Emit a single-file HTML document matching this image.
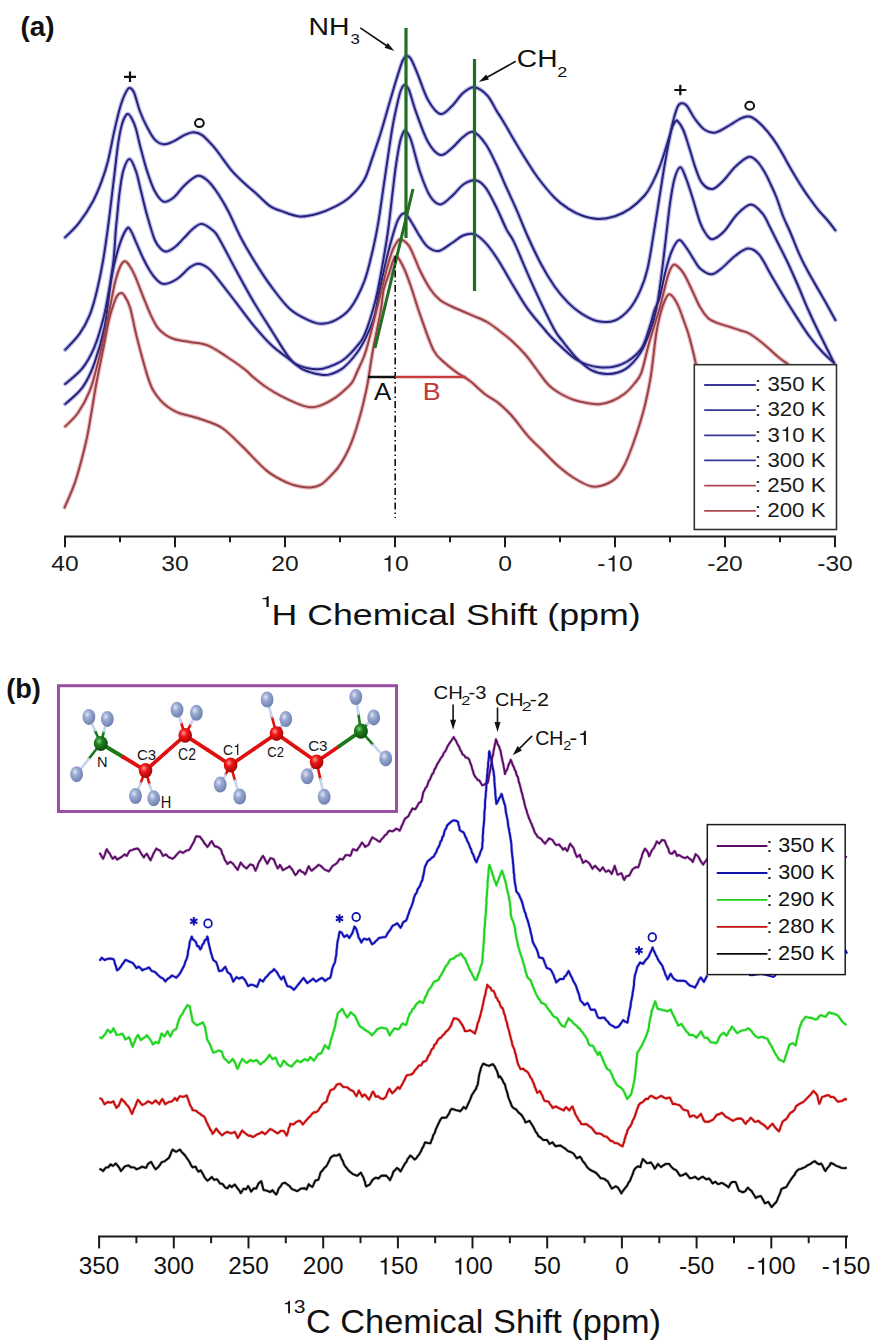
<!DOCTYPE html>
<html><head><meta charset="utf-8"><title>NMR spectra</title><style>
html,body{margin:0;padding:0;background:#fff;}
body{width:879px;height:1344px;overflow:hidden;position:relative;font-family:"Liberation Sans",sans-serif;}
svg{position:absolute;left:0;top:0;display:block;}
svg text{font-family:"Liberation Sans",sans-serif;}
</style></head><body>
<svg width="879" height="1344" viewBox="0 0 879 1344">
<defs>
<radialGradient id="gH" cx="0.38" cy="0.35" r="0.7"><stop offset="0" stop-color="#dfe6f6"/><stop offset="0.35" stop-color="#9aaad2"/><stop offset="1" stop-color="#6a7cab"/></radialGradient>
<radialGradient id="gC" cx="0.38" cy="0.35" r="0.7"><stop offset="0" stop-color="#ff9a9a"/><stop offset="0.35" stop-color="#f01818"/><stop offset="1" stop-color="#a00000"/></radialGradient>
<radialGradient id="gN" cx="0.38" cy="0.35" r="0.7"><stop offset="0" stop-color="#7fcf7f"/><stop offset="0.35" stop-color="#1f7f1f"/><stop offset="1" stop-color="#0a4a0a"/></radialGradient>
</defs>
<text transform="translate(20.40,35.80) scale(1.0076,1)" font-size="27.70" font-weight="bold" fill="#111">(a)</text>
<path d="M65.1,237.4 C67.4,235.0 74.4,228.9 79.0,222.9 C83.6,216.9 89.1,208.4 92.9,201.4 C96.7,194.4 99.2,187.8 101.7,181.1 C104.2,174.3 105.9,169.3 108.0,160.9 C110.1,152.5 112.3,139.9 114.4,130.6 C116.5,121.3 118.8,111.6 120.7,105.3 C122.6,99.0 124.2,95.5 125.7,92.6 C127.2,89.7 128.1,88.0 129.5,88.0 C130.9,88.0 132.2,88.6 134.0,92.5 C135.8,96.4 137.8,105.6 140.0,111.5 C142.2,117.4 144.9,123.0 147.4,127.7 C149.9,132.4 152.1,136.8 154.8,139.6 C157.5,142.4 160.5,144.1 163.7,144.3 C166.9,144.6 170.6,142.6 174.0,141.1 C177.4,139.6 181.2,136.6 184.4,135.1 C187.6,133.6 190.2,132.2 193.2,132.2 C196.1,132.2 198.6,132.6 202.1,135.1 C205.6,137.6 210.4,143.1 213.9,147.0 C217.4,150.9 219.8,154.9 222.8,158.8 C225.8,162.7 228.2,166.7 231.7,170.6 C235.1,174.5 239.6,178.8 243.5,182.5 C247.4,186.2 251.0,188.9 255.4,192.8 C259.8,196.7 265.7,203.1 270.0,206.1 C274.3,209.1 276.1,209.2 281.0,210.9 C285.9,212.6 293.1,215.9 299.2,216.4 C305.3,216.9 311.3,215.4 317.4,213.7 C323.5,212.0 330.2,209.2 335.6,206.4 C341.0,203.6 345.2,201.4 350.0,197.0 C354.8,192.6 360.4,186.4 364.1,180.0 C367.8,173.6 369.4,166.3 372.2,158.3 C375.0,150.3 378.2,141.1 381.0,132.0 C383.8,122.9 386.9,111.7 389.2,103.7 C391.5,95.7 393.3,89.7 395.0,84.0 C396.7,78.3 398.2,73.6 399.5,69.6 C400.8,65.6 401.8,62.3 403.0,60.0 C404.2,57.7 405.2,56.2 406.5,56.0 C407.8,55.8 409.1,55.8 411.0,59.0 C412.9,62.2 415.2,68.2 418.0,75.0 C420.8,81.8 424.3,93.5 428.0,100.0 C431.7,106.5 436.4,113.0 440.4,114.0 C444.4,115.0 448.2,109.5 452.0,106.0 C455.8,102.5 459.3,96.1 463.0,93.0 C466.7,89.9 470.1,86.9 474.2,87.3 C478.2,87.7 483.6,91.6 487.3,95.5 C491.0,99.4 494.2,107.0 496.4,110.5 C498.5,114.0 498.6,113.9 500.2,116.5 C501.8,119.1 503.4,121.6 506.0,126.0 C508.6,130.4 512.2,137.0 515.8,142.9 C519.3,148.8 523.6,155.9 527.3,161.7 C530.9,167.5 533.2,171.5 537.7,177.5 C542.2,183.5 549.5,192.5 554.6,197.7 C559.7,202.9 563.8,205.7 568.3,208.7 C572.8,211.7 576.9,213.8 581.9,215.5 C586.9,217.2 592.8,218.8 598.3,218.9 C603.8,219.0 609.6,218.0 614.9,216.3 C620.1,214.6 624.8,212.4 629.8,208.9 C634.8,205.4 640.9,199.7 644.6,195.5 C648.3,191.3 649.6,188.3 652.1,183.6 C654.6,178.9 657.3,172.9 659.5,167.2 C661.7,161.5 663.8,154.8 665.5,149.3 C667.2,143.9 668.4,140.1 669.9,134.5 C671.4,128.9 673.1,120.8 674.5,116.0 C675.9,111.2 676.8,108.1 678.0,106.0 C679.2,103.9 680.5,103.3 682.0,103.3 C683.5,103.3 684.8,103.4 687.0,106.0 C689.2,108.6 692.0,115.0 695.0,119.0 C698.0,123.0 701.5,127.8 705.0,130.0 C708.5,132.2 711.6,133.2 715.8,132.4 C720.0,131.6 726.0,127.3 730.0,125.0 C734.0,122.7 737.2,120.2 740.0,118.8 C742.8,117.4 744.7,116.7 746.8,116.5 C748.9,116.3 749.8,116.0 752.5,117.6 C755.2,119.2 759.4,122.7 762.8,126.2 C766.2,129.7 770.0,134.5 773.0,138.7 C776.0,142.9 778.0,146.1 781.0,151.2 C784.0,156.3 787.4,162.9 791.2,169.4 C795.0,175.9 800.4,184.8 803.7,189.9 C807.0,195.0 808.3,196.6 810.8,200.0 C813.2,203.4 815.4,206.5 818.4,210.1 C821.4,213.7 825.7,218.1 828.5,221.5 C831.3,224.9 834.2,228.8 835.4,230.3" fill="none" stroke="#bcbcec" stroke-width="4.4" stroke-linejoin="round" stroke-linecap="round"/>
<path d="M65.2,349.8 C67.5,347.2 75.2,340.0 79.3,334.2 C83.4,328.4 86.8,322.2 89.8,314.8 C92.8,307.4 95.0,298.7 97.2,289.5 C99.4,280.3 101.5,269.7 103.2,259.8 C104.9,249.9 106.4,238.9 107.6,230.0 C108.8,221.1 109.5,215.6 110.6,206.4 C111.7,197.2 113.1,185.3 114.4,174.8 C115.7,164.3 116.9,151.6 118.2,143.2 C119.5,134.8 120.5,129.1 122.0,124.2 C123.5,119.3 125.6,114.9 127.3,114.0 C129.0,113.1 130.6,116.5 132.0,119.0 C133.4,121.5 134.7,124.6 136.0,129.0 C137.3,133.4 138.1,138.3 140.0,145.5 C141.9,152.7 144.9,164.5 147.4,172.1 C149.9,179.7 152.1,186.4 154.8,191.3 C157.5,196.2 160.5,200.7 163.7,201.7 C166.9,202.7 170.6,200.0 174.0,197.3 C177.4,194.6 180.5,189.0 184.4,185.4 C188.3,181.8 193.8,176.5 197.7,175.8 C201.6,175.1 204.6,177.9 208.0,181.0 C211.4,184.1 215.0,189.1 218.4,194.3 C221.8,199.5 225.0,204.8 228.7,212.0 C232.4,219.2 236.4,229.2 240.6,237.2 C244.8,245.2 248.5,251.6 253.7,260.0 C258.9,268.4 265.8,279.2 271.9,287.4 C278.0,295.6 284.0,303.8 290.1,309.2 C296.2,314.6 303.2,317.7 308.3,320.1 C313.4,322.5 316.4,323.8 321.0,323.8 C325.6,323.8 330.8,322.6 335.6,320.1 C340.4,317.6 345.2,315.1 350.0,308.7 C354.8,302.3 360.3,291.5 364.1,281.8 C367.9,272.1 370.2,260.6 372.6,250.7 C375.0,240.8 376.7,231.8 378.3,222.4 C379.9,213.0 381.2,202.8 382.5,194.1 C383.8,185.4 384.4,180.7 386.0,170.0 C387.6,159.3 390.2,140.8 392.0,130.0 C393.8,119.2 395.5,111.7 397.0,105.0 C398.5,98.3 399.7,93.3 401.0,90.0 C402.3,86.7 403.3,85.0 404.6,85.0 C405.9,85.0 407.1,85.5 409.0,90.0 C410.9,94.5 412.8,103.3 416.0,112.0 C419.2,120.7 423.9,134.8 428.0,142.0 C432.1,149.2 436.4,154.0 440.4,155.0 C444.4,156.0 448.2,151.0 452.0,148.0 C455.8,145.0 459.4,139.7 463.0,137.0 C466.6,134.3 469.7,130.8 473.5,132.0 C477.3,133.2 481.9,138.7 485.6,144.0 C489.4,149.3 492.5,156.5 496.0,163.8 C499.5,171.1 503.0,179.9 506.5,187.7 C510.0,195.5 513.4,202.6 516.9,210.6 C520.4,218.6 523.3,226.6 527.3,235.5 C531.3,244.4 536.5,255.5 541.0,264.0 C545.5,272.5 550.1,280.0 554.6,286.5 C559.1,293.0 563.8,298.3 568.3,302.9 C572.8,307.4 576.9,310.7 581.9,313.8 C586.9,316.9 592.8,320.2 598.3,321.3 C603.8,322.4 609.6,322.6 614.9,320.5 C620.1,318.4 625.6,313.6 629.8,308.6 C634.0,303.6 637.2,297.4 640.2,290.7 C643.2,284.0 645.4,277.8 647.6,268.4 C649.8,259.0 651.6,246.1 653.6,234.2 C655.6,222.3 657.5,209.4 659.5,197.0 C661.5,184.6 663.5,171.0 665.5,159.8 C667.5,148.6 669.8,136.3 671.4,130.0 C673.0,123.7 674.0,123.5 675.0,122.0 C676.0,120.5 676.1,119.7 677.5,121.0 C678.9,122.3 681.3,125.5 683.3,130.0 C685.3,134.5 687.3,141.7 689.3,147.9 C691.3,154.1 693.1,161.3 695.2,167.2 C697.3,173.0 699.1,179.4 702.0,183.0 C704.9,186.6 708.7,189.5 712.4,189.0 C716.1,188.5 720.2,183.7 724.0,180.0 C727.8,176.3 730.9,170.8 735.0,167.0 C739.1,163.2 744.8,157.9 748.5,157.0 C752.2,156.1 754.4,158.8 757.1,161.4 C759.9,164.0 762.7,168.9 765.0,172.8 C767.3,176.7 769.0,180.8 771.0,185.0 C773.0,189.2 774.7,192.8 776.7,198.0 C778.7,203.2 780.7,210.2 783.0,216.0 C785.3,221.8 787.9,226.6 790.6,233.0 C793.3,239.4 796.5,247.9 799.4,254.4 C802.3,260.9 805.1,266.2 808.3,272.1 C811.5,278.0 815.0,283.9 818.4,289.8 C821.8,295.7 825.7,302.4 828.5,307.5 C831.3,312.6 834.2,318.0 835.4,320.1" fill="none" stroke="#bcbcec" stroke-width="4.4" stroke-linejoin="round" stroke-linecap="round"/>
<path d="M65.2,384.0 C68.0,381.4 77.5,374.5 82.3,368.4 C87.1,362.3 90.7,355.8 94.2,347.6 C97.7,339.4 100.7,329.0 103.2,319.3 C105.7,309.6 107.4,299.4 109.1,289.5 C110.8,279.6 112.5,269.7 113.6,259.8 C114.7,249.9 115.2,236.8 115.8,230.0 C116.3,223.2 116.3,225.0 116.9,219.0 C117.5,213.0 118.4,201.8 119.4,193.8 C120.5,185.8 121.5,176.8 123.2,171.0 C124.9,165.2 127.4,159.0 129.5,159.0 C131.6,159.0 134.2,166.3 135.9,171.0 C137.7,175.7 138.1,179.3 140.0,186.9 C141.9,194.5 144.9,207.7 147.4,216.5 C149.9,225.3 152.5,234.6 154.8,240.0 C157.1,245.4 159.1,247.1 161.0,249.0 C162.9,250.9 164.1,251.8 166.4,251.5 C168.7,251.2 172.0,249.3 175.0,247.0 C178.0,244.7 181.4,240.5 184.4,237.5 C187.4,234.5 190.1,231.1 193.0,228.8 C195.9,226.5 198.6,223.5 202.1,223.9 C205.6,224.3 210.9,228.6 213.9,231.3 C216.9,234.0 216.3,233.7 219.9,240.0 C223.5,246.3 229.9,258.9 235.5,269.2 C241.1,279.5 247.6,291.6 253.7,301.9 C259.8,312.2 266.1,321.9 271.9,331.0 C277.7,340.1 283.8,350.7 288.3,356.5 C292.9,362.3 294.4,363.5 299.2,365.6 C304.0,367.7 312.3,369.2 317.4,369.3 C322.5,369.4 325.7,368.0 330.0,366.4 C334.3,364.8 338.9,363.0 343.4,359.7 C347.9,356.4 353.2,350.6 356.8,346.3 C360.4,342.1 361.7,341.9 364.8,334.2 C367.9,326.5 372.6,311.8 375.5,300.2 C378.4,288.6 380.4,276.7 382.5,264.9 C384.6,253.1 386.6,241.3 388.2,229.5 C389.8,217.7 391.1,204.8 392.4,194.1 C393.7,183.3 394.7,173.7 396.0,165.0 C397.3,156.3 398.8,147.3 400.0,142.0 C401.2,136.7 402.1,134.8 403.0,133.0 C403.9,131.2 404.3,129.8 405.6,131.0 C406.9,132.2 408.6,133.2 411.0,140.0 C413.4,146.8 416.8,162.7 420.0,172.0 C423.2,181.3 426.6,190.6 430.0,196.0 C433.4,201.4 436.7,204.4 440.4,204.4 C444.1,204.4 448.1,199.4 452.0,196.0 C455.9,192.6 460.0,186.6 464.0,184.0 C468.0,181.4 472.6,179.8 476.2,180.4 C479.9,181.0 482.3,183.3 485.6,187.7 C488.9,192.0 492.5,199.6 496.0,206.5 C499.5,213.4 503.6,223.6 506.5,229.4 C509.4,235.2 510.2,234.2 513.7,241.4 C517.2,248.6 522.8,262.6 527.3,272.8 C531.8,283.1 536.5,293.4 541.0,302.9 C545.5,312.4 551.1,323.7 554.6,330.0 C558.1,336.3 558.5,335.9 562.2,340.7 C565.9,345.4 572.1,353.6 577.0,358.5 C581.9,363.4 586.6,367.7 591.8,370.3 C597.0,372.9 602.3,374.2 608.0,374.0 C613.7,373.8 620.4,372.4 625.8,368.8 C631.2,365.2 636.5,359.0 640.6,352.5 C644.7,346.0 648.0,337.3 650.6,330.0 C653.2,322.7 654.8,317.1 656.5,308.6 C658.2,300.1 659.5,290.0 661.0,278.8 C662.5,267.6 664.0,254.0 665.5,241.6 C667.0,229.2 668.4,214.8 669.9,204.4 C671.4,194.0 672.6,185.3 674.4,179.1 C676.1,172.9 678.4,167.2 680.4,167.2 C682.4,167.2 684.3,174.1 686.3,179.1 C688.3,184.1 690.0,189.8 692.3,197.0 C694.6,204.2 697.7,216.1 700.0,222.3 C702.3,228.5 703.9,231.2 706.0,234.0 C708.1,236.8 709.4,239.6 712.4,239.2 C715.4,238.8 719.9,235.6 724.0,231.5 C728.1,227.4 732.5,219.0 737.0,214.5 C741.5,210.0 746.5,204.7 750.8,204.6 C755.1,204.5 759.5,210.0 762.8,213.9 C766.0,217.8 767.8,223.0 770.3,227.8 C772.8,232.7 774.9,237.1 777.9,243.0 C780.9,248.9 784.6,256.0 788.0,263.2 C791.4,270.4 794.8,278.2 798.2,286.0 C801.6,293.8 804.9,302.4 808.3,310.0 C811.7,317.6 815.0,324.6 818.4,331.5 C821.8,338.4 825.9,346.4 828.5,351.7 C831.1,357.0 833.2,361.2 834.2,363.1" fill="none" stroke="#bcbcec" stroke-width="4.4" stroke-linejoin="round" stroke-linecap="round"/>
<path d="M65.2,404.1 C68.0,401.4 77.5,394.4 82.3,387.7 C87.1,381.0 90.5,374.1 94.2,363.9 C97.9,353.7 101.6,341.6 104.6,326.7 C107.6,311.8 109.6,288.2 112.1,274.6 C114.6,261.0 117.0,252.6 119.5,244.9 C122.0,237.2 125.1,230.8 127.0,228.5 C128.9,226.2 129.5,228.8 131.0,231.0 C132.5,233.2 133.9,237.3 135.9,241.8 C137.9,246.3 140.7,253.1 143.0,258.0 C145.3,262.9 147.7,267.3 150.0,271.0 C152.3,274.7 154.7,277.8 157.0,280.0 C159.3,282.2 160.7,284.3 164.0,284.1 C167.3,283.9 172.7,281.8 177.0,279.0 C181.3,276.2 186.5,269.9 190.0,267.3 C193.5,264.8 195.2,263.6 198.2,263.7 C201.2,263.8 204.8,265.6 208.0,268.0 C211.2,270.4 212.7,272.7 217.3,278.3 C221.9,283.9 229.4,294.0 235.5,301.9 C241.6,309.8 247.6,318.3 253.7,325.6 C259.8,332.9 266.1,340.1 271.9,345.6 C277.7,351.1 283.1,354.4 288.3,358.4 C293.5,362.3 297.4,366.6 302.9,369.3 C308.3,372.0 316.5,373.9 321.0,374.7 C325.5,375.5 326.3,375.6 330.0,374.4 C333.7,373.2 338.9,371.3 343.4,367.7 C347.9,364.1 353.0,358.1 356.8,353.0 C360.6,347.9 363.3,342.9 366.2,336.9 C369.1,330.9 372.0,324.6 374.2,316.8 C376.4,309.0 377.5,299.8 379.6,290.0 C381.7,280.2 384.7,266.7 386.8,257.8 C388.9,248.9 390.5,243.0 392.4,236.6 C394.3,230.2 396.1,223.5 398.1,219.6 C400.1,215.7 402.4,213.0 404.5,213.2 C406.6,213.4 408.2,217.1 410.8,221.0 C413.4,224.9 417.1,232.3 420.0,236.6 C422.9,240.9 424.9,244.6 428.0,247.0 C431.1,249.4 434.7,251.7 438.7,251.0 C442.7,250.3 447.9,245.6 452.0,243.0 C456.1,240.4 459.3,237.0 463.0,235.5 C466.7,234.0 470.4,232.9 474.2,234.1 C478.0,235.3 481.6,238.6 485.6,242.9 C489.6,247.2 493.4,252.7 498.1,260.0 C502.8,267.3 508.8,278.4 513.7,286.5 C518.6,294.6 522.1,301.1 527.3,308.3 C532.5,315.6 540.4,324.6 545.0,330.0 C549.6,335.4 549.5,335.7 554.8,340.7 C560.1,345.7 569.6,355.6 577.0,360.0 C584.4,364.4 591.8,366.6 599.2,367.3 C606.6,368.0 614.5,367.3 621.4,364.4 C628.3,361.4 635.9,355.8 640.6,349.6 C645.3,343.4 647.2,334.0 649.5,327.4 C651.8,320.8 652.8,314.9 654.5,310.0 C656.2,305.1 657.7,304.6 659.5,298.2 C661.3,291.8 663.5,279.1 665.5,271.4 C667.5,263.7 669.2,257.2 671.4,252.0 C673.6,246.8 676.4,240.8 678.9,240.1 C681.4,239.4 683.8,244.4 686.3,247.6 C688.8,250.8 691.5,256.0 693.8,259.5 C696.1,263.0 697.1,265.9 700.0,268.4 C702.9,270.8 707.7,274.3 711.4,274.2 C715.1,274.1 718.1,271.0 722.0,268.0 C725.9,265.0 730.7,259.2 735.0,256.0 C739.3,252.8 743.8,248.8 747.8,248.5 C751.8,248.2 755.0,249.8 759.0,254.4 C763.0,259.0 767.4,268.8 771.6,275.9 C775.8,283.0 780.0,290.4 784.2,297.3 C788.4,304.2 792.7,311.1 796.9,317.6 C801.1,324.1 805.3,330.8 809.5,336.5 C813.7,342.2 818.1,347.3 822.2,351.7 C826.3,356.1 832.2,361.2 834.2,363.1" fill="none" stroke="#bcbcec" stroke-width="4.4" stroke-linejoin="round" stroke-linecap="round"/>
<path d="M65.2,426.4 C67.3,424.2 73.8,418.9 77.9,413.0 C82.0,407.1 86.3,399.6 89.8,390.7 C93.3,381.8 95.7,371.4 98.7,359.5 C101.7,347.6 104.9,332.2 107.6,319.3 C110.3,306.4 113.0,290.8 115.1,282.1 C117.2,273.4 118.4,270.5 120.0,267.0 C121.6,263.5 123.2,261.6 124.7,261.3 C126.2,261.0 127.4,262.8 129.0,265.0 C130.6,267.2 132.0,269.3 134.4,274.6 C136.8,279.9 140.7,290.6 143.3,297.0 C145.9,303.4 147.7,308.2 150.0,313.3 C152.3,318.4 154.9,323.8 157.4,327.3 C159.9,330.8 162.2,332.5 165.0,334.5 C167.8,336.5 170.3,337.9 174.5,339.2 C178.7,340.4 184.4,340.9 190.0,342.0 C195.6,343.1 202.1,343.2 208.2,345.6 C214.3,348.0 220.3,352.6 226.4,356.5 C232.5,360.4 240.1,365.8 244.6,369.3 C249.1,372.8 250.1,374.6 253.7,377.5 C257.3,380.4 261.6,384.0 266.0,387.0 C270.4,390.0 274.6,392.7 280.3,395.6 C286.0,398.5 294.8,402.7 300.0,404.6 C305.2,406.6 308.0,407.3 311.8,407.3 C315.6,407.3 318.9,406.1 322.7,404.6 C326.5,403.1 331.1,400.5 334.6,398.2 C338.1,395.9 340.8,393.5 343.7,390.9 C346.6,388.3 349.7,385.8 351.9,382.7 C354.1,379.6 354.9,376.7 357.0,372.0 C359.1,367.3 362.4,361.3 364.8,354.3 C367.2,347.3 369.3,338.7 371.5,330.2 C373.7,321.7 376.4,310.8 378.2,303.4 C380.0,296.0 381.0,292.0 382.5,286.1 C384.0,280.2 385.4,273.9 387.0,268.0 C388.6,262.1 390.7,255.0 392.4,250.7 C394.1,246.4 395.6,243.9 397.0,242.0 C398.4,240.1 398.8,238.7 400.9,239.4 C403.0,240.2 406.2,241.3 409.4,246.5 C412.6,251.7 416.5,263.4 420.0,270.5 C423.5,277.6 426.9,284.1 430.2,289.0 C433.5,293.9 436.6,297.2 440.0,300.0 C443.4,302.8 446.9,304.2 450.6,306.0 C454.3,307.8 458.0,309.3 462.0,311.0 C466.0,312.7 470.3,314.5 474.5,316.3 C478.7,318.1 483.0,319.7 487.0,322.0 C491.0,324.3 494.2,326.8 498.4,330.0 C502.6,333.2 507.4,336.8 512.0,341.0 C516.5,345.2 521.5,350.2 525.7,355.0 C529.9,359.8 533.1,364.9 537.0,370.0 C540.9,375.1 544.9,381.3 548.9,385.3 C552.9,389.3 556.8,391.6 561.0,394.0 C565.2,396.4 569.8,398.5 574.1,400.0 C578.4,401.5 582.8,402.3 587.0,403.0 C591.2,403.7 595.2,404.5 599.4,404.2 C603.6,403.9 607.8,402.8 612.0,401.0 C616.2,399.2 620.9,396.5 624.6,393.7 C628.3,390.9 631.2,387.5 634.0,384.0 C636.8,380.5 638.9,379.5 641.4,372.6 C643.9,365.7 646.2,353.1 649.2,342.4 C652.2,331.7 656.5,319.2 659.5,308.6 C662.5,298.0 665.1,285.6 667.0,278.8 C668.9,272.0 669.6,270.4 671.0,268.0 C672.4,265.6 673.1,263.9 675.1,264.7 C677.1,265.5 680.4,268.6 683.3,272.9 C686.2,277.2 689.5,285.0 692.3,290.7 C695.1,296.4 697.4,302.6 700.0,307.1 C702.6,311.7 705.3,315.4 708.0,318.0 C710.7,320.6 712.6,321.1 716.3,322.6 C720.0,324.1 726.0,325.7 730.0,327.0 C734.0,328.3 736.6,329.0 740.0,330.2 C743.4,331.4 745.9,331.5 750.1,334.0 C754.3,336.5 760.7,341.6 765.3,345.4 C769.9,349.2 774.1,353.6 777.9,356.8 C781.7,360.0 786.0,362.8 788.0,364.3 C790.0,365.8 789.7,365.7 790.0,366.0" fill="none" stroke="#edc0c2" stroke-width="4.4" stroke-linejoin="round" stroke-linecap="round"/>
<path d="M64.6,507.5 C66.4,503.1 72.0,491.6 75.5,480.9 C79.0,470.2 83.1,454.3 85.7,443.3 C88.3,432.3 89.3,424.7 91.0,415.0 C92.7,405.3 94.0,396.3 96.0,385.3 C98.0,374.3 101.0,360.0 103.2,349.0 C105.4,338.0 107.3,327.0 109.1,319.3 C110.9,311.6 112.7,306.9 114.0,303.0 C115.3,299.1 116.0,297.6 117.0,296.0 C118.0,294.4 119.1,293.4 120.3,293.2 C121.5,293.0 122.4,292.6 124.0,295.0 C125.6,297.4 127.8,300.3 130.0,307.4 C132.2,314.5 134.0,326.2 136.9,337.5 C139.8,348.8 144.5,366.4 147.2,375.1 C149.9,383.9 150.7,385.7 153.0,390.0 C155.3,394.3 158.3,397.9 160.8,400.7 C163.3,403.5 165.2,405.0 168.0,407.0 C170.8,409.0 174.2,411.1 177.9,412.6 C181.6,414.1 186.0,414.9 190.0,416.0 C194.0,417.1 196.4,417.5 201.8,419.5 C207.2,421.5 215.4,423.4 222.2,428.0 C229.0,432.6 235.3,439.7 242.7,446.8 C250.1,453.9 259.2,464.6 266.6,470.6 C274.0,476.6 281.4,480.0 287.0,482.6 C292.6,485.2 296.0,485.7 300.0,486.5 C304.0,487.3 307.4,487.7 310.9,487.4 C314.4,487.1 317.7,486.4 320.9,484.6 C324.1,482.8 327.1,479.4 330.0,476.5 C332.9,473.6 335.6,470.9 338.2,467.4 C340.8,463.9 343.4,459.4 345.5,455.5 C347.6,451.6 349.2,448.2 351.0,443.7 C352.8,439.1 354.6,434.0 356.4,428.2 C358.2,422.4 360.4,414.9 361.9,409.1 C363.4,403.3 364.4,398.5 365.5,393.6 C366.6,388.8 367.0,387.2 368.2,380.0 C369.4,372.8 371.4,358.6 372.9,350.3 C374.3,342.0 375.6,336.9 376.9,330.2 C378.2,323.5 379.8,316.8 380.9,310.1 C382.0,303.4 382.2,296.4 383.6,290.0 C385.1,283.6 388.0,276.7 389.6,271.9 C391.2,267.1 391.8,263.6 393.0,261.0 C394.2,258.4 394.9,255.3 396.7,256.4 C398.5,257.5 401.3,262.8 403.7,267.7 C406.1,272.6 408.1,278.3 410.8,286.1 C413.5,293.9 416.2,303.7 420.0,314.4 C423.8,325.1 429.4,342.3 433.6,350.4 C437.8,358.5 441.0,359.2 445.0,363.0 C449.0,366.8 453.3,370.0 457.5,373.0 C461.7,376.0 465.4,377.5 470.0,381.0 C474.6,384.5 480.1,390.3 484.8,394.0 C489.5,397.7 493.9,399.3 498.4,403.0 C502.9,406.7 507.1,410.5 512.0,416.0 C516.9,421.5 522.8,430.1 527.8,435.8 C532.8,441.5 537.1,445.1 542.0,450.0 C546.9,454.9 552.0,460.5 557.3,465.2 C562.6,469.9 568.4,474.5 574.0,478.0 C579.6,481.5 586.0,485.1 591.0,486.3 C596.0,487.5 599.8,486.4 604.0,485.0 C608.2,483.6 612.7,481.3 616.2,477.8 C619.7,474.3 622.2,469.6 625.0,464.0 C627.8,458.4 630.5,451.0 633.0,444.2 C635.5,437.4 637.9,430.0 640.0,423.0 C642.1,416.0 643.9,410.0 645.7,402.0 C647.5,394.0 649.3,386.2 651.0,375.0 C652.7,363.8 654.5,345.0 656.0,335.0 C657.5,325.0 658.5,320.8 660.0,315.0 C661.5,309.2 663.4,303.4 665.0,300.0 C666.6,296.6 667.8,293.7 669.9,294.4 C672.0,295.1 674.9,299.2 677.4,304.1 C679.9,309.0 682.9,318.2 684.8,323.5 C686.7,328.8 687.2,329.7 689.0,336.0 C690.8,342.3 694.0,355.5 695.3,361.2 C696.6,366.9 696.7,368.5 697.0,370.0" fill="none" stroke="#edc0c2" stroke-width="4.4" stroke-linejoin="round" stroke-linecap="round"/>
<path d="M65.1,237.4 C67.4,235.0 74.4,228.9 79.0,222.9 C83.6,216.9 89.1,208.4 92.9,201.4 C96.7,194.4 99.2,187.8 101.7,181.1 C104.2,174.3 105.9,169.3 108.0,160.9 C110.1,152.5 112.3,139.9 114.4,130.6 C116.5,121.3 118.8,111.6 120.7,105.3 C122.6,99.0 124.2,95.5 125.7,92.6 C127.2,89.7 128.1,88.0 129.5,88.0 C130.9,88.0 132.2,88.6 134.0,92.5 C135.8,96.4 137.8,105.6 140.0,111.5 C142.2,117.4 144.9,123.0 147.4,127.7 C149.9,132.4 152.1,136.8 154.8,139.6 C157.5,142.4 160.5,144.1 163.7,144.3 C166.9,144.6 170.6,142.6 174.0,141.1 C177.4,139.6 181.2,136.6 184.4,135.1 C187.6,133.6 190.2,132.2 193.2,132.2 C196.1,132.2 198.6,132.6 202.1,135.1 C205.6,137.6 210.4,143.1 213.9,147.0 C217.4,150.9 219.8,154.9 222.8,158.8 C225.8,162.7 228.2,166.7 231.7,170.6 C235.1,174.5 239.6,178.8 243.5,182.5 C247.4,186.2 251.0,188.9 255.4,192.8 C259.8,196.7 265.7,203.1 270.0,206.1 C274.3,209.1 276.1,209.2 281.0,210.9 C285.9,212.6 293.1,215.9 299.2,216.4 C305.3,216.9 311.3,215.4 317.4,213.7 C323.5,212.0 330.2,209.2 335.6,206.4 C341.0,203.6 345.2,201.4 350.0,197.0 C354.8,192.6 360.4,186.4 364.1,180.0 C367.8,173.6 369.4,166.3 372.2,158.3 C375.0,150.3 378.2,141.1 381.0,132.0 C383.8,122.9 386.9,111.7 389.2,103.7 C391.5,95.7 393.3,89.7 395.0,84.0 C396.7,78.3 398.2,73.6 399.5,69.6 C400.8,65.6 401.8,62.3 403.0,60.0 C404.2,57.7 405.2,56.2 406.5,56.0 C407.8,55.8 409.1,55.8 411.0,59.0 C412.9,62.2 415.2,68.2 418.0,75.0 C420.8,81.8 424.3,93.5 428.0,100.0 C431.7,106.5 436.4,113.0 440.4,114.0 C444.4,115.0 448.2,109.5 452.0,106.0 C455.8,102.5 459.3,96.1 463.0,93.0 C466.7,89.9 470.1,86.9 474.2,87.3 C478.2,87.7 483.6,91.6 487.3,95.5 C491.0,99.4 494.2,107.0 496.4,110.5 C498.5,114.0 498.6,113.9 500.2,116.5 C501.8,119.1 503.4,121.6 506.0,126.0 C508.6,130.4 512.2,137.0 515.8,142.9 C519.3,148.8 523.6,155.9 527.3,161.7 C530.9,167.5 533.2,171.5 537.7,177.5 C542.2,183.5 549.5,192.5 554.6,197.7 C559.7,202.9 563.8,205.7 568.3,208.7 C572.8,211.7 576.9,213.8 581.9,215.5 C586.9,217.2 592.8,218.8 598.3,218.9 C603.8,219.0 609.6,218.0 614.9,216.3 C620.1,214.6 624.8,212.4 629.8,208.9 C634.8,205.4 640.9,199.7 644.6,195.5 C648.3,191.3 649.6,188.3 652.1,183.6 C654.6,178.9 657.3,172.9 659.5,167.2 C661.7,161.5 663.8,154.8 665.5,149.3 C667.2,143.9 668.4,140.1 669.9,134.5 C671.4,128.9 673.1,120.8 674.5,116.0 C675.9,111.2 676.8,108.1 678.0,106.0 C679.2,103.9 680.5,103.3 682.0,103.3 C683.5,103.3 684.8,103.4 687.0,106.0 C689.2,108.6 692.0,115.0 695.0,119.0 C698.0,123.0 701.5,127.8 705.0,130.0 C708.5,132.2 711.6,133.2 715.8,132.4 C720.0,131.6 726.0,127.3 730.0,125.0 C734.0,122.7 737.2,120.2 740.0,118.8 C742.8,117.4 744.7,116.7 746.8,116.5 C748.9,116.3 749.8,116.0 752.5,117.6 C755.2,119.2 759.4,122.7 762.8,126.2 C766.2,129.7 770.0,134.5 773.0,138.7 C776.0,142.9 778.0,146.1 781.0,151.2 C784.0,156.3 787.4,162.9 791.2,169.4 C795.0,175.9 800.4,184.8 803.7,189.9 C807.0,195.0 808.3,196.6 810.8,200.0 C813.2,203.4 815.4,206.5 818.4,210.1 C821.4,213.7 825.7,218.1 828.5,221.5 C831.3,224.9 834.2,228.8 835.4,230.3" fill="none" stroke="#28237a" stroke-width="2.0" stroke-linejoin="round" stroke-linecap="round"/>
<path d="M65.2,349.8 C67.5,347.2 75.2,340.0 79.3,334.2 C83.4,328.4 86.8,322.2 89.8,314.8 C92.8,307.4 95.0,298.7 97.2,289.5 C99.4,280.3 101.5,269.7 103.2,259.8 C104.9,249.9 106.4,238.9 107.6,230.0 C108.8,221.1 109.5,215.6 110.6,206.4 C111.7,197.2 113.1,185.3 114.4,174.8 C115.7,164.3 116.9,151.6 118.2,143.2 C119.5,134.8 120.5,129.1 122.0,124.2 C123.5,119.3 125.6,114.9 127.3,114.0 C129.0,113.1 130.6,116.5 132.0,119.0 C133.4,121.5 134.7,124.6 136.0,129.0 C137.3,133.4 138.1,138.3 140.0,145.5 C141.9,152.7 144.9,164.5 147.4,172.1 C149.9,179.7 152.1,186.4 154.8,191.3 C157.5,196.2 160.5,200.7 163.7,201.7 C166.9,202.7 170.6,200.0 174.0,197.3 C177.4,194.6 180.5,189.0 184.4,185.4 C188.3,181.8 193.8,176.5 197.7,175.8 C201.6,175.1 204.6,177.9 208.0,181.0 C211.4,184.1 215.0,189.1 218.4,194.3 C221.8,199.5 225.0,204.8 228.7,212.0 C232.4,219.2 236.4,229.2 240.6,237.2 C244.8,245.2 248.5,251.6 253.7,260.0 C258.9,268.4 265.8,279.2 271.9,287.4 C278.0,295.6 284.0,303.8 290.1,309.2 C296.2,314.6 303.2,317.7 308.3,320.1 C313.4,322.5 316.4,323.8 321.0,323.8 C325.6,323.8 330.8,322.6 335.6,320.1 C340.4,317.6 345.2,315.1 350.0,308.7 C354.8,302.3 360.3,291.5 364.1,281.8 C367.9,272.1 370.2,260.6 372.6,250.7 C375.0,240.8 376.7,231.8 378.3,222.4 C379.9,213.0 381.2,202.8 382.5,194.1 C383.8,185.4 384.4,180.7 386.0,170.0 C387.6,159.3 390.2,140.8 392.0,130.0 C393.8,119.2 395.5,111.7 397.0,105.0 C398.5,98.3 399.7,93.3 401.0,90.0 C402.3,86.7 403.3,85.0 404.6,85.0 C405.9,85.0 407.1,85.5 409.0,90.0 C410.9,94.5 412.8,103.3 416.0,112.0 C419.2,120.7 423.9,134.8 428.0,142.0 C432.1,149.2 436.4,154.0 440.4,155.0 C444.4,156.0 448.2,151.0 452.0,148.0 C455.8,145.0 459.4,139.7 463.0,137.0 C466.6,134.3 469.7,130.8 473.5,132.0 C477.3,133.2 481.9,138.7 485.6,144.0 C489.4,149.3 492.5,156.5 496.0,163.8 C499.5,171.1 503.0,179.9 506.5,187.7 C510.0,195.5 513.4,202.6 516.9,210.6 C520.4,218.6 523.3,226.6 527.3,235.5 C531.3,244.4 536.5,255.5 541.0,264.0 C545.5,272.5 550.1,280.0 554.6,286.5 C559.1,293.0 563.8,298.3 568.3,302.9 C572.8,307.4 576.9,310.7 581.9,313.8 C586.9,316.9 592.8,320.2 598.3,321.3 C603.8,322.4 609.6,322.6 614.9,320.5 C620.1,318.4 625.6,313.6 629.8,308.6 C634.0,303.6 637.2,297.4 640.2,290.7 C643.2,284.0 645.4,277.8 647.6,268.4 C649.8,259.0 651.6,246.1 653.6,234.2 C655.6,222.3 657.5,209.4 659.5,197.0 C661.5,184.6 663.5,171.0 665.5,159.8 C667.5,148.6 669.8,136.3 671.4,130.0 C673.0,123.7 674.0,123.5 675.0,122.0 C676.0,120.5 676.1,119.7 677.5,121.0 C678.9,122.3 681.3,125.5 683.3,130.0 C685.3,134.5 687.3,141.7 689.3,147.9 C691.3,154.1 693.1,161.3 695.2,167.2 C697.3,173.0 699.1,179.4 702.0,183.0 C704.9,186.6 708.7,189.5 712.4,189.0 C716.1,188.5 720.2,183.7 724.0,180.0 C727.8,176.3 730.9,170.8 735.0,167.0 C739.1,163.2 744.8,157.9 748.5,157.0 C752.2,156.1 754.4,158.8 757.1,161.4 C759.9,164.0 762.7,168.9 765.0,172.8 C767.3,176.7 769.0,180.8 771.0,185.0 C773.0,189.2 774.7,192.8 776.7,198.0 C778.7,203.2 780.7,210.2 783.0,216.0 C785.3,221.8 787.9,226.6 790.6,233.0 C793.3,239.4 796.5,247.9 799.4,254.4 C802.3,260.9 805.1,266.2 808.3,272.1 C811.5,278.0 815.0,283.9 818.4,289.8 C821.8,295.7 825.7,302.4 828.5,307.5 C831.3,312.6 834.2,318.0 835.4,320.1" fill="none" stroke="#28237a" stroke-width="2.0" stroke-linejoin="round" stroke-linecap="round"/>
<path d="M65.2,384.0 C68.0,381.4 77.5,374.5 82.3,368.4 C87.1,362.3 90.7,355.8 94.2,347.6 C97.7,339.4 100.7,329.0 103.2,319.3 C105.7,309.6 107.4,299.4 109.1,289.5 C110.8,279.6 112.5,269.7 113.6,259.8 C114.7,249.9 115.2,236.8 115.8,230.0 C116.3,223.2 116.3,225.0 116.9,219.0 C117.5,213.0 118.4,201.8 119.4,193.8 C120.5,185.8 121.5,176.8 123.2,171.0 C124.9,165.2 127.4,159.0 129.5,159.0 C131.6,159.0 134.2,166.3 135.9,171.0 C137.7,175.7 138.1,179.3 140.0,186.9 C141.9,194.5 144.9,207.7 147.4,216.5 C149.9,225.3 152.5,234.6 154.8,240.0 C157.1,245.4 159.1,247.1 161.0,249.0 C162.9,250.9 164.1,251.8 166.4,251.5 C168.7,251.2 172.0,249.3 175.0,247.0 C178.0,244.7 181.4,240.5 184.4,237.5 C187.4,234.5 190.1,231.1 193.0,228.8 C195.9,226.5 198.6,223.5 202.1,223.9 C205.6,224.3 210.9,228.6 213.9,231.3 C216.9,234.0 216.3,233.7 219.9,240.0 C223.5,246.3 229.9,258.9 235.5,269.2 C241.1,279.5 247.6,291.6 253.7,301.9 C259.8,312.2 266.1,321.9 271.9,331.0 C277.7,340.1 283.8,350.7 288.3,356.5 C292.9,362.3 294.4,363.5 299.2,365.6 C304.0,367.7 312.3,369.2 317.4,369.3 C322.5,369.4 325.7,368.0 330.0,366.4 C334.3,364.8 338.9,363.0 343.4,359.7 C347.9,356.4 353.2,350.6 356.8,346.3 C360.4,342.1 361.7,341.9 364.8,334.2 C367.9,326.5 372.6,311.8 375.5,300.2 C378.4,288.6 380.4,276.7 382.5,264.9 C384.6,253.1 386.6,241.3 388.2,229.5 C389.8,217.7 391.1,204.8 392.4,194.1 C393.7,183.3 394.7,173.7 396.0,165.0 C397.3,156.3 398.8,147.3 400.0,142.0 C401.2,136.7 402.1,134.8 403.0,133.0 C403.9,131.2 404.3,129.8 405.6,131.0 C406.9,132.2 408.6,133.2 411.0,140.0 C413.4,146.8 416.8,162.7 420.0,172.0 C423.2,181.3 426.6,190.6 430.0,196.0 C433.4,201.4 436.7,204.4 440.4,204.4 C444.1,204.4 448.1,199.4 452.0,196.0 C455.9,192.6 460.0,186.6 464.0,184.0 C468.0,181.4 472.6,179.8 476.2,180.4 C479.9,181.0 482.3,183.3 485.6,187.7 C488.9,192.0 492.5,199.6 496.0,206.5 C499.5,213.4 503.6,223.6 506.5,229.4 C509.4,235.2 510.2,234.2 513.7,241.4 C517.2,248.6 522.8,262.6 527.3,272.8 C531.8,283.1 536.5,293.4 541.0,302.9 C545.5,312.4 551.1,323.7 554.6,330.0 C558.1,336.3 558.5,335.9 562.2,340.7 C565.9,345.4 572.1,353.6 577.0,358.5 C581.9,363.4 586.6,367.7 591.8,370.3 C597.0,372.9 602.3,374.2 608.0,374.0 C613.7,373.8 620.4,372.4 625.8,368.8 C631.2,365.2 636.5,359.0 640.6,352.5 C644.7,346.0 648.0,337.3 650.6,330.0 C653.2,322.7 654.8,317.1 656.5,308.6 C658.2,300.1 659.5,290.0 661.0,278.8 C662.5,267.6 664.0,254.0 665.5,241.6 C667.0,229.2 668.4,214.8 669.9,204.4 C671.4,194.0 672.6,185.3 674.4,179.1 C676.1,172.9 678.4,167.2 680.4,167.2 C682.4,167.2 684.3,174.1 686.3,179.1 C688.3,184.1 690.0,189.8 692.3,197.0 C694.6,204.2 697.7,216.1 700.0,222.3 C702.3,228.5 703.9,231.2 706.0,234.0 C708.1,236.8 709.4,239.6 712.4,239.2 C715.4,238.8 719.9,235.6 724.0,231.5 C728.1,227.4 732.5,219.0 737.0,214.5 C741.5,210.0 746.5,204.7 750.8,204.6 C755.1,204.5 759.5,210.0 762.8,213.9 C766.0,217.8 767.8,223.0 770.3,227.8 C772.8,232.7 774.9,237.1 777.9,243.0 C780.9,248.9 784.6,256.0 788.0,263.2 C791.4,270.4 794.8,278.2 798.2,286.0 C801.6,293.8 804.9,302.4 808.3,310.0 C811.7,317.6 815.0,324.6 818.4,331.5 C821.8,338.4 825.9,346.4 828.5,351.7 C831.1,357.0 833.2,361.2 834.2,363.1" fill="none" stroke="#28237a" stroke-width="2.0" stroke-linejoin="round" stroke-linecap="round"/>
<path d="M65.2,404.1 C68.0,401.4 77.5,394.4 82.3,387.7 C87.1,381.0 90.5,374.1 94.2,363.9 C97.9,353.7 101.6,341.6 104.6,326.7 C107.6,311.8 109.6,288.2 112.1,274.6 C114.6,261.0 117.0,252.6 119.5,244.9 C122.0,237.2 125.1,230.8 127.0,228.5 C128.9,226.2 129.5,228.8 131.0,231.0 C132.5,233.2 133.9,237.3 135.9,241.8 C137.9,246.3 140.7,253.1 143.0,258.0 C145.3,262.9 147.7,267.3 150.0,271.0 C152.3,274.7 154.7,277.8 157.0,280.0 C159.3,282.2 160.7,284.3 164.0,284.1 C167.3,283.9 172.7,281.8 177.0,279.0 C181.3,276.2 186.5,269.9 190.0,267.3 C193.5,264.8 195.2,263.6 198.2,263.7 C201.2,263.8 204.8,265.6 208.0,268.0 C211.2,270.4 212.7,272.7 217.3,278.3 C221.9,283.9 229.4,294.0 235.5,301.9 C241.6,309.8 247.6,318.3 253.7,325.6 C259.8,332.9 266.1,340.1 271.9,345.6 C277.7,351.1 283.1,354.4 288.3,358.4 C293.5,362.3 297.4,366.6 302.9,369.3 C308.3,372.0 316.5,373.9 321.0,374.7 C325.5,375.5 326.3,375.6 330.0,374.4 C333.7,373.2 338.9,371.3 343.4,367.7 C347.9,364.1 353.0,358.1 356.8,353.0 C360.6,347.9 363.3,342.9 366.2,336.9 C369.1,330.9 372.0,324.6 374.2,316.8 C376.4,309.0 377.5,299.8 379.6,290.0 C381.7,280.2 384.7,266.7 386.8,257.8 C388.9,248.9 390.5,243.0 392.4,236.6 C394.3,230.2 396.1,223.5 398.1,219.6 C400.1,215.7 402.4,213.0 404.5,213.2 C406.6,213.4 408.2,217.1 410.8,221.0 C413.4,224.9 417.1,232.3 420.0,236.6 C422.9,240.9 424.9,244.6 428.0,247.0 C431.1,249.4 434.7,251.7 438.7,251.0 C442.7,250.3 447.9,245.6 452.0,243.0 C456.1,240.4 459.3,237.0 463.0,235.5 C466.7,234.0 470.4,232.9 474.2,234.1 C478.0,235.3 481.6,238.6 485.6,242.9 C489.6,247.2 493.4,252.7 498.1,260.0 C502.8,267.3 508.8,278.4 513.7,286.5 C518.6,294.6 522.1,301.1 527.3,308.3 C532.5,315.6 540.4,324.6 545.0,330.0 C549.6,335.4 549.5,335.7 554.8,340.7 C560.1,345.7 569.6,355.6 577.0,360.0 C584.4,364.4 591.8,366.6 599.2,367.3 C606.6,368.0 614.5,367.3 621.4,364.4 C628.3,361.4 635.9,355.8 640.6,349.6 C645.3,343.4 647.2,334.0 649.5,327.4 C651.8,320.8 652.8,314.9 654.5,310.0 C656.2,305.1 657.7,304.6 659.5,298.2 C661.3,291.8 663.5,279.1 665.5,271.4 C667.5,263.7 669.2,257.2 671.4,252.0 C673.6,246.8 676.4,240.8 678.9,240.1 C681.4,239.4 683.8,244.4 686.3,247.6 C688.8,250.8 691.5,256.0 693.8,259.5 C696.1,263.0 697.1,265.9 700.0,268.4 C702.9,270.8 707.7,274.3 711.4,274.2 C715.1,274.1 718.1,271.0 722.0,268.0 C725.9,265.0 730.7,259.2 735.0,256.0 C739.3,252.8 743.8,248.8 747.8,248.5 C751.8,248.2 755.0,249.8 759.0,254.4 C763.0,259.0 767.4,268.8 771.6,275.9 C775.8,283.0 780.0,290.4 784.2,297.3 C788.4,304.2 792.7,311.1 796.9,317.6 C801.1,324.1 805.3,330.8 809.5,336.5 C813.7,342.2 818.1,347.3 822.2,351.7 C826.3,356.1 832.2,361.2 834.2,363.1" fill="none" stroke="#28237a" stroke-width="2.0" stroke-linejoin="round" stroke-linecap="round"/>
<path d="M65.2,426.4 C67.3,424.2 73.8,418.9 77.9,413.0 C82.0,407.1 86.3,399.6 89.8,390.7 C93.3,381.8 95.7,371.4 98.7,359.5 C101.7,347.6 104.9,332.2 107.6,319.3 C110.3,306.4 113.0,290.8 115.1,282.1 C117.2,273.4 118.4,270.5 120.0,267.0 C121.6,263.5 123.2,261.6 124.7,261.3 C126.2,261.0 127.4,262.8 129.0,265.0 C130.6,267.2 132.0,269.3 134.4,274.6 C136.8,279.9 140.7,290.6 143.3,297.0 C145.9,303.4 147.7,308.2 150.0,313.3 C152.3,318.4 154.9,323.8 157.4,327.3 C159.9,330.8 162.2,332.5 165.0,334.5 C167.8,336.5 170.3,337.9 174.5,339.2 C178.7,340.4 184.4,340.9 190.0,342.0 C195.6,343.1 202.1,343.2 208.2,345.6 C214.3,348.0 220.3,352.6 226.4,356.5 C232.5,360.4 240.1,365.8 244.6,369.3 C249.1,372.8 250.1,374.6 253.7,377.5 C257.3,380.4 261.6,384.0 266.0,387.0 C270.4,390.0 274.6,392.7 280.3,395.6 C286.0,398.5 294.8,402.7 300.0,404.6 C305.2,406.6 308.0,407.3 311.8,407.3 C315.6,407.3 318.9,406.1 322.7,404.6 C326.5,403.1 331.1,400.5 334.6,398.2 C338.1,395.9 340.8,393.5 343.7,390.9 C346.6,388.3 349.7,385.8 351.9,382.7 C354.1,379.6 354.9,376.7 357.0,372.0 C359.1,367.3 362.4,361.3 364.8,354.3 C367.2,347.3 369.3,338.7 371.5,330.2 C373.7,321.7 376.4,310.8 378.2,303.4 C380.0,296.0 381.0,292.0 382.5,286.1 C384.0,280.2 385.4,273.9 387.0,268.0 C388.6,262.1 390.7,255.0 392.4,250.7 C394.1,246.4 395.6,243.9 397.0,242.0 C398.4,240.1 398.8,238.7 400.9,239.4 C403.0,240.2 406.2,241.3 409.4,246.5 C412.6,251.7 416.5,263.4 420.0,270.5 C423.5,277.6 426.9,284.1 430.2,289.0 C433.5,293.9 436.6,297.2 440.0,300.0 C443.4,302.8 446.9,304.2 450.6,306.0 C454.3,307.8 458.0,309.3 462.0,311.0 C466.0,312.7 470.3,314.5 474.5,316.3 C478.7,318.1 483.0,319.7 487.0,322.0 C491.0,324.3 494.2,326.8 498.4,330.0 C502.6,333.2 507.4,336.8 512.0,341.0 C516.5,345.2 521.5,350.2 525.7,355.0 C529.9,359.8 533.1,364.9 537.0,370.0 C540.9,375.1 544.9,381.3 548.9,385.3 C552.9,389.3 556.8,391.6 561.0,394.0 C565.2,396.4 569.8,398.5 574.1,400.0 C578.4,401.5 582.8,402.3 587.0,403.0 C591.2,403.7 595.2,404.5 599.4,404.2 C603.6,403.9 607.8,402.8 612.0,401.0 C616.2,399.2 620.9,396.5 624.6,393.7 C628.3,390.9 631.2,387.5 634.0,384.0 C636.8,380.5 638.9,379.5 641.4,372.6 C643.9,365.7 646.2,353.1 649.2,342.4 C652.2,331.7 656.5,319.2 659.5,308.6 C662.5,298.0 665.1,285.6 667.0,278.8 C668.9,272.0 669.6,270.4 671.0,268.0 C672.4,265.6 673.1,263.9 675.1,264.7 C677.1,265.5 680.4,268.6 683.3,272.9 C686.2,277.2 689.5,285.0 692.3,290.7 C695.1,296.4 697.4,302.6 700.0,307.1 C702.6,311.7 705.3,315.4 708.0,318.0 C710.7,320.6 712.6,321.1 716.3,322.6 C720.0,324.1 726.0,325.7 730.0,327.0 C734.0,328.3 736.6,329.0 740.0,330.2 C743.4,331.4 745.9,331.5 750.1,334.0 C754.3,336.5 760.7,341.6 765.3,345.4 C769.9,349.2 774.1,353.6 777.9,356.8 C781.7,360.0 786.0,362.8 788.0,364.3 C790.0,365.8 789.7,365.7 790.0,366.0" fill="none" stroke="#984249" stroke-width="2.0" stroke-linejoin="round" stroke-linecap="round"/>
<path d="M64.6,507.5 C66.4,503.1 72.0,491.6 75.5,480.9 C79.0,470.2 83.1,454.3 85.7,443.3 C88.3,432.3 89.3,424.7 91.0,415.0 C92.7,405.3 94.0,396.3 96.0,385.3 C98.0,374.3 101.0,360.0 103.2,349.0 C105.4,338.0 107.3,327.0 109.1,319.3 C110.9,311.6 112.7,306.9 114.0,303.0 C115.3,299.1 116.0,297.6 117.0,296.0 C118.0,294.4 119.1,293.4 120.3,293.2 C121.5,293.0 122.4,292.6 124.0,295.0 C125.6,297.4 127.8,300.3 130.0,307.4 C132.2,314.5 134.0,326.2 136.9,337.5 C139.8,348.8 144.5,366.4 147.2,375.1 C149.9,383.9 150.7,385.7 153.0,390.0 C155.3,394.3 158.3,397.9 160.8,400.7 C163.3,403.5 165.2,405.0 168.0,407.0 C170.8,409.0 174.2,411.1 177.9,412.6 C181.6,414.1 186.0,414.9 190.0,416.0 C194.0,417.1 196.4,417.5 201.8,419.5 C207.2,421.5 215.4,423.4 222.2,428.0 C229.0,432.6 235.3,439.7 242.7,446.8 C250.1,453.9 259.2,464.6 266.6,470.6 C274.0,476.6 281.4,480.0 287.0,482.6 C292.6,485.2 296.0,485.7 300.0,486.5 C304.0,487.3 307.4,487.7 310.9,487.4 C314.4,487.1 317.7,486.4 320.9,484.6 C324.1,482.8 327.1,479.4 330.0,476.5 C332.9,473.6 335.6,470.9 338.2,467.4 C340.8,463.9 343.4,459.4 345.5,455.5 C347.6,451.6 349.2,448.2 351.0,443.7 C352.8,439.1 354.6,434.0 356.4,428.2 C358.2,422.4 360.4,414.9 361.9,409.1 C363.4,403.3 364.4,398.5 365.5,393.6 C366.6,388.8 367.0,387.2 368.2,380.0 C369.4,372.8 371.4,358.6 372.9,350.3 C374.3,342.0 375.6,336.9 376.9,330.2 C378.2,323.5 379.8,316.8 380.9,310.1 C382.0,303.4 382.2,296.4 383.6,290.0 C385.1,283.6 388.0,276.7 389.6,271.9 C391.2,267.1 391.8,263.6 393.0,261.0 C394.2,258.4 394.9,255.3 396.7,256.4 C398.5,257.5 401.3,262.8 403.7,267.7 C406.1,272.6 408.1,278.3 410.8,286.1 C413.5,293.9 416.2,303.7 420.0,314.4 C423.8,325.1 429.4,342.3 433.6,350.4 C437.8,358.5 441.0,359.2 445.0,363.0 C449.0,366.8 453.3,370.0 457.5,373.0 C461.7,376.0 465.4,377.5 470.0,381.0 C474.6,384.5 480.1,390.3 484.8,394.0 C489.5,397.7 493.9,399.3 498.4,403.0 C502.9,406.7 507.1,410.5 512.0,416.0 C516.9,421.5 522.8,430.1 527.8,435.8 C532.8,441.5 537.1,445.1 542.0,450.0 C546.9,454.9 552.0,460.5 557.3,465.2 C562.6,469.9 568.4,474.5 574.0,478.0 C579.6,481.5 586.0,485.1 591.0,486.3 C596.0,487.5 599.8,486.4 604.0,485.0 C608.2,483.6 612.7,481.3 616.2,477.8 C619.7,474.3 622.2,469.6 625.0,464.0 C627.8,458.4 630.5,451.0 633.0,444.2 C635.5,437.4 637.9,430.0 640.0,423.0 C642.1,416.0 643.9,410.0 645.7,402.0 C647.5,394.0 649.3,386.2 651.0,375.0 C652.7,363.8 654.5,345.0 656.0,335.0 C657.5,325.0 658.5,320.8 660.0,315.0 C661.5,309.2 663.4,303.4 665.0,300.0 C666.6,296.6 667.8,293.7 669.9,294.4 C672.0,295.1 674.9,299.2 677.4,304.1 C679.9,309.0 682.9,318.2 684.8,323.5 C686.7,328.8 687.2,329.7 689.0,336.0 C690.8,342.3 694.0,355.5 695.3,361.2 C696.6,366.9 696.7,368.5 697.0,370.0" fill="none" stroke="#984249" stroke-width="2.0" stroke-linejoin="round" stroke-linecap="round"/>
<line x1="406" y1="28" x2="406" y2="238" stroke="#226e22" stroke-width="3.2"/>
<line x1="474.5" y1="59" x2="474.5" y2="291" stroke="#226e22" stroke-width="3.2"/>
<line x1="413" y1="189" x2="375" y2="348" stroke="#226e22" stroke-width="3"/>
<line x1="395.2" y1="256" x2="395.2" y2="518" stroke="#111" stroke-width="1.6" stroke-dasharray="7,3,1.5,3"/>
<line x1="368" y1="377" x2="395.2" y2="377" stroke="#111" stroke-width="2.5"/>
<line x1="395.2" y1="377" x2="466" y2="377" stroke="#c83c3c" stroke-width="2.5"/>
<text transform="translate(374.10,400.30) scale(1.0575,1)" font-size="24.60" fill="#111">A</text>
<text transform="translate(422.65,400.30) scale(1.0941,1)" font-size="24.60" fill="#c03838">B</text>
<text transform="translate(308.53,34.50) scale(1.1467,1)" font-size="24.80" fill="#111">NH</text>
<text transform="translate(350.53,44.10) scale(1.1536,1)" font-size="14.60" fill="#111">3</text>
<line x1="360.3" y1="27.8" x2="387.8" y2="46.5" stroke="#111" stroke-width="1.6"/><path d="M394.4,51.0 L384.6,47.7 L387.7,43.1 Z" fill="#111"/>
<text transform="translate(516.79,66.70) scale(1.1450,1)" font-size="24.60" fill="#111">CH</text>
<text transform="translate(557.30,76.90) scale(1.2603,1)" font-size="14.30" fill="#111">2</text>
<line x1="515.7" y1="61.3" x2="485.8" y2="78.0" stroke="#111" stroke-width="1.6"/><path d="M478.8,81.9 L486.2,74.6 L488.9,79.5 Z" fill="#111"/>
<path d="M124.0,76.8 h12.0 M130.0,71.5 v10.5" stroke="#111" stroke-width="2.2" fill="none"/>
<path d="M674.3,90.0 h12.0 M680.3,84.8 v10.5" stroke="#111" stroke-width="2.2" fill="none"/>
<ellipse cx="199.4" cy="123.1" rx="4.4" ry="4.0" fill="none" stroke="#111" stroke-width="2"/>
<ellipse cx="749.7" cy="105.7" rx="4.4" ry="4.0" fill="none" stroke="#111" stroke-width="2"/>
<rect x="694.3" y="364.7" width="142.2" height="164.8" fill="#fff" stroke="#333" stroke-width="1.6"/>
<line x1="704.2" y1="385.0" x2="755.8" y2="385.0" stroke="#3a3696" stroke-width="1.8"/>
<text transform="translate(755.03,391.20) scale(1.0000,1)" font-size="20.80" fill="#1a1a1a">:</text>
<text transform="translate(767.51,391.20) scale(1.0686,1)" font-size="20.80" fill="#1a1a1a">350 K</text>
<line x1="704.2" y1="410.1" x2="755.8" y2="410.1" stroke="#3a3696" stroke-width="1.8"/>
<text transform="translate(755.03,416.35) scale(1.0000,1)" font-size="20.80" fill="#1a1a1a">:</text>
<text transform="translate(767.51,416.35) scale(1.0686,1)" font-size="20.80" fill="#1a1a1a">320 K</text>
<line x1="704.2" y1="435.3" x2="755.8" y2="435.3" stroke="#3a3696" stroke-width="1.8"/>
<text transform="translate(755.03,441.50) scale(1.0000,1)" font-size="20.80" fill="#1a1a1a">:</text>
<g transform="translate(767.51,441.50) scale(1.0686,1)" fill="#1a1a1a"><text font-size="20.80">3&#8199;0 K</text><path transform="scale(20.800)" d="M0.8412 -0.505H0.6842V-0.568Q0.7862 -0.581 0.8172 -0.604Q0.8482 -0.627 0.8712 -0.709H0.9292V0H0.8412Z"/></g>
<line x1="704.2" y1="460.4" x2="755.8" y2="460.4" stroke="#3a3696" stroke-width="1.8"/>
<text transform="translate(755.03,466.65) scale(1.0000,1)" font-size="20.80" fill="#1a1a1a">:</text>
<text transform="translate(767.51,466.65) scale(1.0686,1)" font-size="20.80" fill="#1a1a1a">300 K</text>
<line x1="704.2" y1="485.6" x2="755.8" y2="485.6" stroke="#ac4a50" stroke-width="1.8"/>
<text transform="translate(755.03,491.80) scale(1.0000,1)" font-size="20.80" fill="#1a1a1a">:</text>
<text transform="translate(767.28,491.80) scale(1.0728,1)" font-size="20.80" fill="#1a1a1a">250 K</text>
<line x1="704.2" y1="510.8" x2="755.8" y2="510.8" stroke="#ac4a50" stroke-width="1.8"/>
<text transform="translate(755.03,516.95) scale(1.0000,1)" font-size="20.80" fill="#1a1a1a">:</text>
<text transform="translate(767.28,516.95) scale(1.0728,1)" font-size="20.80" fill="#1a1a1a">200 K</text>
<line x1="64" y1="536.4" x2="836" y2="536.4" stroke="#1c1c1c" stroke-width="2"/>
<line x1="65.0" y1="536" x2="65.0" y2="547.3" stroke="#1c1c1c" stroke-width="2"/>
<text transform="translate(51.30,571.40) scale(1.1000,1)" font-size="22.40" fill="#1a1a1a">40</text>
<line x1="175.0" y1="536" x2="175.0" y2="547.3" stroke="#1c1c1c" stroke-width="2"/>
<text transform="translate(161.30,571.40) scale(1.1000,1)" font-size="22.40" fill="#1a1a1a">30</text>
<line x1="285.0" y1="536" x2="285.0" y2="547.3" stroke="#1c1c1c" stroke-width="2"/>
<text transform="translate(271.30,571.40) scale(1.1000,1)" font-size="22.40" fill="#1a1a1a">20</text>
<line x1="395.0" y1="536" x2="395.0" y2="547.3" stroke="#1c1c1c" stroke-width="2"/>
<g transform="translate(381.30,571.40) scale(1.1000,1)" fill="#1a1a1a"><text font-size="22.40">&#8199;0</text><path transform="scale(22.400)" d="M0.2850 -0.505H0.1280V-0.568Q0.2300 -0.581 0.2610 -0.604Q0.2920 -0.627 0.3150 -0.709H0.3730V0H0.2850Z"/></g>
<line x1="505.0" y1="536" x2="505.0" y2="547.3" stroke="#1c1c1c" stroke-width="2"/>
<text transform="translate(498.15,571.40) scale(1.1000,1)" font-size="22.40" fill="#1a1a1a">0</text>
<line x1="615.0" y1="536" x2="615.0" y2="547.3" stroke="#1c1c1c" stroke-width="2"/>
<g transform="translate(597.19,571.40) scale(1.1000,1)" fill="#1a1a1a"><text font-size="22.40">-&#8199;0</text><path transform="scale(22.400)" d="M0.6180 -0.505H0.4610V-0.568Q0.5630 -0.581 0.5940 -0.604Q0.6250 -0.627 0.6480 -0.709H0.7060V0H0.6180Z"/></g>
<line x1="725.0" y1="536" x2="725.0" y2="547.3" stroke="#1c1c1c" stroke-width="2"/>
<text transform="translate(707.19,571.40) scale(1.1000,1)" font-size="22.40" fill="#1a1a1a">-20</text>
<line x1="835.0" y1="536" x2="835.0" y2="547.3" stroke="#1c1c1c" stroke-width="2"/>
<text transform="translate(817.19,571.40) scale(1.1000,1)" font-size="22.40" fill="#1a1a1a">-30</text>
<line x1="120.0" y1="536" x2="120.0" y2="542.3" stroke="#1c1c1c" stroke-width="2"/>
<line x1="230.0" y1="536" x2="230.0" y2="542.3" stroke="#1c1c1c" stroke-width="2"/>
<line x1="340.0" y1="536" x2="340.0" y2="542.3" stroke="#1c1c1c" stroke-width="2"/>
<line x1="450.0" y1="536" x2="450.0" y2="542.3" stroke="#1c1c1c" stroke-width="2"/>
<line x1="560.0" y1="536" x2="560.0" y2="542.3" stroke="#1c1c1c" stroke-width="2"/>
<line x1="670.0" y1="536" x2="670.0" y2="542.3" stroke="#1c1c1c" stroke-width="2"/>
<line x1="780.0" y1="536" x2="780.0" y2="542.3" stroke="#1c1c1c" stroke-width="2"/>
<g transform="translate(259.11,607.10) scale(1.6698,1)" fill="#111"><path transform="scale(15.400)" d="M0.2850 -0.505H0.1280V-0.568Q0.2300 -0.581 0.2610 -0.604Q0.2920 -0.627 0.3150 -0.709H0.3730V0H0.2850Z"/></g>
<text transform="translate(271.44,624.70) scale(1.1751,1)" font-size="30.40" fill="#111">H Chemical Shift (ppm)</text>
<text transform="translate(6.14,697.90) scale(0.9785,1)" font-size="27.80" font-weight="bold" fill="#111">(b)</text>
<path d="M99.4,852.9 L100.8,854.6 L101.9,857.0 L103.1,858.8 L104.1,856.3 L105.1,854.2 L105.7,851.4 L106.8,849.2 L108.2,851.8 L109.8,853.7 L111.1,856.3 L112.7,858.8 L115.0,856.6 L117.2,859.6 L119.2,858.3 L120.9,857.4 L122.7,856.0 L124.6,854.4 L126.8,855.9 L128.3,853.1 L129.8,850.7 L131.9,850.1 L134.2,849.2 L136.0,848.8 L137.9,848.5 L139.4,850.4 L140.8,852.9 L142.5,855.5 L143.8,857.4 L145.2,855.3 L146.8,853.7 L148.2,856.1 L149.3,858.3 L150.5,860.3 L151.6,857.8 L152.5,856.0 L153.4,853.7 L155.0,850.9 L156.4,848.5 L158.3,849.9 L160.1,850.7 L161.5,853.1 L163.0,855.9 L166.0,854.4 L167.6,856.1 L169.0,857.4 L170.8,858.0 L172.6,858.8 L174.5,857.3 L176.3,855.1 L178.1,853.1 L180.0,851.4 L183.0,852.9 L186.0,850.7 L188.9,850.0 L190.3,848.3 L191.5,845.9 L192.6,844.0 L194.0,841.6 L195.0,838.6 L196.3,836.2 L200.0,836.7 L201.3,838.6 L203.1,840.8 L204.4,843.3 L205.9,844.9 L207.4,847.0 L208.7,845.4 L210.2,842.8 L211.8,841.1 L213.2,843.9 L214.8,846.3 L217.8,847.0 L220.7,849.2 L221.6,851.2 L222.2,853.8 L223.3,855.5 L224.3,858.4 L225.0,860.3 L226.3,861.9 L227.4,864.0 L230.4,861.8 L233.3,864.0 L234.6,866.0 L236.1,867.8 L237.7,869.9 L238.6,867.5 L239.7,864.8 L240.7,862.5 L242.3,864.6 L243.7,866.2 L246.6,868.5 L248.4,866.3 L250.3,864.3 L253.3,865.5 L254.4,868.2 L255.5,870.7 L256.6,868.2 L257.4,866.6 L258.1,863.9 L259.2,861.8 L260.3,860.1 L261.7,857.7 L262.9,855.9 L264.1,857.6 L265.2,860.0 L266.1,861.5 L267.3,863.7 L268.2,862.2 L269.2,860.3 L270.3,858.1 L272.3,858.6 L274.0,859.6 L274.8,861.9 L275.7,864.4 L276.8,866.4 L277.7,868.5 L279.0,866.9 L279.9,864.8 L281.4,867.3 L282.9,870.2 L285.8,868.5 L287.7,867.6 L289.5,866.2 L290.8,867.8 L292.5,869.9 L293.9,872.7 L295.4,875.1 L297.1,873.4 L298.3,871.3 L299.9,869.9 L301.5,871.6 L303.4,872.4 L305.0,874.4 L306.1,872.6 L307.0,870.2 L307.6,868.4 L308.7,866.2 L310.1,868.8 L311.7,870.7 L313.7,869.0 L315.4,867.7 L316.8,866.6 L318.3,864.8 L320.3,865.6 L322.0,867.0 L323.5,868.6 L325.0,869.9 L326.7,870.3 L328.7,871.4 L330.1,869.8 L331.3,867.7 L332.4,866.2 L334.5,864.8 L336.8,863.3 L338.5,860.8 L339.8,858.8 L342.8,859.6 L344.2,857.2 L345.7,855.1 L348.0,855.1 L350.2,855.8 L351.3,853.7 L352.0,851.3 L353.1,849.2 L354.8,849.8 L356.8,850.6 L358.1,848.4 L359.3,847.0 L360.9,844.2 L362.0,842.5 L363.7,844.5 L365.0,846.9 L366.8,845.9 L368.7,844.7 L369.7,842.2 L371.1,839.5 L372.4,837.3 L374.2,838.5 L376.1,839.5 L378.1,841.0 L379.8,841.8 L381.5,839.3 L383.5,837.3 L385.0,835.1 L386.4,834.5 L387.8,832.2 L389.4,830.7 L392.3,831.4 L394.3,830.3 L396.0,828.7 L397.9,829.3 L399.7,830.7 L400.7,828.6 L401.9,825.4 L402.8,823.9 L403.9,821.0 L404.9,818.8 L406.6,817.4 L408.6,815.9 L409.7,813.3 L411.0,811.3 L412.3,808.5 L415.3,809.2 L416.7,806.9 L417.9,804.9 L419.0,802.6 L421.2,801.8 L421.6,799.7 L422.4,797.1 L422.9,794.1 L423.4,792.0 L424.6,790.2 L425.4,788.2 L426.8,786.6 L427.8,784.2 L428.8,780.8 L430.0,779.5 L431.0,776.9 L432.4,773.7 L433.4,773.1 L434.5,769.3 L435.5,768.2 L436.9,764.8 L438.1,762.7 L439.4,760.7 L441.1,757.6 L442.4,756.3 L443.8,753.0 L445.2,751.3 L446.4,749.1 L447.6,746.2 L449.0,744.0 L450.5,741.9 L452.4,739.0 L453.8,737.1 L454.9,739.2 L455.9,740.7 L457.1,743.4 L458.0,745.0 L459.2,746.9 L460.2,749.8 L461.4,751.5 L462.3,754.1 L464.1,755.2 L465.7,757.6 L467.4,757.6 L469.4,759.8 L470.1,762.4 L470.9,764.4 L471.7,766.6 L472.4,769.6 L473.1,771.3 L473.7,774.0 L475.2,776.7 L476.7,778.5 L477.9,780.2 L479.2,780.3 L480.6,782.6 L482.2,785.4 L483.9,784.8 L486.1,783.4 L487.9,782.6 L488.3,780.2 L488.8,777.2 L489.1,775.3 L489.7,772.4 L490.2,770.3 L490.6,767.7 L491.0,765.0 L491.6,762.7 L491.9,759.7 L492.3,756.9 L493.1,755.1 L493.3,752.4 L493.9,749.3 L494.4,747.1 L494.9,744.2 L495.5,742.2 L495.9,739.3 L496.9,741.5 L497.6,744.3 L498.9,746.1 L499.9,749.2 L500.7,751.3 L501.1,754.1 L501.6,756.5 L502.1,758.7 L502.6,761.6 L503.2,763.7 L503.7,766.7 L504.1,768.7 L504.6,771.7 L505.0,774.0 L506.0,771.0 L507.0,769.8 L507.9,767.2 L508.9,763.9 L509.6,762.8 L510.7,759.8 L511.7,762.0 L512.8,765.2 L513.8,766.9 L514.9,770.3 L515.8,771.3 L516.7,775.4 L517.8,776.9 L518.2,778.4 L518.9,782.3 L519.4,783.3 L520.3,786.8 L520.7,788.1 L521.5,792.0 L521.8,792.5 L522.7,796.1 L523.2,798.7 L523.8,799.7 L524.4,803.3 L524.9,805.3 L525.7,808.2 L526.5,810.2 L527.2,813.0 L528.0,815.2 L528.9,818.0 L530.0,820.4 L530.7,822.1 L531.8,824.4 L532.4,826.5 L533.3,828.1 L534.0,830.4 L535.0,832.9 L536.7,835.1 L537.7,837.0 L539.7,838.0 L541.4,839.2 L543.1,841.6 L545.1,843.7 L546.3,841.8 L547.7,840.4 L548.8,838.5 L550.5,839.0 L552.5,840.0 L553.8,842.0 L554.8,843.7 L556.2,845.1 L559.2,844.4 L560.4,846.3 L561.8,847.7 L562.9,849.6 L565.1,848.1 L567.3,851.1 L568.4,848.5 L569.1,846.0 L570.3,843.7 L571.6,845.7 L573.2,847.4 L574.1,849.5 L574.9,852.1 L575.8,854.4 L576.9,857.0 L579.9,854.8 L580.7,857.6 L582.0,859.9 L582.9,862.9 L585.8,860.7 L587.7,862.0 L589.5,863.6 L591.2,866.5 L592.5,868.8 L593.8,866.9 L595.4,865.8 L596.8,867.8 L598.4,869.2 L599.9,871.0 L601.3,869.3 L602.8,867.3 L604.3,869.8 L605.8,871.8 L608.7,870.3 L610.3,871.9 L611.7,874.0 L612.6,871.6 L613.9,868.2 L614.7,865.8 L615.2,867.9 L616.1,870.1 L616.7,872.2 L617.6,874.7 L619.3,874.1 L621.3,873.2 L622.5,875.4 L623.1,878.0 L624.3,879.9 L625.2,877.9 L626.5,876.2 L629.4,875.5 L630.3,873.6 L631.5,871.2 L632.4,869.5 L635.4,867.3 L638.3,867.3 L639.1,864.9 L640.0,862.3 L640.7,859.4 L641.7,857.1 L642.3,854.1 L643.7,851.2 L645.0,848.7 L647.3,851.4 L648.3,853.6 L649.1,856.4 L650.0,854.8 L650.8,852.6 L651.8,850.5 L654.1,847.7 L655.0,845.5 L655.9,843.6 L656.8,841.4 L659.1,843.7 L660.5,842.0 L661.8,840.0 L664.6,840.5 L665.4,842.4 L666.4,844.9 L667.3,846.8 L668.4,848.8 L668.9,851.4 L670.0,853.2 L672.3,853.7 L674.6,850.9 L675.9,853.0 L676.9,855.9 L679.1,855.0 L681.9,856.8 L685.0,858.2 L687.3,856.8 L690.0,859.1 L691.5,860.1 L692.8,861.9 L693.8,859.2 L694.6,857.1 L695.5,854.1 L698.2,856.4 L699.4,858.4 L700.5,860.9 L702.0,863.0 L703.2,864.6 L704.3,862.6 L705.5,861.4 L707.5,858.5" fill="none" stroke="#d8bcdc" stroke-width="3.1" stroke-linejoin="round"/>
<path d="M99.4,960.7 L100.7,959.3 L101.7,957.7 L104.6,960.0 L107.6,958.9 L110.5,958.5 L113.5,959.2 L114.4,961.1 L114.9,963.9 L115.8,965.7 L116.4,968.4 L117.2,970.3 L119.2,968.7 L120.9,966.6 L122.3,964.3 L123.8,962.4 L125.3,960.0 L127.3,960.5 L129.0,961.4 L130.7,962.2 L132.7,962.9 L133.8,964.4 L135.2,966.2 L136.4,968.1 L138.6,966.6 L140.6,968.2 L142.3,970.3 L144.3,969.2 L146.0,968.8 L149.0,967.4 L150.6,969.6 L151.9,971.1 L153.9,971.5 L155.6,972.5 L157.5,974.6 L159.3,976.2 L161.2,977.7 L163.0,978.5 L165.3,981.4 L166.9,979.6 L168.2,978.5 L170.1,977.4 L171.9,975.5 L174.1,976.5 L176.3,977.7 L178.2,975.6 L180.0,973.3 L181.1,971.4 L182.6,968.5 L183.7,966.6 L184.6,964.3 L185.5,961.3 L186.6,959.1 L187.4,956.3 L187.9,953.6 L188.0,951.2 L188.6,949.3 L189.1,946.7 L189.5,944.5 L189.7,942.0 L190.9,939.1 L191.7,936.6 L192.9,939.4 L194.6,940.5 L195.8,941.9 L197.3,946.3 L198.7,946.2 L200.2,949.4 L201.2,948.3 L202.4,944.6 L203.8,943.3 L204.7,940.3 L206.2,939.7 L207.3,936.6 L208.0,938.6 L208.2,941.5 L208.7,943.3 L209.2,945.5 L209.9,948.2 L210.4,950.4 L211.0,953.1 L211.7,955.0 L212.4,957.7 L213.3,960.0 L216.3,962.2 L216.9,964.2 L217.9,967.0 L218.4,969.1 L219.2,971.1 L222.2,970.5 L223.7,968.4 L225.2,966.8 L226.4,969.2 L227.4,972.0 L230.4,974.2 L231.4,976.7 L232.3,979.0 L233.3,981.6 L234.7,979.5 L236.3,977.2 L239.2,978.7 L242.2,977.2 L243.5,978.5 L245.1,980.1 L246.1,982.3 L247.0,983.8 L248.1,986.1 L251.1,984.6 L254.0,985.3 L257.0,986.8 L258.1,984.1 L259.0,982.0 L259.9,979.4 L262.9,981.6 L264.4,979.3 L265.8,977.2 L267.4,975.9 L268.8,974.2 L270.7,972.1 L272.5,971.1 L274.0,969.1 L276.2,971.3 L277.4,973.0 L278.4,975.0 L280.0,977.5 L281.4,979.4 L283.6,976.4 L284.5,978.6 L285.3,981.5 L286.3,983.5 L287.3,986.1 L290.3,986.8 L291.9,988.0 L293.9,989.8 L295.8,987.7 L297.6,985.3 L299.2,983.3 L300.6,981.6 L301.9,979.8 L303.6,977.9 L304.9,980.0 L305.9,981.1 L307.3,983.1 L310.2,980.9 L313.2,978.7 L314.7,980.4 L316.1,981.6 L319.1,979.4 L322.0,977.9 L323.5,979.1 L325.0,980.9 L328.0,978.7 L330.2,977.9 L330.8,975.7 L331.4,973.5 L331.8,970.8 L332.4,968.3 L333.4,965.5 L334.6,963.1 L335.3,960.7 L335.6,957.9 L336.3,955.0 L336.4,952.7 L336.6,949.7 L337.0,947.4 L337.1,945.3 L337.4,942.5 L338.0,939.6 L338.6,937.5 L339.0,934.2 L339.7,931.7 L341.9,932.9 L343.0,935.2 L344.2,936.9 L347.1,935.1 L349.3,938.0 L350.8,935.5 L352.2,933.4 L353.1,930.9 L353.7,929.0 L354.5,926.6 L355.8,928.2 L356.7,930.0 L357.3,932.5 L358.0,934.3 L358.4,936.9 L359.6,938.9 L360.4,940.3 L361.3,942.5 L362.6,940.3 L364.1,938.6 L367.0,939.7 L369.2,938.6 L370.2,940.8 L370.9,942.1 L372.1,944.2 L374.0,943.1 L375.5,941.4 L377.0,940.1 L378.9,938.0 L382.3,937.4 L385.7,936.9 L386.9,934.7 L387.9,932.8 L389.2,931.2 L390.4,929.6 L391.7,927.1 L393.1,925.5 L395.1,924.6 L397.1,923.2 L398.8,925.3 L400.5,927.8 L401.7,926.0 L402.4,923.7 L403.4,922.1 L406.2,920.4 L407.1,918.5 L407.7,916.0 L408.5,914.1 L409.2,911.9 L410.1,909.2 L411.0,907.6 L411.9,905.0 L412.7,902.7 L413.3,900.9 L413.8,898.3 L414.6,896.1 L415.4,894.2 L416.6,892.8 L417.8,888.9 L419.1,887.4 L420.1,885.5 L421.4,881.8 L422.5,880.0 L422.8,877.1 L423.5,875.1 L424.0,872.0 L424.4,869.7 L424.9,866.9 L426.0,864.8 L426.8,862.8 L427.8,861.0 L429.6,859.9 L431.7,857.8 L433.7,856.6 L435.1,853.8 L436.3,852.2 L437.2,849.2 L438.4,847.4 L439.7,844.7 L440.5,841.4 L441.5,840.8 L442.6,836.5 L443.4,836.1 L444.4,831.7 L445.3,829.2 L446.1,828.7 L447.0,825.5 L449.2,823.5 L451.4,821.5 L453.7,820.3 L455.8,820.7 L458.1,821.8 L458.4,824.7 L459.3,826.9 L459.6,829.9 L461.4,831.3 L463.3,832.2 L464.4,833.9 L465.3,836.6 L466.4,838.2 L467.1,840.8 L468.1,842.3 L469.2,844.7 L470.1,847.6 L471.1,849.1 L472.0,852.7 L473.2,854.4 L474.2,857.4 L475.0,859.5 L476.5,862.2 L477.5,859.5 L478.4,857.1 L479.3,855.7 L480.3,852.3 L481.4,849.8 L482.2,848.0 L482.3,845.7 L482.4,842.6 L482.9,840.7 L482.7,838.1 L482.8,835.3 L483.1,833.0 L483.2,830.0 L483.3,828.2 L483.7,825.1 L483.9,822.9 L484.2,820.0 L484.3,818.2 L484.3,815.2 L484.4,812.9 L484.6,810.1 L485.0,808.1 L485.0,804.9 L485.0,803.0 L485.2,800.0 L485.5,797.9 L485.8,794.9 L485.8,792.8 L486.2,790.0 L486.2,787.9 L486.4,785.0 L486.5,782.6 L486.7,780.5 L487.0,777.5 L487.0,775.7 L487.5,773.2 L487.5,770.5 L487.8,768.3 L488.2,766.1 L488.1,763.2 L488.5,760.8 L488.7,758.3 L489.0,756.3 L488.9,753.4 L489.3,751.3 L490.0,753.9 L490.4,756.1 L491.1,758.9 L491.5,760.9 L492.0,763.9 L492.4,766.1 L492.9,768.9 L493.6,771.2 L493.7,773.6 L494.2,776.4 L494.3,778.4 L494.4,781.4 L494.6,783.9 L494.8,786.5 L495.0,788.5 L495.3,791.5 L495.3,794.1 L495.6,796.1 L495.8,799.1 L496.2,801.6 L496.4,803.9 L497.8,801.6 L499.1,798.4 L500.3,796.9 L501.5,793.9 L502.3,795.9 L502.8,798.6 L503.5,800.5 L504.3,803.4 L505.0,805.3 L505.4,807.4 L505.7,810.6 L506.1,813.3 L506.5,814.6 L507.0,817.7 L507.5,819.4 L507.9,822.9 L508.1,824.4 L508.5,827.6 L509.1,829.2 L509.3,831.7 L510.0,835.0 L510.2,836.6 L510.7,839.5 L511.1,842.2 L511.4,844.3 L511.5,847.3 L511.7,849.9 L511.9,852.5 L512.1,854.4 L512.5,857.6 L512.8,859.7 L512.9,862.5 L513.3,864.7 L513.4,867.7 L513.7,870.0 L513.7,872.6 L514.3,874.7 L514.2,877.2 L514.6,880.0 L514.8,882.4 L515.2,884.3 L515.7,886.9 L516.0,888.9 L516.3,891.4 L517.6,892.9 L519.1,894.8 L520.0,897.4 L521.0,899.1 L521.9,901.6 L522.8,904.5 L523.2,906.5 L524.0,909.4 L524.8,911.9 L525.8,914.2 L526.4,917.2 L527.3,919.4 L528.2,922.1 L528.9,924.7 L529.4,926.7 L530.0,928.6 L530.5,931.5 L531.0,933.5 L531.7,936.1 L532.2,938.9 L532.8,942.0 L534.1,944.7 L535.5,947.1 L536.7,949.4 L537.6,951.8 L538.4,954.8 L539.0,957.4 L541.0,957.7 L543.0,958.5 L544.0,960.6 L544.8,963.3 L545.7,965.1 L546.4,967.6 L548.5,968.7 L550.4,969.3 L551.5,971.0 L552.6,973.2 L553.8,975.6 L554.5,978.1 L555.5,979.9 L556.1,982.4 L558.1,980.8 L560.1,979.0 L563.5,979.0 L564.6,976.5 L566.1,975.4 L567.5,972.8 L568.6,971.0 L569.6,973.1 L570.4,974.9 L571.4,976.7 L572.3,978.7 L573.5,981.4 L574.8,983.5 L575.8,985.4 L576.6,987.8 L577.5,990.4 L578.3,992.6 L579.2,995.0 L579.8,998.1 L580.5,1000.6 L582.5,1002.7 L584.5,1005.1 L587.4,1002.9 L588.7,1005.0 L589.8,1007.7 L590.8,1009.7 L592.8,1009.6 L594.8,1009.7 L596.0,1012.1 L597.0,1015.3 L598.2,1017.7 L600.0,1018.2 L602.1,1017.8 L604.4,1017.6 L606.2,1020.1 L607.8,1021.6 L609.4,1023.9 L611.3,1025.3 L613.2,1026.1 L615.0,1027.6 L616.9,1027.3 L618.8,1026.4 L620.4,1024.1 L621.7,1022.3 L623.2,1020.1 L625.2,1021.7 L627.5,1022.6 L627.9,1020.5 L628.3,1017.4 L629.0,1015.3 L629.2,1012.5 L629.7,1009.9 L630.3,1007.8 L630.7,1005.1 L630.9,1002.4 L631.4,1000.2 L632.0,997.3 L632.5,995.2 L632.6,992.7 L633.2,990.1 L633.6,987.4 L634.0,984.7 L634.0,982.9 L634.3,979.8 L634.5,977.8 L635.0,975.0 L635.8,972.5 L636.3,971.0 L636.9,968.3 L637.5,966.3 L638.8,964.8 L640.0,962.5 L643.2,963.8 L644.6,961.6 L645.7,960.0 L647.4,958.3 L648.8,956.3 L649.8,953.8 L650.5,952.3 L651.8,949.6 L652.6,947.5 L653.5,950.1 L654.6,952.2 L655.7,955.0 L656.7,956.5 L657.7,958.9 L658.8,960.7 L660.1,962.7 L661.3,964.2 L662.6,966.3 L663.3,969.0 L664.4,971.2 L665.1,973.8 L666.4,976.5 L667.6,979.4 L668.7,977.8 L669.6,975.4 L670.7,973.8 L672.2,976.5 L673.8,978.8 L677.0,980.7 L680.7,980.7 L683.1,980.8 L685.7,981.3 L687.9,983.8 L690.1,985.7 L692.6,986.4 L695.1,987.6 L696.2,985.4 L697.8,982.7 L698.9,980.0 L700.8,977.5 L702.2,979.5 L703.9,981.9 L704.8,980.0 L706.2,977.5 L707.2,975.5" fill="none" stroke="#b0b0f0" stroke-width="3.1" stroke-linejoin="round"/>
<path d="M99.4,1037.2 L101.7,1038.2 L103.2,1036.4 L104.6,1034.9 L106.2,1032.4 L107.6,1029.8 L109.2,1031.1 L110.5,1032.7 L112.2,1030.7 L113.5,1028.3 L114.5,1030.8 L115.5,1032.4 L116.4,1034.9 L119.4,1034.6 L122.4,1033.7 L123.5,1035.9 L124.4,1037.2 L125.3,1039.4 L127.0,1038.6 L129.0,1037.2 L130.0,1039.3 L131.0,1042.2 L131.8,1044.8 L132.7,1046.8 L133.5,1044.2 L134.9,1041.1 L135.7,1038.6 L136.7,1037.0 L137.9,1034.9 L139.3,1037.2 L140.8,1040.1 L143.8,1037.9 L145.5,1036.8 L146.8,1035.2 L148.4,1037.3 L149.7,1038.6 L150.6,1040.2 L151.9,1042.3 L152.7,1044.5 L154.0,1043.6 L155.6,1042.0 L158.6,1043.1 L159.3,1040.6 L160.3,1038.2 L160.8,1035.8 L161.6,1033.5 L163.2,1035.3 L164.5,1036.4 L166.0,1033.7 L167.5,1031.2 L168.9,1034.1 L170.4,1036.4 L171.4,1034.8 L172.2,1032.2 L173.4,1030.5 L176.3,1029.0 L176.9,1026.6 L177.7,1023.8 L178.5,1020.9 L179.3,1018.7 L180.7,1016.0 L182.3,1014.0 L183.7,1011.3 L185.0,1008.9 L186.1,1007.5 L187.4,1005.1 L189.7,1006.1 L190.1,1008.3 L190.7,1011.3 L191.2,1013.8 L191.7,1016.5 L192.1,1018.7 L192.6,1021.6 L194.9,1023.7 L197.0,1025.3 L200.0,1023.8 L203.0,1022.4 L203.9,1024.7 L205.2,1027.5 L205.5,1029.8 L206.0,1032.7 L206.5,1034.8 L206.9,1037.9 L207.4,1040.1 L208.9,1042.4 L210.4,1045.3 L211.3,1048.1 L212.2,1050.0 L213.3,1052.7 L215.7,1051.9 L218.5,1050.5 L220.4,1051.0 L222.0,1052.0 L222.7,1054.7 L223.7,1057.7 L225.6,1059.7 L227.0,1060.8 L228.9,1062.9 L230.9,1061.2 L232.6,1058.9 L233.6,1060.2 L234.8,1062.2 L235.8,1064.6 L236.5,1066.3 L237.5,1068.8 L238.6,1066.6 L239.8,1063.5 L240.8,1061.8 L242.2,1058.9 L244.6,1061.1 L246.6,1062.9 L248.6,1061.6 L250.3,1060.0 L253.3,1061.4 L256.2,1060.0 L257.8,1061.2 L259.1,1063.1 L260.7,1064.4 L262.4,1062.6 L264.4,1061.4 L266.2,1059.3 L267.9,1057.5 L269.5,1054.8 L271.2,1057.2 L272.5,1059.2 L275.5,1057.7 L276.6,1059.8 L277.5,1062.4 L278.4,1064.4 L280.6,1066.6 L281.8,1064.4 L282.5,1063.0 L283.6,1060.7 L285.6,1062.4 L287.3,1064.4 L289.5,1065.8 L291.7,1066.6 L293.6,1064.0 L295.3,1062.4 L296.9,1060.4 L298.9,1061.4 L300.6,1062.2 L302.7,1060.5 L305.0,1059.2 L308.0,1060.7 L309.1,1059.2 L310.2,1057.0 L311.9,1058.7 L313.9,1060.7 L315.2,1058.8 L316.7,1056.5 L318.3,1054.0 L321.3,1053.3 L322.2,1051.1 L323.2,1049.4 L324.0,1047.1 L325.0,1045.2 L326.9,1047.2 L328.7,1048.9 L329.1,1046.5 L329.9,1044.6 L330.4,1042.4 L330.9,1040.0 L331.6,1037.4 L332.4,1035.6 L333.0,1032.8 L333.7,1031.0 L334.4,1028.5 L335.1,1026.1 L335.6,1023.5 L335.9,1020.5 L336.8,1018.5 L337.3,1015.4 L337.8,1013.1 L340.0,1011.1 L342.1,1008.9 L343.5,1010.9 L344.5,1013.6 L345.7,1014.8 L347.2,1017.4 L349.0,1015.1 L350.6,1012.3 L352.9,1014.2 L354.9,1015.7 L355.8,1017.7 L357.1,1020.5 L358.2,1022.7 L359.1,1025.1 L360.8,1027.0 L362.4,1027.8 L364.2,1029.4 L366.5,1030.8 L368.5,1031.9 L370.2,1033.4 L371.9,1035.3 L373.4,1033.6 L375.3,1031.8 L377.0,1029.4 L379.7,1028.1 L382.2,1027.6 L384.3,1028.3 L386.4,1028.5 L387.7,1030.6 L388.8,1033.4 L389.8,1035.3 L391.2,1032.7 L392.6,1030.9 L394.1,1028.5 L396.2,1028.8 L398.4,1029.4 L400.0,1027.6 L401.2,1025.1 L402.6,1023.4 L404.3,1024.4 L406.1,1025.1 L406.8,1022.7 L407.4,1020.8 L408.0,1018.1 L408.9,1016.4 L409.5,1014.0 L411.1,1012.3 L412.5,1009.1 L414.0,1008.3 L415.4,1005.5 L417.4,1003.2 L419.7,1001.2 L421.5,1002.4 L423.1,1002.9 L424.1,1000.5 L425.1,997.5 L426.5,995.1 L427.4,992.7 L428.7,990.0 L430.0,988.5 L431.4,986.5 L432.9,983.6 L434.2,981.6 L436.3,981.0 L438.5,979.9 L439.7,977.0 L440.9,975.7 L442.2,973.0 L443.5,970.8 L444.5,968.8 L445.9,965.9 L447.4,964.6 L449.0,961.5 L450.4,959.4 L452.7,958.8 L454.7,957.7 L456.5,955.8 L458.8,955.4 L460.7,953.4 L462.0,954.8 L463.4,957.1 L464.9,958.5 L465.8,960.4 L466.9,963.7 L468.0,965.3 L469.0,968.3 L470.1,970.5 L471.4,972.5 L472.6,975.4 L473.7,977.1 L475.0,979.9 L476.5,979.5 L477.3,977.3 L478.1,974.3 L479.0,972.8 L479.9,969.6 L480.4,967.6 L481.5,964.7 L482.2,962.5 L482.3,960.3 L482.6,957.8 L482.7,954.9 L482.9,952.7 L483.2,950.0 L483.4,947.2 L483.4,945.3 L483.8,942.3 L483.9,940.3 L484.0,937.5 L484.2,935.4 L484.3,932.5 L484.3,930.4 L484.6,927.4 L485.0,925.1 L485.0,922.7 L485.2,920.3 L485.2,917.6 L485.7,915.3 L485.8,912.8 L485.9,910.5 L486.1,907.5 L486.4,904.8 L486.5,902.8 L486.4,900.0 L486.6,897.8 L486.9,894.9 L487.0,892.8 L487.2,889.9 L487.5,887.4 L487.6,885.3 L487.5,882.4 L487.9,880.0 L488.0,877.7 L488.3,874.9 L488.5,872.6 L488.7,869.8 L488.9,867.7 L489.3,865.0 L490.3,867.2 L491.1,869.7 L492.0,872.0 L492.6,874.4 L493.3,876.2 L494.0,878.8 L494.8,880.7 L495.8,883.4 L496.4,885.5 L497.2,882.7 L498.1,880.6 L499.0,878.0 L500.2,875.3 L500.9,873.2 L502.1,870.7 L502.6,872.9 L503.7,875.5 L504.3,878.0 L505.0,880.0 L505.7,882.6 L506.2,884.6 L506.6,888.0 L507.2,889.9 L507.9,892.8 L508.4,894.8 L509.1,898.0 L509.3,899.9 L510.0,902.8 L510.1,905.6 L510.5,908.0 L510.7,911.1 L510.7,913.5 L511.1,916.4 L512.0,919.1 L513.0,921.2 L513.9,923.8 L514.6,926.6 L515.1,928.8 L515.3,931.6 L515.7,934.1 L516.1,936.0 L516.5,938.8 L517.2,941.1 L517.8,943.7 L518.0,946.0 L518.7,948.0 L519.6,950.8 L520.1,952.7 L520.8,955.0 L521.6,957.0 L522.5,959.6 L523.1,962.2 L523.9,964.8 L524.6,966.7 L525.1,969.5 L525.8,972.2 L526.5,974.0 L527.1,976.7 L528.6,978.6 L530.5,980.1 L531.2,982.1 L532.3,984.9 L533.1,986.8 L534.0,989.0 L535.0,991.5 L536.1,994.1 L537.6,996.8 L538.8,999.1 L540.0,999.8 L541.3,1002.9 L543.5,1003.5 L545.3,1004.6 L546.8,1007.0 L548.2,1009.1 L549.8,1010.8 L551.0,1012.4 L552.5,1014.9 L553.8,1016.5 L556.6,1017.7 L558.0,1019.4 L559.1,1022.1 L560.4,1023.5 L561.8,1025.6 L564.6,1026.8 L565.6,1024.7 L566.7,1022.2 L567.8,1020.0 L568.6,1018.2 L570.0,1019.9 L571.6,1021.0 L573.1,1022.8 L575.0,1024.7 L576.7,1025.7 L578.3,1027.9 L580.0,1028.9 L581.3,1031.3 L582.6,1032.3 L584.0,1034.7 L585.5,1036.4 L586.6,1038.4 L587.7,1040.5 L588.4,1043.2 L589.6,1045.3 L593.0,1045.9 L594.1,1048.0 L595.2,1050.5 L596.6,1052.3 L597.7,1054.8 L599.8,1052.1 L600.6,1054.9 L601.9,1056.9 L602.8,1059.6 L603.9,1062.3 L605.1,1064.8 L606.2,1067.0 L607.3,1069.1 L610.0,1070.5 L610.8,1072.6 L612.2,1075.1 L613.2,1078.0 L614.1,1080.1 L615.2,1081.7 L616.2,1084.0 L617.5,1085.5 L619.3,1086.7 L621.0,1087.6 L622.3,1089.0 L623.7,1091.0 L625.0,1093.8 L626.0,1096.1 L627.1,1098.9 L629.3,1096.3 L631.2,1094.4 L631.6,1092.3 L632.3,1089.6 L633.0,1087.5 L633.3,1084.9 L633.9,1082.8 L634.4,1080.2 L634.7,1078.2 L634.9,1075.6 L635.3,1073.8 L635.4,1070.9 L635.6,1069.1 L636.0,1066.4 L636.2,1063.5 L636.5,1061.3 L636.8,1058.6 L637.0,1055.2 L637.3,1052.8 L638.4,1051.2 L639.7,1049.0 L640.8,1047.3 L642.2,1045.0 L643.0,1042.9 L644.4,1040.0 L645.5,1037.7 L646.5,1035.1 L647.5,1032.0 L648.3,1029.6 L648.9,1027.4 L649.0,1024.6 L649.5,1022.2 L649.9,1020.1 L650.3,1017.6 L651.1,1015.4 L651.3,1012.6 L652.0,1010.0 L652.9,1008.2 L653.5,1005.5 L654.4,1003.8 L655.1,1001.3 L655.9,1003.6 L656.6,1006.0 L657.6,1008.8 L660.2,1009.3 L662.6,1010.1 L665.2,1010.5 L667.6,1011.3 L670.7,1009.5 L671.7,1011.9 L672.9,1014.5 L673.8,1016.1 L675.1,1018.8 L676.3,1021.4 L677.3,1023.3 L678.2,1025.7 L681.4,1023.9 L682.6,1025.9 L683.8,1027.4 L685.1,1029.5 L686.4,1031.5 L688.0,1032.8 L689.2,1035.0 L692.0,1035.0 L692.7,1035.0 L694.7,1036.2 L696.4,1037.8 L697.8,1035.6 L699.5,1033.7 L700.9,1031.4 L702.0,1033.2 L703.4,1035.9 L704.6,1037.8 L707.3,1037.8 L709.3,1040.3 L710.9,1042.3 L713.7,1042.6 L716.4,1043.2 L717.7,1041.1 L718.9,1038.1 L720.0,1035.9 L721.8,1034.2 L723.7,1032.7 L725.2,1034.4 L726.4,1035.6 L727.9,1033.6 L729.2,1030.7 L730.6,1029.3 L731.9,1026.5 L733.6,1028.5 L735.5,1031.2 L737.3,1033.2 L739.5,1031.7 L741.9,1030.5 L744.6,1030.1 L746.4,1029.6 L748.2,1028.3 L750.1,1029.7 L752.0,1031.8 L753.7,1034.1 L755.8,1036.3 L758.3,1037.8 L760.5,1037.0 L762.8,1036.9 L765.0,1038.1 L767.4,1038.7 L768.4,1040.7 L769.5,1043.1 L770.7,1044.7 L771.9,1046.9 L773.1,1049.6 L774.3,1051.6 L775.5,1054.1 L776.8,1055.8 L778.1,1058.1 L779.2,1059.6 L781.3,1060.5 L783.7,1061.8 L784.8,1059.6 L785.5,1056.4 L786.5,1054.1 L787.1,1051.6 L787.9,1049.6 L788.5,1047.5 L789.2,1045.0 L790.9,1043.9 L792.8,1043.2 L795.6,1045.4 L796.1,1042.9 L796.7,1040.4 L797.1,1038.6 L797.7,1035.6 L798.3,1033.8 L798.8,1031.2 L799.2,1028.7 L800.1,1026.1 L801.1,1024.0 L801.9,1021.4 L803.9,1019.2 L805.6,1016.8 L807.8,1017.4 L810.1,1017.7 L812.7,1018.3 L815.6,1019.6 L817.6,1018.6 L819.2,1016.2 L821.1,1015.0 L823.3,1016.1 L825.6,1016.8 L827.3,1014.4 L829.2,1012.3 L831.5,1013.3 L833.8,1013.7 L836.1,1014.7 L838.3,1015.9 L839.6,1017.9 L840.7,1019.3 L842.0,1021.4 L844.3,1023.4 L846.5,1025.0" fill="none" stroke="#b0f2b0" stroke-width="3.1" stroke-linejoin="round"/>
<path d="M99.4,1098.0 L101.7,1099.0 L103.0,1101.4 L104.6,1104.2 L107.6,1102.0 L110.5,1102.7 L113.5,1101.3 L114.3,1103.7 L115.6,1106.0 L116.4,1107.9 L118.7,1105.7 L119.7,1103.3 L120.5,1101.4 L121.6,1099.0 L123.2,1100.8 L124.6,1102.0 L126.3,1104.4 L128.3,1106.4 L129.6,1108.5 L130.6,1111.1 L132.0,1113.8 L133.0,1111.7 L133.8,1109.0 L134.9,1107.2 L135.9,1104.6 L136.9,1101.9 L137.9,1099.8 L139.4,1101.3 L140.8,1103.4 L142.3,1105.0 L145.3,1103.5 L148.2,1101.3 L150.2,1102.3 L151.9,1103.5 L153.8,1102.2 L155.6,1100.5 L157.4,1102.2 L159.3,1104.2 L160.7,1101.4 L162.3,1099.0 L163.9,1101.8 L165.3,1104.2 L167.2,1102.9 L169.0,1102.0 L171.9,1101.3 L173.6,1099.8 L174.9,1098.0 L177.1,1100.5 L178.4,1098.0 L180.0,1096.1 L181.7,1096.6 L183.7,1096.8 L186.7,1095.4 L187.4,1097.5 L188.4,1100.2 L189.1,1101.9 L189.7,1104.2 L190.9,1106.5 L191.8,1107.9 L192.6,1110.1 L194.4,1110.4 L196.3,1110.9 L198.0,1112.5 L200.0,1113.8 L202.1,1115.4 L204.4,1116.8 L205.3,1118.7 L206.3,1121.4 L207.4,1123.5 L208.4,1125.8 L209.3,1127.4 L210.4,1129.8 L211.5,1131.2 L212.6,1133.8 L213.8,1132.4 L215.3,1130.1 L216.3,1128.6 L218.1,1131.1 L220.0,1133.4 L222.2,1135.3 L224.7,1133.1 L227.4,1131.9 L229.2,1132.6 L231.1,1133.4 L232.8,1132.8 L234.8,1131.9 L235.9,1133.8 L236.9,1136.1 L237.7,1137.9 L239.2,1135.8 L240.8,1132.7 L242.2,1130.5 L244.2,1132.5 L246.6,1134.2 L248.7,1135.8 L250.6,1135.5 L252.5,1137.1 L254.5,1136.2 L256.2,1134.9 L258.1,1134.0 L259.9,1133.4 L262.2,1131.9 L265.1,1134.2 L267.0,1132.3 L268.8,1130.3 L270.3,1129.0 L273.2,1130.5 L275.6,1132.1 L277.7,1133.4 L279.2,1132.2 L280.6,1130.9 L283.6,1130.9 L285.2,1133.0 L286.6,1135.6 L287.5,1133.4 L288.2,1130.8 L288.7,1128.2 L289.7,1126.4 L290.3,1123.8 L293.2,1124.5 L294.6,1123.5 L296.2,1122.0 L298.2,1121.1 L299.9,1120.8 L301.4,1122.7 L302.8,1124.5 L304.7,1122.1 L306.5,1120.1 L308.3,1118.0 L310.1,1116.5 L311.7,1114.2 L314.0,1112.2 L316.1,1112.2 L318.3,1110.5 L319.5,1108.4 L321.0,1106.7 L322.0,1104.6 L324.3,1102.8 L326.5,1101.6 L327.2,1099.7 L327.8,1096.8 L328.6,1095.3 L329.6,1092.6 L330.2,1090.5 L331.9,1089.6 L333.9,1089.0 L335.3,1087.0 L336.8,1084.6 L340.0,1083.7 L341.8,1085.5 L343.4,1087.1 L346.8,1087.1 L348.5,1088.3 L350.2,1089.9 L353.1,1091.0 L354.8,1093.7 L356.5,1096.2 L357.8,1093.2 L358.8,1090.5 L360.1,1092.8 L361.1,1094.5 L362.2,1096.7 L364.5,1094.5 L366.0,1095.9 L367.6,1098.2 L369.0,1099.6 L370.0,1097.5 L370.9,1095.9 L371.8,1093.5 L373.0,1091.6 L374.3,1093.8 L375.8,1096.7 L378.1,1096.2 L380.4,1098.4 L383.2,1099.0 L385.5,1097.3 L386.5,1095.4 L387.3,1092.9 L388.4,1090.7 L389.5,1088.8 L390.8,1091.1 L392.3,1093.3 L394.2,1091.3 L395.7,1089.9 L398.0,1087.1 L399.7,1088.8 L401.2,1086.0 L402.4,1084.1 L403.7,1081.4 L405.0,1079.0 L405.8,1076.9 L407.1,1075.1 L409.7,1074.9 L412.2,1074.0 L413.6,1072.4 L415.1,1070.0 L416.8,1068.4 L419.0,1065.4 L421.0,1065.4 L423.2,1061.7 L425.3,1061.3 L426.7,1060.0 L427.7,1057.3 L428.8,1055.1 L429.8,1054.3 L431.0,1050.9 L432.1,1048.9 L433.3,1048.3 L434.2,1045.0 L435.9,1043.7 L437.5,1040.6 L439.5,1038.0 L440.9,1037.8 L442.7,1035.3 L444.3,1034.1 L446.2,1031.4 L447.9,1030.2 L449.6,1027.8 L451.3,1025.1 L451.9,1022.7 L452.8,1020.9 L453.8,1018.3 L456.6,1018.7 L459.0,1020.0 L460.8,1022.9 L462.4,1025.1 L463.3,1027.3 L464.2,1028.9 L464.9,1031.1 L467.4,1031.1 L470.1,1030.2 L472.4,1031.7 L475.0,1033.6 L475.6,1030.8 L476.6,1028.9 L477.1,1026.0 L477.7,1023.0 L478.5,1021.8 L479.2,1019.1 L480.2,1015.9 L480.8,1013.7 L481.5,1010.6 L482.1,1008.4 L482.6,1005.9 L483.0,1004.8 L483.6,1000.8 L483.9,999.8 L484.7,996.1 L485.3,995.0 L485.8,991.2 L486.4,988.9 L486.8,987.7 L487.3,984.7 L488.8,986.8 L490.4,987.6 L491.8,990.6 L493.6,990.9 L495.0,993.8 L495.9,997.3 L497.1,998.3 L498.2,1001.1 L499.3,1002.0 L500.2,1005.1 L501.5,1007.7 L502.4,1007.7 L503.5,1010.8 L504.1,1013.8 L505.0,1015.3 L505.6,1018.4 L506.0,1020.3 L507.0,1022.6 L507.4,1025.6 L508.1,1028.0 L508.8,1030.0 L509.4,1032.2 L509.8,1034.9 L510.6,1036.7 L510.9,1039.0 L511.8,1041.6 L512.1,1043.7 L512.7,1045.9 L513.6,1047.6 L514.6,1050.0 L515.0,1052.7 L515.9,1054.6 L516.3,1057.4 L516.9,1059.3 L517.3,1061.8 L518.2,1064.5 L519.3,1066.6 L520.5,1069.1 L523.2,1068.7 L525.2,1070.6 L527.3,1071.8 L528.8,1073.8 L530.3,1077.1 L531.9,1079.1 L532.9,1081.9 L533.9,1083.7 L534.6,1086.4 L535.6,1088.6 L536.3,1090.4 L537.3,1092.8 L540.0,1091.0 L541.2,1093.7 L542.4,1095.6 L543.3,1098.6 L544.6,1100.9 L546.6,1101.2 L548.6,1101.7 L549.9,1104.0 L551.4,1105.8 L552.6,1108.0 L555.7,1106.4 L558.3,1107.8 L560.5,1108.8 L563.7,1110.4 L564.8,1108.5 L566.1,1107.2 L567.9,1109.0 L569.3,1110.4 L570.8,1108.1 L572.5,1106.4 L573.3,1109.0 L574.4,1111.0 L575.2,1113.9 L576.4,1116.0 L577.6,1117.9 L578.8,1120.4 L580.2,1121.7 L581.2,1124.0 L583.6,1124.3 L586.0,1124.0 L588.0,1125.2 L589.9,1126.8 L591.6,1127.9 L593.1,1129.6 L594.7,1132.0 L596.4,1133.5 L599.1,1133.4 L601.9,1134.3 L604.2,1136.4 L606.1,1136.4 L608.3,1138.3 L610.4,1140.7 L612.6,1141.2 L614.7,1143.1 L616.7,1143.1 L618.6,1143.9 L620.7,1145.4 L622.6,1146.3 L623.4,1143.6 L624.1,1142.1 L624.7,1139.3 L625.3,1137.6 L626.0,1134.7 L626.9,1133.0 L627.4,1130.3 L629.0,1127.9 L630.6,1125.6 L631.7,1123.8 L632.5,1121.0 L633.6,1119.1 L634.6,1117.0 L635.4,1114.4 L636.4,1111.7 L636.9,1109.6 L637.9,1107.6 L638.7,1105.0 L640.6,1103.0 L642.4,1102.4 L644.2,1100.5 L645.9,1098.7 L647.8,1099.1 L649.8,1096.5 L651.7,1095.8 L653.9,1097.5 L656.5,1098.5 L659.0,1097.0 L661.2,1095.8 L663.6,1097.4 L666.0,1098.5 L668.0,1097.8 L670.1,1097.8 L671.0,1100.0 L671.8,1101.7 L672.8,1104.0 L675.0,1103.9 L677.0,1104.6 L679.0,1104.9 L680.5,1106.1 L682.4,1108.7 L684.0,1109.9 L685.9,1110.2 L687.9,1110.9 L688.8,1114.0 L689.9,1116.8 L691.9,1115.9 L693.9,1115.4 L695.5,1116.8 L696.9,1117.8 L699.0,1116.0 L700.9,1113.8 L701.8,1115.9 L702.7,1117.9 L703.7,1120.1 L704.9,1121.8 L706.7,1121.7 L708.8,1121.8 L710.8,1120.7 L712.8,1119.8 L714.2,1118.3 L715.6,1116.4 L716.8,1114.8 L719.1,1114.3 L721.8,1112.8 L723.9,1114.6 L725.8,1116.8 L727.7,1117.6 L729.7,1118.8 L732.7,1120.8 L734.5,1120.0 L736.7,1118.8 L739.2,1118.5 L741.7,1118.8 L743.0,1120.2 L744.2,1122.3 L745.7,1123.8 L747.2,1121.6 L749.0,1120.2 L750.7,1117.8 L752.8,1119.6 L754.6,1121.8 L756.8,1121.5 L758.6,1120.8 L760.1,1122.6 L762.1,1123.9 L763.6,1124.8 L765.6,1126.5 L767.6,1128.8 L769.3,1126.8 L770.8,1125.2 L772.6,1123.8 L774.2,1126.1 L775.5,1127.8 L777.1,1129.5 L778.9,1131.4 L780.0,1129.2 L780.7,1126.3 L781.7,1124.3 L782.5,1121.8 L784.6,1120.1 L786.5,1118.8 L787.7,1116.9 L789.1,1114.5 L790.5,1112.8 L792.6,1111.7 L794.5,1109.9 L795.6,1107.5 L796.4,1105.9 L799.0,1104.2 L801.4,1102.9 L803.2,1102.0 L804.8,1100.6 L806.4,1098.9 L808.4,1096.8 L810.4,1094.9 L811.8,1093.0 L813.4,1090.9 L815.2,1092.8 L816.7,1094.3 L817.5,1096.4 L818.1,1099.4 L818.6,1101.4 L819.3,1103.9 L820.3,1101.9 L821.2,1098.9 L822.3,1096.9 L824.3,1096.3 L826.3,1095.5 L828.5,1095.1 L830.8,1097.0 L833.3,1096.9 L835.0,1098.3 L836.7,1100.5 L838.2,1101.9 L840.0,1101.2 L842.2,1100.9 L845.2,1098.9 L846.8,1099.9" fill="none" stroke="#f2b0b0" stroke-width="3.1" stroke-linejoin="round"/>
<path d="M99.4,1168.8 L101.3,1169.6 L103.1,1171.1 L104.7,1168.9 L106.1,1167.4 L108.3,1167.4 L110.5,1164.4 L112.7,1165.9 L114.2,1165.0 L115.7,1163.4 L117.9,1165.9 L119.6,1168.4 L120.9,1171.1 L122.6,1169.1 L124.6,1166.6 L126.3,1165.9 L128.3,1165.4 L131.2,1167.4 L134.2,1167.4 L136.4,1169.3 L139.4,1168.1 L142.3,1166.6 L144.3,1167.5 L146.0,1167.8 L147.2,1165.6 L148.2,1163.7 L151.2,1161.9 L152.5,1164.4 L154.0,1167.0 L155.6,1169.3 L157.2,1168.1 L158.6,1166.6 L160.1,1164.7 L161.6,1162.2 L164.5,1161.4 L166.2,1159.9 L167.5,1158.9 L169.0,1157.7 L170.1,1155.5 L170.7,1153.8 L171.6,1151.4 L172.6,1149.6 L174.5,1150.9 L176.3,1151.8 L178.3,1150.5 L180.0,1149.6 L181.8,1152.1 L183.7,1154.0 L185.4,1155.9 L186.8,1158.1 L188.2,1160.0 L189.6,1162.2 L191.0,1165.1 L192.6,1167.4 L195.6,1166.6 L196.9,1169.5 L198.5,1171.8 L200.7,1170.3 L202.1,1172.7 L203.2,1174.5 L204.4,1177.0 L206.0,1179.2 L207.4,1180.7 L209.4,1179.2 L211.8,1177.0 L214.1,1179.9 L217.0,1179.2 L218.4,1181.1 L220.0,1183.6 L222.2,1183.7 L223.5,1185.1 L225.0,1187.3 L227.4,1188.3 L228.4,1186.9 L229.6,1185.2 L231.8,1187.2 L233.1,1185.8 L234.8,1184.6 L236.4,1186.7 L237.7,1188.6 L239.4,1190.6 L240.7,1193.1 L242.1,1191.1 L243.7,1188.6 L245.9,1189.4 L247.0,1188.0 L248.1,1186.1 L249.3,1187.8 L250.2,1189.9 L251.1,1191.6 L252.7,1189.6 L254.0,1188.2 L256.2,1188.6 L257.2,1186.3 L258.5,1183.5 L261.1,1181.2 L261.9,1183.3 L262.5,1186.0 L263.0,1188.1 L263.6,1190.1 L265.4,1190.3 L267.3,1190.8 L270.3,1192.0 L272.5,1190.1 L274.2,1192.5 L276.2,1194.5 L277.4,1192.6 L278.1,1190.0 L279.2,1187.9 L280.8,1186.1 L282.1,1183.7 L285.1,1182.7 L288.0,1184.9 L289.6,1186.1 L291.1,1188.2 L292.5,1189.4 L294.8,1190.1 L296.9,1191.1 L298.9,1190.1 L300.6,1188.6 L304.3,1188.2 L306.5,1189.4 L307.8,1186.5 L308.7,1184.2 L310.4,1185.8 L312.4,1186.9 L313.5,1184.6 L314.5,1182.3 L315.4,1180.5 L318.3,1179.8 L319.1,1177.6 L319.8,1175.2 L320.6,1172.4 L322.5,1170.5 L324.3,1167.9 L325.8,1166.7 L327.2,1165.0 L328.3,1162.4 L329.3,1160.8 L330.2,1158.3 L331.9,1156.5 L333.9,1155.4 L336.8,1155.6 L339.5,1154.2 L340.8,1157.2 L342.0,1159.8 L343.1,1161.6 L343.8,1164.1 L345.0,1166.1 L346.8,1168.2 L348.5,1170.5 L350.8,1172.4 L352.9,1174.1 L355.0,1174.9 L357.3,1175.8 L359.0,1174.3 L360.9,1172.6 L362.0,1174.9 L363.5,1177.6 L364.2,1180.1 L365.0,1181.9 L365.4,1184.4 L366.2,1186.4 L368.1,1185.3 L369.7,1184.6 L371.0,1182.5 L372.3,1180.2 L374.0,1178.7 L375.9,1177.6 L378.5,1178.5 L381.1,1175.8 L383.9,1175.5 L386.4,1175.8 L388.3,1177.8 L390.0,1180.2 L390.9,1178.2 L391.9,1176.1 L392.8,1173.5 L393.5,1171.4 L395.3,1169.9 L397.0,1167.9 L398.8,1169.3 L400.5,1171.4 L401.6,1169.6 L402.9,1167.3 L404.0,1165.2 L405.0,1163.5 L406.5,1161.8 L407.5,1159.0 L408.8,1157.8 L410.2,1155.5 L412.5,1157.3 L414.7,1159.6 L416.3,1158.3 L417.6,1156.2 L419.1,1154.7 L420.2,1152.3 L421.0,1151.3 L422.2,1148.1 L423.2,1147.0 L424.3,1144.0 L425.2,1142.3 L427.8,1143.0 L430.5,1143.2 L431.4,1140.5 L432.3,1138.8 L433.1,1135.6 L434.1,1133.9 L434.9,1132.4 L435.9,1129.1 L436.7,1127.3 L438.0,1124.6 L439.2,1122.2 L440.5,1119.5 L442.0,1117.6 L444.2,1117.8 L446.4,1117.6 L447.9,1115.2 L449.1,1113.5 L450.2,1110.6 L451.7,1108.8 L453.7,1109.4 L456.1,1110.2 L458.2,1110.5 L460.0,1111.4 L461.9,1109.5 L463.6,1106.9 L465.9,1108.7 L467.0,1106.5 L467.9,1104.4 L469.1,1101.9 L470.1,1099.7 L471.1,1097.2 L471.8,1095.0 L473.1,1093.2 L474.4,1091.0 L475.9,1089.1 L476.6,1086.9 L477.7,1084.6 L478.1,1082.0 L478.4,1080.2 L478.7,1077.4 L479.1,1075.5 L479.5,1073.4 L480.4,1070.4 L480.9,1068.2 L482.1,1065.6 L483.2,1063.6 L485.5,1064.6 L487.3,1065.4 L489.1,1065.9 L491.0,1064.9 L492.8,1064.1 L495.0,1066.8 L495.9,1069.1 L496.9,1070.9 L497.6,1072.8 L498.2,1075.3 L498.7,1077.3 L500.0,1076.2 L501.2,1078.0 L502.4,1079.9 L503.4,1082.5 L504.8,1084.1 L505.3,1086.1 L506.0,1089.0 L506.9,1091.6 L507.5,1093.5 L508.1,1096.4 L508.8,1098.5 L509.8,1101.0 L510.9,1103.5 L511.9,1106.4 L513.9,1108.4 L515.7,1109.1 L517.5,1111.2 L518.9,1112.9 L520.5,1114.0 L522.3,1116.0 L523.5,1118.2 L524.6,1120.0 L525.5,1122.4 L527.5,1121.7 L529.5,1120.8 L530.7,1122.7 L532.3,1125.1 L533.4,1127.1 L534.5,1129.2 L535.7,1131.8 L537.2,1133.5 L538.2,1135.9 L540.7,1137.6 L543.0,1139.9 L545.2,1140.0 L547.0,1139.9 L548.1,1141.6 L549.4,1143.9 L552.6,1142.3 L554.0,1144.4 L555.7,1146.3 L558.0,1145.8 L560.5,1145.5 L563.1,1147.3 L565.3,1148.6 L568.0,1151.1 L570.7,1152.0 L573.5,1153.5 L575.2,1156.0 L576.7,1158.3 L579.9,1156.7 L581.3,1158.2 L582.5,1160.8 L583.9,1162.3 L585.3,1164.1 L586.9,1166.9 L588.7,1168.7 L590.7,1170.1 L592.6,1171.1 L594.4,1171.9 L596.6,1173.4 L598.8,1175.9 L600.6,1178.2 L602.4,1178.4 L604.6,1179.0 L606.1,1180.4 L607.8,1181.4 L609.0,1183.7 L610.3,1186.0 L611.8,1188.6 L613.8,1187.5 L615.7,1186.2 L618.1,1187.8 L619.0,1189.4 L620.3,1191.2 L621.3,1193.4 L622.4,1191.8 L624.0,1189.5 L625.3,1187.8 L627.0,1185.8 L628.5,1182.6 L630.1,1180.6 L630.9,1178.4 L632.1,1175.5 L632.8,1173.6 L633.8,1170.8 L634.9,1168.7 L636.3,1167.6 L638.0,1166.3 L640.4,1167.1 L641.0,1164.3 L641.9,1161.9 L642.8,1159.1 L644.7,1160.8 L646.8,1163.1 L649.0,1163.0 L650.8,1162.3 L652.2,1164.2 L653.5,1166.2 L654.8,1168.7 L656.4,1166.5 L657.9,1163.9 L659.5,1165.6 L661.1,1167.1 L663.4,1165.3 L665.9,1163.9 L669.1,1163.9 L671.0,1166.4 L673.1,1168.7 L676.3,1170.3 L677.6,1172.1 L678.8,1174.1 L680.2,1175.8 L683.2,1175.0 L685.8,1173.4 L687.8,1175.6 L689.8,1178.2 L691.6,1178.1 L693.8,1177.4 L695.0,1176.7 L696.8,1178.2 L698.5,1179.4 L700.6,1177.8 L702.9,1176.7 L704.9,1178.4 L706.5,1179.4 L709.1,1178.5 L710.8,1180.6 L712.6,1183.4 L715.3,1181.7 L717.9,1184.1 L719.7,1183.7 L721.5,1182.9 L723.4,1183.6 L725.0,1184.7 L726.8,1185.9 L728.5,1187.3 L729.6,1185.4 L730.6,1183.5 L732.0,1182.0 L735.6,1182.0 L736.6,1184.4 L737.3,1186.3 L738.2,1188.9 L739.1,1190.8 L740.8,1191.4 L742.6,1192.3 L745.3,1191.2 L746.7,1189.1 L747.9,1187.7 L749.6,1189.4 L751.4,1190.8 L752.9,1193.3 L754.2,1195.2 L755.8,1197.9 L758.3,1196.5 L761.1,1196.1 L762.4,1198.8 L763.6,1200.6 L764.7,1203.2 L766.5,1202.8 L768.2,1201.8 L769.3,1203.4 L770.5,1205.5 L771.7,1207.1 L773.2,1205.3 L774.8,1203.5 L776.1,1202.3 L777.3,1199.9 L778.4,1196.8 L779.6,1194.4 L780.5,1191.9 L781.4,1189.1 L783.4,1188.0 L785.8,1187.3 L787.1,1185.8 L788.3,1183.6 L789.3,1182.0 L790.3,1180.5 L791.9,1178.1 L792.9,1176.7 L794.5,1175.0 L795.7,1172.4 L797.3,1170.6 L798.9,1169.3 L800.8,1168.8 L803.0,1168.0 L805.2,1167.0 L807.3,1165.4 L809.6,1164.4 L812.4,1162.4 L814.9,1161.2 L816.9,1163.1 L819.3,1164.4 L821.1,1163.5 L822.3,1165.2 L823.2,1167.1 L824.4,1169.5 L825.5,1171.1 L826.9,1168.6 L828.0,1167.4 L829.6,1165.5 L830.8,1163.0 L833.4,1164.0 L836.1,1165.8 L838.7,1166.6 L841.4,1167.9 L844.3,1168.1 L846.8,1167.9" fill="none" stroke="#bcbcbc" stroke-width="3.1" stroke-linejoin="round"/>
<path d="M99.4,852.9 L100.8,854.6 L101.9,857.0 L103.1,858.8 L104.1,856.3 L105.1,854.2 L105.7,851.4 L106.8,849.2 L108.2,851.8 L109.8,853.7 L111.1,856.3 L112.7,858.8 L115.0,856.6 L117.2,859.6 L119.2,858.3 L120.9,857.4 L122.7,856.0 L124.6,854.4 L126.8,855.9 L128.3,853.1 L129.8,850.7 L131.9,850.1 L134.2,849.2 L136.0,848.8 L137.9,848.5 L139.4,850.4 L140.8,852.9 L142.5,855.5 L143.8,857.4 L145.2,855.3 L146.8,853.7 L148.2,856.1 L149.3,858.3 L150.5,860.3 L151.6,857.8 L152.5,856.0 L153.4,853.7 L155.0,850.9 L156.4,848.5 L158.3,849.9 L160.1,850.7 L161.5,853.1 L163.0,855.9 L166.0,854.4 L167.6,856.1 L169.0,857.4 L170.8,858.0 L172.6,858.8 L174.5,857.3 L176.3,855.1 L178.1,853.1 L180.0,851.4 L183.0,852.9 L186.0,850.7 L188.9,850.0 L190.3,848.3 L191.5,845.9 L192.6,844.0 L194.0,841.6 L195.0,838.6 L196.3,836.2 L200.0,836.7 L201.3,838.6 L203.1,840.8 L204.4,843.3 L205.9,844.9 L207.4,847.0 L208.7,845.4 L210.2,842.8 L211.8,841.1 L213.2,843.9 L214.8,846.3 L217.8,847.0 L220.7,849.2 L221.6,851.2 L222.2,853.8 L223.3,855.5 L224.3,858.4 L225.0,860.3 L226.3,861.9 L227.4,864.0 L230.4,861.8 L233.3,864.0 L234.6,866.0 L236.1,867.8 L237.7,869.9 L238.6,867.5 L239.7,864.8 L240.7,862.5 L242.3,864.6 L243.7,866.2 L246.6,868.5 L248.4,866.3 L250.3,864.3 L253.3,865.5 L254.4,868.2 L255.5,870.7 L256.6,868.2 L257.4,866.6 L258.1,863.9 L259.2,861.8 L260.3,860.1 L261.7,857.7 L262.9,855.9 L264.1,857.6 L265.2,860.0 L266.1,861.5 L267.3,863.7 L268.2,862.2 L269.2,860.3 L270.3,858.1 L272.3,858.6 L274.0,859.6 L274.8,861.9 L275.7,864.4 L276.8,866.4 L277.7,868.5 L279.0,866.9 L279.9,864.8 L281.4,867.3 L282.9,870.2 L285.8,868.5 L287.7,867.6 L289.5,866.2 L290.8,867.8 L292.5,869.9 L293.9,872.7 L295.4,875.1 L297.1,873.4 L298.3,871.3 L299.9,869.9 L301.5,871.6 L303.4,872.4 L305.0,874.4 L306.1,872.6 L307.0,870.2 L307.6,868.4 L308.7,866.2 L310.1,868.8 L311.7,870.7 L313.7,869.0 L315.4,867.7 L316.8,866.6 L318.3,864.8 L320.3,865.6 L322.0,867.0 L323.5,868.6 L325.0,869.9 L326.7,870.3 L328.7,871.4 L330.1,869.8 L331.3,867.7 L332.4,866.2 L334.5,864.8 L336.8,863.3 L338.5,860.8 L339.8,858.8 L342.8,859.6 L344.2,857.2 L345.7,855.1 L348.0,855.1 L350.2,855.8 L351.3,853.7 L352.0,851.3 L353.1,849.2 L354.8,849.8 L356.8,850.6 L358.1,848.4 L359.3,847.0 L360.9,844.2 L362.0,842.5 L363.7,844.5 L365.0,846.9 L366.8,845.9 L368.7,844.7 L369.7,842.2 L371.1,839.5 L372.4,837.3 L374.2,838.5 L376.1,839.5 L378.1,841.0 L379.8,841.8 L381.5,839.3 L383.5,837.3 L385.0,835.1 L386.4,834.5 L387.8,832.2 L389.4,830.7 L392.3,831.4 L394.3,830.3 L396.0,828.7 L397.9,829.3 L399.7,830.7 L400.7,828.6 L401.9,825.4 L402.8,823.9 L403.9,821.0 L404.9,818.8 L406.6,817.4 L408.6,815.9 L409.7,813.3 L411.0,811.3 L412.3,808.5 L415.3,809.2 L416.7,806.9 L417.9,804.9 L419.0,802.6 L421.2,801.8 L421.6,799.7 L422.4,797.1 L422.9,794.1 L423.4,792.0 L424.6,790.2 L425.4,788.2 L426.8,786.6 L427.8,784.2 L428.8,780.8 L430.0,779.5 L431.0,776.9 L432.4,773.7 L433.4,773.1 L434.5,769.3 L435.5,768.2 L436.9,764.8 L438.1,762.7 L439.4,760.7 L441.1,757.6 L442.4,756.3 L443.8,753.0 L445.2,751.3 L446.4,749.1 L447.6,746.2 L449.0,744.0 L450.5,741.9 L452.4,739.0 L453.8,737.1 L454.9,739.2 L455.9,740.7 L457.1,743.4 L458.0,745.0 L459.2,746.9 L460.2,749.8 L461.4,751.5 L462.3,754.1 L464.1,755.2 L465.7,757.6 L467.4,757.6 L469.4,759.8 L470.1,762.4 L470.9,764.4 L471.7,766.6 L472.4,769.6 L473.1,771.3 L473.7,774.0 L475.2,776.7 L476.7,778.5 L477.9,780.2 L479.2,780.3 L480.6,782.6 L482.2,785.4 L483.9,784.8 L486.1,783.4 L487.9,782.6 L488.3,780.2 L488.8,777.2 L489.1,775.3 L489.7,772.4 L490.2,770.3 L490.6,767.7 L491.0,765.0 L491.6,762.7 L491.9,759.7 L492.3,756.9 L493.1,755.1 L493.3,752.4 L493.9,749.3 L494.4,747.1 L494.9,744.2 L495.5,742.2 L495.9,739.3 L496.9,741.5 L497.6,744.3 L498.9,746.1 L499.9,749.2 L500.7,751.3 L501.1,754.1 L501.6,756.5 L502.1,758.7 L502.6,761.6 L503.2,763.7 L503.7,766.7 L504.1,768.7 L504.6,771.7 L505.0,774.0 L506.0,771.0 L507.0,769.8 L507.9,767.2 L508.9,763.9 L509.6,762.8 L510.7,759.8 L511.7,762.0 L512.8,765.2 L513.8,766.9 L514.9,770.3 L515.8,771.3 L516.7,775.4 L517.8,776.9 L518.2,778.4 L518.9,782.3 L519.4,783.3 L520.3,786.8 L520.7,788.1 L521.5,792.0 L521.8,792.5 L522.7,796.1 L523.2,798.7 L523.8,799.7 L524.4,803.3 L524.9,805.3 L525.7,808.2 L526.5,810.2 L527.2,813.0 L528.0,815.2 L528.9,818.0 L530.0,820.4 L530.7,822.1 L531.8,824.4 L532.4,826.5 L533.3,828.1 L534.0,830.4 L535.0,832.9 L536.7,835.1 L537.7,837.0 L539.7,838.0 L541.4,839.2 L543.1,841.6 L545.1,843.7 L546.3,841.8 L547.7,840.4 L548.8,838.5 L550.5,839.0 L552.5,840.0 L553.8,842.0 L554.8,843.7 L556.2,845.1 L559.2,844.4 L560.4,846.3 L561.8,847.7 L562.9,849.6 L565.1,848.1 L567.3,851.1 L568.4,848.5 L569.1,846.0 L570.3,843.7 L571.6,845.7 L573.2,847.4 L574.1,849.5 L574.9,852.1 L575.8,854.4 L576.9,857.0 L579.9,854.8 L580.7,857.6 L582.0,859.9 L582.9,862.9 L585.8,860.7 L587.7,862.0 L589.5,863.6 L591.2,866.5 L592.5,868.8 L593.8,866.9 L595.4,865.8 L596.8,867.8 L598.4,869.2 L599.9,871.0 L601.3,869.3 L602.8,867.3 L604.3,869.8 L605.8,871.8 L608.7,870.3 L610.3,871.9 L611.7,874.0 L612.6,871.6 L613.9,868.2 L614.7,865.8 L615.2,867.9 L616.1,870.1 L616.7,872.2 L617.6,874.7 L619.3,874.1 L621.3,873.2 L622.5,875.4 L623.1,878.0 L624.3,879.9 L625.2,877.9 L626.5,876.2 L629.4,875.5 L630.3,873.6 L631.5,871.2 L632.4,869.5 L635.4,867.3 L638.3,867.3 L639.1,864.9 L640.0,862.3 L640.7,859.4 L641.7,857.1 L642.3,854.1 L643.7,851.2 L645.0,848.7 L647.3,851.4 L648.3,853.6 L649.1,856.4 L650.0,854.8 L650.8,852.6 L651.8,850.5 L654.1,847.7 L655.0,845.5 L655.9,843.6 L656.8,841.4 L659.1,843.7 L660.5,842.0 L661.8,840.0 L664.6,840.5 L665.4,842.4 L666.4,844.9 L667.3,846.8 L668.4,848.8 L668.9,851.4 L670.0,853.2 L672.3,853.7 L674.6,850.9 L675.9,853.0 L676.9,855.9 L679.1,855.0 L681.9,856.8 L685.0,858.2 L687.3,856.8 L690.0,859.1 L691.5,860.1 L692.8,861.9 L693.8,859.2 L694.6,857.1 L695.5,854.1 L698.2,856.4 L699.4,858.4 L700.5,860.9 L702.0,863.0 L703.2,864.6 L704.3,862.6 L705.5,861.4 L707.5,858.5" fill="none" stroke="#5a0c66" stroke-width="1.9" stroke-linejoin="round"/>
<path d="M99.4,960.7 L100.7,959.3 L101.7,957.7 L104.6,960.0 L107.6,958.9 L110.5,958.5 L113.5,959.2 L114.4,961.1 L114.9,963.9 L115.8,965.7 L116.4,968.4 L117.2,970.3 L119.2,968.7 L120.9,966.6 L122.3,964.3 L123.8,962.4 L125.3,960.0 L127.3,960.5 L129.0,961.4 L130.7,962.2 L132.7,962.9 L133.8,964.4 L135.2,966.2 L136.4,968.1 L138.6,966.6 L140.6,968.2 L142.3,970.3 L144.3,969.2 L146.0,968.8 L149.0,967.4 L150.6,969.6 L151.9,971.1 L153.9,971.5 L155.6,972.5 L157.5,974.6 L159.3,976.2 L161.2,977.7 L163.0,978.5 L165.3,981.4 L166.9,979.6 L168.2,978.5 L170.1,977.4 L171.9,975.5 L174.1,976.5 L176.3,977.7 L178.2,975.6 L180.0,973.3 L181.1,971.4 L182.6,968.5 L183.7,966.6 L184.6,964.3 L185.5,961.3 L186.6,959.1 L187.4,956.3 L187.9,953.6 L188.0,951.2 L188.6,949.3 L189.1,946.7 L189.5,944.5 L189.7,942.0 L190.9,939.1 L191.7,936.6 L192.9,939.4 L194.6,940.5 L195.8,941.9 L197.3,946.3 L198.7,946.2 L200.2,949.4 L201.2,948.3 L202.4,944.6 L203.8,943.3 L204.7,940.3 L206.2,939.7 L207.3,936.6 L208.0,938.6 L208.2,941.5 L208.7,943.3 L209.2,945.5 L209.9,948.2 L210.4,950.4 L211.0,953.1 L211.7,955.0 L212.4,957.7 L213.3,960.0 L216.3,962.2 L216.9,964.2 L217.9,967.0 L218.4,969.1 L219.2,971.1 L222.2,970.5 L223.7,968.4 L225.2,966.8 L226.4,969.2 L227.4,972.0 L230.4,974.2 L231.4,976.7 L232.3,979.0 L233.3,981.6 L234.7,979.5 L236.3,977.2 L239.2,978.7 L242.2,977.2 L243.5,978.5 L245.1,980.1 L246.1,982.3 L247.0,983.8 L248.1,986.1 L251.1,984.6 L254.0,985.3 L257.0,986.8 L258.1,984.1 L259.0,982.0 L259.9,979.4 L262.9,981.6 L264.4,979.3 L265.8,977.2 L267.4,975.9 L268.8,974.2 L270.7,972.1 L272.5,971.1 L274.0,969.1 L276.2,971.3 L277.4,973.0 L278.4,975.0 L280.0,977.5 L281.4,979.4 L283.6,976.4 L284.5,978.6 L285.3,981.5 L286.3,983.5 L287.3,986.1 L290.3,986.8 L291.9,988.0 L293.9,989.8 L295.8,987.7 L297.6,985.3 L299.2,983.3 L300.6,981.6 L301.9,979.8 L303.6,977.9 L304.9,980.0 L305.9,981.1 L307.3,983.1 L310.2,980.9 L313.2,978.7 L314.7,980.4 L316.1,981.6 L319.1,979.4 L322.0,977.9 L323.5,979.1 L325.0,980.9 L328.0,978.7 L330.2,977.9 L330.8,975.7 L331.4,973.5 L331.8,970.8 L332.4,968.3 L333.4,965.5 L334.6,963.1 L335.3,960.7 L335.6,957.9 L336.3,955.0 L336.4,952.7 L336.6,949.7 L337.0,947.4 L337.1,945.3 L337.4,942.5 L338.0,939.6 L338.6,937.5 L339.0,934.2 L339.7,931.7 L341.9,932.9 L343.0,935.2 L344.2,936.9 L347.1,935.1 L349.3,938.0 L350.8,935.5 L352.2,933.4 L353.1,930.9 L353.7,929.0 L354.5,926.6 L355.8,928.2 L356.7,930.0 L357.3,932.5 L358.0,934.3 L358.4,936.9 L359.6,938.9 L360.4,940.3 L361.3,942.5 L362.6,940.3 L364.1,938.6 L367.0,939.7 L369.2,938.6 L370.2,940.8 L370.9,942.1 L372.1,944.2 L374.0,943.1 L375.5,941.4 L377.0,940.1 L378.9,938.0 L382.3,937.4 L385.7,936.9 L386.9,934.7 L387.9,932.8 L389.2,931.2 L390.4,929.6 L391.7,927.1 L393.1,925.5 L395.1,924.6 L397.1,923.2 L398.8,925.3 L400.5,927.8 L401.7,926.0 L402.4,923.7 L403.4,922.1 L406.2,920.4 L407.1,918.5 L407.7,916.0 L408.5,914.1 L409.2,911.9 L410.1,909.2 L411.0,907.6 L411.9,905.0 L412.7,902.7 L413.3,900.9 L413.8,898.3 L414.6,896.1 L415.4,894.2 L416.6,892.8 L417.8,888.9 L419.1,887.4 L420.1,885.5 L421.4,881.8 L422.5,880.0 L422.8,877.1 L423.5,875.1 L424.0,872.0 L424.4,869.7 L424.9,866.9 L426.0,864.8 L426.8,862.8 L427.8,861.0 L429.6,859.9 L431.7,857.8 L433.7,856.6 L435.1,853.8 L436.3,852.2 L437.2,849.2 L438.4,847.4 L439.7,844.7 L440.5,841.4 L441.5,840.8 L442.6,836.5 L443.4,836.1 L444.4,831.7 L445.3,829.2 L446.1,828.7 L447.0,825.5 L449.2,823.5 L451.4,821.5 L453.7,820.3 L455.8,820.7 L458.1,821.8 L458.4,824.7 L459.3,826.9 L459.6,829.9 L461.4,831.3 L463.3,832.2 L464.4,833.9 L465.3,836.6 L466.4,838.2 L467.1,840.8 L468.1,842.3 L469.2,844.7 L470.1,847.6 L471.1,849.1 L472.0,852.7 L473.2,854.4 L474.2,857.4 L475.0,859.5 L476.5,862.2 L477.5,859.5 L478.4,857.1 L479.3,855.7 L480.3,852.3 L481.4,849.8 L482.2,848.0 L482.3,845.7 L482.4,842.6 L482.9,840.7 L482.7,838.1 L482.8,835.3 L483.1,833.0 L483.2,830.0 L483.3,828.2 L483.7,825.1 L483.9,822.9 L484.2,820.0 L484.3,818.2 L484.3,815.2 L484.4,812.9 L484.6,810.1 L485.0,808.1 L485.0,804.9 L485.0,803.0 L485.2,800.0 L485.5,797.9 L485.8,794.9 L485.8,792.8 L486.2,790.0 L486.2,787.9 L486.4,785.0 L486.5,782.6 L486.7,780.5 L487.0,777.5 L487.0,775.7 L487.5,773.2 L487.5,770.5 L487.8,768.3 L488.2,766.1 L488.1,763.2 L488.5,760.8 L488.7,758.3 L489.0,756.3 L488.9,753.4 L489.3,751.3 L490.0,753.9 L490.4,756.1 L491.1,758.9 L491.5,760.9 L492.0,763.9 L492.4,766.1 L492.9,768.9 L493.6,771.2 L493.7,773.6 L494.2,776.4 L494.3,778.4 L494.4,781.4 L494.6,783.9 L494.8,786.5 L495.0,788.5 L495.3,791.5 L495.3,794.1 L495.6,796.1 L495.8,799.1 L496.2,801.6 L496.4,803.9 L497.8,801.6 L499.1,798.4 L500.3,796.9 L501.5,793.9 L502.3,795.9 L502.8,798.6 L503.5,800.5 L504.3,803.4 L505.0,805.3 L505.4,807.4 L505.7,810.6 L506.1,813.3 L506.5,814.6 L507.0,817.7 L507.5,819.4 L507.9,822.9 L508.1,824.4 L508.5,827.6 L509.1,829.2 L509.3,831.7 L510.0,835.0 L510.2,836.6 L510.7,839.5 L511.1,842.2 L511.4,844.3 L511.5,847.3 L511.7,849.9 L511.9,852.5 L512.1,854.4 L512.5,857.6 L512.8,859.7 L512.9,862.5 L513.3,864.7 L513.4,867.7 L513.7,870.0 L513.7,872.6 L514.3,874.7 L514.2,877.2 L514.6,880.0 L514.8,882.4 L515.2,884.3 L515.7,886.9 L516.0,888.9 L516.3,891.4 L517.6,892.9 L519.1,894.8 L520.0,897.4 L521.0,899.1 L521.9,901.6 L522.8,904.5 L523.2,906.5 L524.0,909.4 L524.8,911.9 L525.8,914.2 L526.4,917.2 L527.3,919.4 L528.2,922.1 L528.9,924.7 L529.4,926.7 L530.0,928.6 L530.5,931.5 L531.0,933.5 L531.7,936.1 L532.2,938.9 L532.8,942.0 L534.1,944.7 L535.5,947.1 L536.7,949.4 L537.6,951.8 L538.4,954.8 L539.0,957.4 L541.0,957.7 L543.0,958.5 L544.0,960.6 L544.8,963.3 L545.7,965.1 L546.4,967.6 L548.5,968.7 L550.4,969.3 L551.5,971.0 L552.6,973.2 L553.8,975.6 L554.5,978.1 L555.5,979.9 L556.1,982.4 L558.1,980.8 L560.1,979.0 L563.5,979.0 L564.6,976.5 L566.1,975.4 L567.5,972.8 L568.6,971.0 L569.6,973.1 L570.4,974.9 L571.4,976.7 L572.3,978.7 L573.5,981.4 L574.8,983.5 L575.8,985.4 L576.6,987.8 L577.5,990.4 L578.3,992.6 L579.2,995.0 L579.8,998.1 L580.5,1000.6 L582.5,1002.7 L584.5,1005.1 L587.4,1002.9 L588.7,1005.0 L589.8,1007.7 L590.8,1009.7 L592.8,1009.6 L594.8,1009.7 L596.0,1012.1 L597.0,1015.3 L598.2,1017.7 L600.0,1018.2 L602.1,1017.8 L604.4,1017.6 L606.2,1020.1 L607.8,1021.6 L609.4,1023.9 L611.3,1025.3 L613.2,1026.1 L615.0,1027.6 L616.9,1027.3 L618.8,1026.4 L620.4,1024.1 L621.7,1022.3 L623.2,1020.1 L625.2,1021.7 L627.5,1022.6 L627.9,1020.5 L628.3,1017.4 L629.0,1015.3 L629.2,1012.5 L629.7,1009.9 L630.3,1007.8 L630.7,1005.1 L630.9,1002.4 L631.4,1000.2 L632.0,997.3 L632.5,995.2 L632.6,992.7 L633.2,990.1 L633.6,987.4 L634.0,984.7 L634.0,982.9 L634.3,979.8 L634.5,977.8 L635.0,975.0 L635.8,972.5 L636.3,971.0 L636.9,968.3 L637.5,966.3 L638.8,964.8 L640.0,962.5 L643.2,963.8 L644.6,961.6 L645.7,960.0 L647.4,958.3 L648.8,956.3 L649.8,953.8 L650.5,952.3 L651.8,949.6 L652.6,947.5 L653.5,950.1 L654.6,952.2 L655.7,955.0 L656.7,956.5 L657.7,958.9 L658.8,960.7 L660.1,962.7 L661.3,964.2 L662.6,966.3 L663.3,969.0 L664.4,971.2 L665.1,973.8 L666.4,976.5 L667.6,979.4 L668.7,977.8 L669.6,975.4 L670.7,973.8 L672.2,976.5 L673.8,978.8 L677.0,980.7 L680.7,980.7 L683.1,980.8 L685.7,981.3 L687.9,983.8 L690.1,985.7 L692.6,986.4 L695.1,987.6 L696.2,985.4 L697.8,982.7 L698.9,980.0 L700.8,977.5 L702.2,979.5 L703.9,981.9 L704.8,980.0 L706.2,977.5 L707.2,975.5" fill="none" stroke="#1010b0" stroke-width="1.9" stroke-linejoin="round"/>
<path d="M99.4,1037.2 L101.7,1038.2 L103.2,1036.4 L104.6,1034.9 L106.2,1032.4 L107.6,1029.8 L109.2,1031.1 L110.5,1032.7 L112.2,1030.7 L113.5,1028.3 L114.5,1030.8 L115.5,1032.4 L116.4,1034.9 L119.4,1034.6 L122.4,1033.7 L123.5,1035.9 L124.4,1037.2 L125.3,1039.4 L127.0,1038.6 L129.0,1037.2 L130.0,1039.3 L131.0,1042.2 L131.8,1044.8 L132.7,1046.8 L133.5,1044.2 L134.9,1041.1 L135.7,1038.6 L136.7,1037.0 L137.9,1034.9 L139.3,1037.2 L140.8,1040.1 L143.8,1037.9 L145.5,1036.8 L146.8,1035.2 L148.4,1037.3 L149.7,1038.6 L150.6,1040.2 L151.9,1042.3 L152.7,1044.5 L154.0,1043.6 L155.6,1042.0 L158.6,1043.1 L159.3,1040.6 L160.3,1038.2 L160.8,1035.8 L161.6,1033.5 L163.2,1035.3 L164.5,1036.4 L166.0,1033.7 L167.5,1031.2 L168.9,1034.1 L170.4,1036.4 L171.4,1034.8 L172.2,1032.2 L173.4,1030.5 L176.3,1029.0 L176.9,1026.6 L177.7,1023.8 L178.5,1020.9 L179.3,1018.7 L180.7,1016.0 L182.3,1014.0 L183.7,1011.3 L185.0,1008.9 L186.1,1007.5 L187.4,1005.1 L189.7,1006.1 L190.1,1008.3 L190.7,1011.3 L191.2,1013.8 L191.7,1016.5 L192.1,1018.7 L192.6,1021.6 L194.9,1023.7 L197.0,1025.3 L200.0,1023.8 L203.0,1022.4 L203.9,1024.7 L205.2,1027.5 L205.5,1029.8 L206.0,1032.7 L206.5,1034.8 L206.9,1037.9 L207.4,1040.1 L208.9,1042.4 L210.4,1045.3 L211.3,1048.1 L212.2,1050.0 L213.3,1052.7 L215.7,1051.9 L218.5,1050.5 L220.4,1051.0 L222.0,1052.0 L222.7,1054.7 L223.7,1057.7 L225.6,1059.7 L227.0,1060.8 L228.9,1062.9 L230.9,1061.2 L232.6,1058.9 L233.6,1060.2 L234.8,1062.2 L235.8,1064.6 L236.5,1066.3 L237.5,1068.8 L238.6,1066.6 L239.8,1063.5 L240.8,1061.8 L242.2,1058.9 L244.6,1061.1 L246.6,1062.9 L248.6,1061.6 L250.3,1060.0 L253.3,1061.4 L256.2,1060.0 L257.8,1061.2 L259.1,1063.1 L260.7,1064.4 L262.4,1062.6 L264.4,1061.4 L266.2,1059.3 L267.9,1057.5 L269.5,1054.8 L271.2,1057.2 L272.5,1059.2 L275.5,1057.7 L276.6,1059.8 L277.5,1062.4 L278.4,1064.4 L280.6,1066.6 L281.8,1064.4 L282.5,1063.0 L283.6,1060.7 L285.6,1062.4 L287.3,1064.4 L289.5,1065.8 L291.7,1066.6 L293.6,1064.0 L295.3,1062.4 L296.9,1060.4 L298.9,1061.4 L300.6,1062.2 L302.7,1060.5 L305.0,1059.2 L308.0,1060.7 L309.1,1059.2 L310.2,1057.0 L311.9,1058.7 L313.9,1060.7 L315.2,1058.8 L316.7,1056.5 L318.3,1054.0 L321.3,1053.3 L322.2,1051.1 L323.2,1049.4 L324.0,1047.1 L325.0,1045.2 L326.9,1047.2 L328.7,1048.9 L329.1,1046.5 L329.9,1044.6 L330.4,1042.4 L330.9,1040.0 L331.6,1037.4 L332.4,1035.6 L333.0,1032.8 L333.7,1031.0 L334.4,1028.5 L335.1,1026.1 L335.6,1023.5 L335.9,1020.5 L336.8,1018.5 L337.3,1015.4 L337.8,1013.1 L340.0,1011.1 L342.1,1008.9 L343.5,1010.9 L344.5,1013.6 L345.7,1014.8 L347.2,1017.4 L349.0,1015.1 L350.6,1012.3 L352.9,1014.2 L354.9,1015.7 L355.8,1017.7 L357.1,1020.5 L358.2,1022.7 L359.1,1025.1 L360.8,1027.0 L362.4,1027.8 L364.2,1029.4 L366.5,1030.8 L368.5,1031.9 L370.2,1033.4 L371.9,1035.3 L373.4,1033.6 L375.3,1031.8 L377.0,1029.4 L379.7,1028.1 L382.2,1027.6 L384.3,1028.3 L386.4,1028.5 L387.7,1030.6 L388.8,1033.4 L389.8,1035.3 L391.2,1032.7 L392.6,1030.9 L394.1,1028.5 L396.2,1028.8 L398.4,1029.4 L400.0,1027.6 L401.2,1025.1 L402.6,1023.4 L404.3,1024.4 L406.1,1025.1 L406.8,1022.7 L407.4,1020.8 L408.0,1018.1 L408.9,1016.4 L409.5,1014.0 L411.1,1012.3 L412.5,1009.1 L414.0,1008.3 L415.4,1005.5 L417.4,1003.2 L419.7,1001.2 L421.5,1002.4 L423.1,1002.9 L424.1,1000.5 L425.1,997.5 L426.5,995.1 L427.4,992.7 L428.7,990.0 L430.0,988.5 L431.4,986.5 L432.9,983.6 L434.2,981.6 L436.3,981.0 L438.5,979.9 L439.7,977.0 L440.9,975.7 L442.2,973.0 L443.5,970.8 L444.5,968.8 L445.9,965.9 L447.4,964.6 L449.0,961.5 L450.4,959.4 L452.7,958.8 L454.7,957.7 L456.5,955.8 L458.8,955.4 L460.7,953.4 L462.0,954.8 L463.4,957.1 L464.9,958.5 L465.8,960.4 L466.9,963.7 L468.0,965.3 L469.0,968.3 L470.1,970.5 L471.4,972.5 L472.6,975.4 L473.7,977.1 L475.0,979.9 L476.5,979.5 L477.3,977.3 L478.1,974.3 L479.0,972.8 L479.9,969.6 L480.4,967.6 L481.5,964.7 L482.2,962.5 L482.3,960.3 L482.6,957.8 L482.7,954.9 L482.9,952.7 L483.2,950.0 L483.4,947.2 L483.4,945.3 L483.8,942.3 L483.9,940.3 L484.0,937.5 L484.2,935.4 L484.3,932.5 L484.3,930.4 L484.6,927.4 L485.0,925.1 L485.0,922.7 L485.2,920.3 L485.2,917.6 L485.7,915.3 L485.8,912.8 L485.9,910.5 L486.1,907.5 L486.4,904.8 L486.5,902.8 L486.4,900.0 L486.6,897.8 L486.9,894.9 L487.0,892.8 L487.2,889.9 L487.5,887.4 L487.6,885.3 L487.5,882.4 L487.9,880.0 L488.0,877.7 L488.3,874.9 L488.5,872.6 L488.7,869.8 L488.9,867.7 L489.3,865.0 L490.3,867.2 L491.1,869.7 L492.0,872.0 L492.6,874.4 L493.3,876.2 L494.0,878.8 L494.8,880.7 L495.8,883.4 L496.4,885.5 L497.2,882.7 L498.1,880.6 L499.0,878.0 L500.2,875.3 L500.9,873.2 L502.1,870.7 L502.6,872.9 L503.7,875.5 L504.3,878.0 L505.0,880.0 L505.7,882.6 L506.2,884.6 L506.6,888.0 L507.2,889.9 L507.9,892.8 L508.4,894.8 L509.1,898.0 L509.3,899.9 L510.0,902.8 L510.1,905.6 L510.5,908.0 L510.7,911.1 L510.7,913.5 L511.1,916.4 L512.0,919.1 L513.0,921.2 L513.9,923.8 L514.6,926.6 L515.1,928.8 L515.3,931.6 L515.7,934.1 L516.1,936.0 L516.5,938.8 L517.2,941.1 L517.8,943.7 L518.0,946.0 L518.7,948.0 L519.6,950.8 L520.1,952.7 L520.8,955.0 L521.6,957.0 L522.5,959.6 L523.1,962.2 L523.9,964.8 L524.6,966.7 L525.1,969.5 L525.8,972.2 L526.5,974.0 L527.1,976.7 L528.6,978.6 L530.5,980.1 L531.2,982.1 L532.3,984.9 L533.1,986.8 L534.0,989.0 L535.0,991.5 L536.1,994.1 L537.6,996.8 L538.8,999.1 L540.0,999.8 L541.3,1002.9 L543.5,1003.5 L545.3,1004.6 L546.8,1007.0 L548.2,1009.1 L549.8,1010.8 L551.0,1012.4 L552.5,1014.9 L553.8,1016.5 L556.6,1017.7 L558.0,1019.4 L559.1,1022.1 L560.4,1023.5 L561.8,1025.6 L564.6,1026.8 L565.6,1024.7 L566.7,1022.2 L567.8,1020.0 L568.6,1018.2 L570.0,1019.9 L571.6,1021.0 L573.1,1022.8 L575.0,1024.7 L576.7,1025.7 L578.3,1027.9 L580.0,1028.9 L581.3,1031.3 L582.6,1032.3 L584.0,1034.7 L585.5,1036.4 L586.6,1038.4 L587.7,1040.5 L588.4,1043.2 L589.6,1045.3 L593.0,1045.9 L594.1,1048.0 L595.2,1050.5 L596.6,1052.3 L597.7,1054.8 L599.8,1052.1 L600.6,1054.9 L601.9,1056.9 L602.8,1059.6 L603.9,1062.3 L605.1,1064.8 L606.2,1067.0 L607.3,1069.1 L610.0,1070.5 L610.8,1072.6 L612.2,1075.1 L613.2,1078.0 L614.1,1080.1 L615.2,1081.7 L616.2,1084.0 L617.5,1085.5 L619.3,1086.7 L621.0,1087.6 L622.3,1089.0 L623.7,1091.0 L625.0,1093.8 L626.0,1096.1 L627.1,1098.9 L629.3,1096.3 L631.2,1094.4 L631.6,1092.3 L632.3,1089.6 L633.0,1087.5 L633.3,1084.9 L633.9,1082.8 L634.4,1080.2 L634.7,1078.2 L634.9,1075.6 L635.3,1073.8 L635.4,1070.9 L635.6,1069.1 L636.0,1066.4 L636.2,1063.5 L636.5,1061.3 L636.8,1058.6 L637.0,1055.2 L637.3,1052.8 L638.4,1051.2 L639.7,1049.0 L640.8,1047.3 L642.2,1045.0 L643.0,1042.9 L644.4,1040.0 L645.5,1037.7 L646.5,1035.1 L647.5,1032.0 L648.3,1029.6 L648.9,1027.4 L649.0,1024.6 L649.5,1022.2 L649.9,1020.1 L650.3,1017.6 L651.1,1015.4 L651.3,1012.6 L652.0,1010.0 L652.9,1008.2 L653.5,1005.5 L654.4,1003.8 L655.1,1001.3 L655.9,1003.6 L656.6,1006.0 L657.6,1008.8 L660.2,1009.3 L662.6,1010.1 L665.2,1010.5 L667.6,1011.3 L670.7,1009.5 L671.7,1011.9 L672.9,1014.5 L673.8,1016.1 L675.1,1018.8 L676.3,1021.4 L677.3,1023.3 L678.2,1025.7 L681.4,1023.9 L682.6,1025.9 L683.8,1027.4 L685.1,1029.5 L686.4,1031.5 L688.0,1032.8 L689.2,1035.0 L692.0,1035.0 L692.7,1035.0 L694.7,1036.2 L696.4,1037.8 L697.8,1035.6 L699.5,1033.7 L700.9,1031.4 L702.0,1033.2 L703.4,1035.9 L704.6,1037.8 L707.3,1037.8 L709.3,1040.3 L710.9,1042.3 L713.7,1042.6 L716.4,1043.2 L717.7,1041.1 L718.9,1038.1 L720.0,1035.9 L721.8,1034.2 L723.7,1032.7 L725.2,1034.4 L726.4,1035.6 L727.9,1033.6 L729.2,1030.7 L730.6,1029.3 L731.9,1026.5 L733.6,1028.5 L735.5,1031.2 L737.3,1033.2 L739.5,1031.7 L741.9,1030.5 L744.6,1030.1 L746.4,1029.6 L748.2,1028.3 L750.1,1029.7 L752.0,1031.8 L753.7,1034.1 L755.8,1036.3 L758.3,1037.8 L760.5,1037.0 L762.8,1036.9 L765.0,1038.1 L767.4,1038.7 L768.4,1040.7 L769.5,1043.1 L770.7,1044.7 L771.9,1046.9 L773.1,1049.6 L774.3,1051.6 L775.5,1054.1 L776.8,1055.8 L778.1,1058.1 L779.2,1059.6 L781.3,1060.5 L783.7,1061.8 L784.8,1059.6 L785.5,1056.4 L786.5,1054.1 L787.1,1051.6 L787.9,1049.6 L788.5,1047.5 L789.2,1045.0 L790.9,1043.9 L792.8,1043.2 L795.6,1045.4 L796.1,1042.9 L796.7,1040.4 L797.1,1038.6 L797.7,1035.6 L798.3,1033.8 L798.8,1031.2 L799.2,1028.7 L800.1,1026.1 L801.1,1024.0 L801.9,1021.4 L803.9,1019.2 L805.6,1016.8 L807.8,1017.4 L810.1,1017.7 L812.7,1018.3 L815.6,1019.6 L817.6,1018.6 L819.2,1016.2 L821.1,1015.0 L823.3,1016.1 L825.6,1016.8 L827.3,1014.4 L829.2,1012.3 L831.5,1013.3 L833.8,1013.7 L836.1,1014.7 L838.3,1015.9 L839.6,1017.9 L840.7,1019.3 L842.0,1021.4 L844.3,1023.4 L846.5,1025.0" fill="none" stroke="#1ed21e" stroke-width="1.9" stroke-linejoin="round"/>
<path d="M99.4,1098.0 L101.7,1099.0 L103.0,1101.4 L104.6,1104.2 L107.6,1102.0 L110.5,1102.7 L113.5,1101.3 L114.3,1103.7 L115.6,1106.0 L116.4,1107.9 L118.7,1105.7 L119.7,1103.3 L120.5,1101.4 L121.6,1099.0 L123.2,1100.8 L124.6,1102.0 L126.3,1104.4 L128.3,1106.4 L129.6,1108.5 L130.6,1111.1 L132.0,1113.8 L133.0,1111.7 L133.8,1109.0 L134.9,1107.2 L135.9,1104.6 L136.9,1101.9 L137.9,1099.8 L139.4,1101.3 L140.8,1103.4 L142.3,1105.0 L145.3,1103.5 L148.2,1101.3 L150.2,1102.3 L151.9,1103.5 L153.8,1102.2 L155.6,1100.5 L157.4,1102.2 L159.3,1104.2 L160.7,1101.4 L162.3,1099.0 L163.9,1101.8 L165.3,1104.2 L167.2,1102.9 L169.0,1102.0 L171.9,1101.3 L173.6,1099.8 L174.9,1098.0 L177.1,1100.5 L178.4,1098.0 L180.0,1096.1 L181.7,1096.6 L183.7,1096.8 L186.7,1095.4 L187.4,1097.5 L188.4,1100.2 L189.1,1101.9 L189.7,1104.2 L190.9,1106.5 L191.8,1107.9 L192.6,1110.1 L194.4,1110.4 L196.3,1110.9 L198.0,1112.5 L200.0,1113.8 L202.1,1115.4 L204.4,1116.8 L205.3,1118.7 L206.3,1121.4 L207.4,1123.5 L208.4,1125.8 L209.3,1127.4 L210.4,1129.8 L211.5,1131.2 L212.6,1133.8 L213.8,1132.4 L215.3,1130.1 L216.3,1128.6 L218.1,1131.1 L220.0,1133.4 L222.2,1135.3 L224.7,1133.1 L227.4,1131.9 L229.2,1132.6 L231.1,1133.4 L232.8,1132.8 L234.8,1131.9 L235.9,1133.8 L236.9,1136.1 L237.7,1137.9 L239.2,1135.8 L240.8,1132.7 L242.2,1130.5 L244.2,1132.5 L246.6,1134.2 L248.7,1135.8 L250.6,1135.5 L252.5,1137.1 L254.5,1136.2 L256.2,1134.9 L258.1,1134.0 L259.9,1133.4 L262.2,1131.9 L265.1,1134.2 L267.0,1132.3 L268.8,1130.3 L270.3,1129.0 L273.2,1130.5 L275.6,1132.1 L277.7,1133.4 L279.2,1132.2 L280.6,1130.9 L283.6,1130.9 L285.2,1133.0 L286.6,1135.6 L287.5,1133.4 L288.2,1130.8 L288.7,1128.2 L289.7,1126.4 L290.3,1123.8 L293.2,1124.5 L294.6,1123.5 L296.2,1122.0 L298.2,1121.1 L299.9,1120.8 L301.4,1122.7 L302.8,1124.5 L304.7,1122.1 L306.5,1120.1 L308.3,1118.0 L310.1,1116.5 L311.7,1114.2 L314.0,1112.2 L316.1,1112.2 L318.3,1110.5 L319.5,1108.4 L321.0,1106.7 L322.0,1104.6 L324.3,1102.8 L326.5,1101.6 L327.2,1099.7 L327.8,1096.8 L328.6,1095.3 L329.6,1092.6 L330.2,1090.5 L331.9,1089.6 L333.9,1089.0 L335.3,1087.0 L336.8,1084.6 L340.0,1083.7 L341.8,1085.5 L343.4,1087.1 L346.8,1087.1 L348.5,1088.3 L350.2,1089.9 L353.1,1091.0 L354.8,1093.7 L356.5,1096.2 L357.8,1093.2 L358.8,1090.5 L360.1,1092.8 L361.1,1094.5 L362.2,1096.7 L364.5,1094.5 L366.0,1095.9 L367.6,1098.2 L369.0,1099.6 L370.0,1097.5 L370.9,1095.9 L371.8,1093.5 L373.0,1091.6 L374.3,1093.8 L375.8,1096.7 L378.1,1096.2 L380.4,1098.4 L383.2,1099.0 L385.5,1097.3 L386.5,1095.4 L387.3,1092.9 L388.4,1090.7 L389.5,1088.8 L390.8,1091.1 L392.3,1093.3 L394.2,1091.3 L395.7,1089.9 L398.0,1087.1 L399.7,1088.8 L401.2,1086.0 L402.4,1084.1 L403.7,1081.4 L405.0,1079.0 L405.8,1076.9 L407.1,1075.1 L409.7,1074.9 L412.2,1074.0 L413.6,1072.4 L415.1,1070.0 L416.8,1068.4 L419.0,1065.4 L421.0,1065.4 L423.2,1061.7 L425.3,1061.3 L426.7,1060.0 L427.7,1057.3 L428.8,1055.1 L429.8,1054.3 L431.0,1050.9 L432.1,1048.9 L433.3,1048.3 L434.2,1045.0 L435.9,1043.7 L437.5,1040.6 L439.5,1038.0 L440.9,1037.8 L442.7,1035.3 L444.3,1034.1 L446.2,1031.4 L447.9,1030.2 L449.6,1027.8 L451.3,1025.1 L451.9,1022.7 L452.8,1020.9 L453.8,1018.3 L456.6,1018.7 L459.0,1020.0 L460.8,1022.9 L462.4,1025.1 L463.3,1027.3 L464.2,1028.9 L464.9,1031.1 L467.4,1031.1 L470.1,1030.2 L472.4,1031.7 L475.0,1033.6 L475.6,1030.8 L476.6,1028.9 L477.1,1026.0 L477.7,1023.0 L478.5,1021.8 L479.2,1019.1 L480.2,1015.9 L480.8,1013.7 L481.5,1010.6 L482.1,1008.4 L482.6,1005.9 L483.0,1004.8 L483.6,1000.8 L483.9,999.8 L484.7,996.1 L485.3,995.0 L485.8,991.2 L486.4,988.9 L486.8,987.7 L487.3,984.7 L488.8,986.8 L490.4,987.6 L491.8,990.6 L493.6,990.9 L495.0,993.8 L495.9,997.3 L497.1,998.3 L498.2,1001.1 L499.3,1002.0 L500.2,1005.1 L501.5,1007.7 L502.4,1007.7 L503.5,1010.8 L504.1,1013.8 L505.0,1015.3 L505.6,1018.4 L506.0,1020.3 L507.0,1022.6 L507.4,1025.6 L508.1,1028.0 L508.8,1030.0 L509.4,1032.2 L509.8,1034.9 L510.6,1036.7 L510.9,1039.0 L511.8,1041.6 L512.1,1043.7 L512.7,1045.9 L513.6,1047.6 L514.6,1050.0 L515.0,1052.7 L515.9,1054.6 L516.3,1057.4 L516.9,1059.3 L517.3,1061.8 L518.2,1064.5 L519.3,1066.6 L520.5,1069.1 L523.2,1068.7 L525.2,1070.6 L527.3,1071.8 L528.8,1073.8 L530.3,1077.1 L531.9,1079.1 L532.9,1081.9 L533.9,1083.7 L534.6,1086.4 L535.6,1088.6 L536.3,1090.4 L537.3,1092.8 L540.0,1091.0 L541.2,1093.7 L542.4,1095.6 L543.3,1098.6 L544.6,1100.9 L546.6,1101.2 L548.6,1101.7 L549.9,1104.0 L551.4,1105.8 L552.6,1108.0 L555.7,1106.4 L558.3,1107.8 L560.5,1108.8 L563.7,1110.4 L564.8,1108.5 L566.1,1107.2 L567.9,1109.0 L569.3,1110.4 L570.8,1108.1 L572.5,1106.4 L573.3,1109.0 L574.4,1111.0 L575.2,1113.9 L576.4,1116.0 L577.6,1117.9 L578.8,1120.4 L580.2,1121.7 L581.2,1124.0 L583.6,1124.3 L586.0,1124.0 L588.0,1125.2 L589.9,1126.8 L591.6,1127.9 L593.1,1129.6 L594.7,1132.0 L596.4,1133.5 L599.1,1133.4 L601.9,1134.3 L604.2,1136.4 L606.1,1136.4 L608.3,1138.3 L610.4,1140.7 L612.6,1141.2 L614.7,1143.1 L616.7,1143.1 L618.6,1143.9 L620.7,1145.4 L622.6,1146.3 L623.4,1143.6 L624.1,1142.1 L624.7,1139.3 L625.3,1137.6 L626.0,1134.7 L626.9,1133.0 L627.4,1130.3 L629.0,1127.9 L630.6,1125.6 L631.7,1123.8 L632.5,1121.0 L633.6,1119.1 L634.6,1117.0 L635.4,1114.4 L636.4,1111.7 L636.9,1109.6 L637.9,1107.6 L638.7,1105.0 L640.6,1103.0 L642.4,1102.4 L644.2,1100.5 L645.9,1098.7 L647.8,1099.1 L649.8,1096.5 L651.7,1095.8 L653.9,1097.5 L656.5,1098.5 L659.0,1097.0 L661.2,1095.8 L663.6,1097.4 L666.0,1098.5 L668.0,1097.8 L670.1,1097.8 L671.0,1100.0 L671.8,1101.7 L672.8,1104.0 L675.0,1103.9 L677.0,1104.6 L679.0,1104.9 L680.5,1106.1 L682.4,1108.7 L684.0,1109.9 L685.9,1110.2 L687.9,1110.9 L688.8,1114.0 L689.9,1116.8 L691.9,1115.9 L693.9,1115.4 L695.5,1116.8 L696.9,1117.8 L699.0,1116.0 L700.9,1113.8 L701.8,1115.9 L702.7,1117.9 L703.7,1120.1 L704.9,1121.8 L706.7,1121.7 L708.8,1121.8 L710.8,1120.7 L712.8,1119.8 L714.2,1118.3 L715.6,1116.4 L716.8,1114.8 L719.1,1114.3 L721.8,1112.8 L723.9,1114.6 L725.8,1116.8 L727.7,1117.6 L729.7,1118.8 L732.7,1120.8 L734.5,1120.0 L736.7,1118.8 L739.2,1118.5 L741.7,1118.8 L743.0,1120.2 L744.2,1122.3 L745.7,1123.8 L747.2,1121.6 L749.0,1120.2 L750.7,1117.8 L752.8,1119.6 L754.6,1121.8 L756.8,1121.5 L758.6,1120.8 L760.1,1122.6 L762.1,1123.9 L763.6,1124.8 L765.6,1126.5 L767.6,1128.8 L769.3,1126.8 L770.8,1125.2 L772.6,1123.8 L774.2,1126.1 L775.5,1127.8 L777.1,1129.5 L778.9,1131.4 L780.0,1129.2 L780.7,1126.3 L781.7,1124.3 L782.5,1121.8 L784.6,1120.1 L786.5,1118.8 L787.7,1116.9 L789.1,1114.5 L790.5,1112.8 L792.6,1111.7 L794.5,1109.9 L795.6,1107.5 L796.4,1105.9 L799.0,1104.2 L801.4,1102.9 L803.2,1102.0 L804.8,1100.6 L806.4,1098.9 L808.4,1096.8 L810.4,1094.9 L811.8,1093.0 L813.4,1090.9 L815.2,1092.8 L816.7,1094.3 L817.5,1096.4 L818.1,1099.4 L818.6,1101.4 L819.3,1103.9 L820.3,1101.9 L821.2,1098.9 L822.3,1096.9 L824.3,1096.3 L826.3,1095.5 L828.5,1095.1 L830.8,1097.0 L833.3,1096.9 L835.0,1098.3 L836.7,1100.5 L838.2,1101.9 L840.0,1101.2 L842.2,1100.9 L845.2,1098.9 L846.8,1099.9" fill="none" stroke="#c40c0c" stroke-width="1.9" stroke-linejoin="round"/>
<path d="M99.4,1168.8 L101.3,1169.6 L103.1,1171.1 L104.7,1168.9 L106.1,1167.4 L108.3,1167.4 L110.5,1164.4 L112.7,1165.9 L114.2,1165.0 L115.7,1163.4 L117.9,1165.9 L119.6,1168.4 L120.9,1171.1 L122.6,1169.1 L124.6,1166.6 L126.3,1165.9 L128.3,1165.4 L131.2,1167.4 L134.2,1167.4 L136.4,1169.3 L139.4,1168.1 L142.3,1166.6 L144.3,1167.5 L146.0,1167.8 L147.2,1165.6 L148.2,1163.7 L151.2,1161.9 L152.5,1164.4 L154.0,1167.0 L155.6,1169.3 L157.2,1168.1 L158.6,1166.6 L160.1,1164.7 L161.6,1162.2 L164.5,1161.4 L166.2,1159.9 L167.5,1158.9 L169.0,1157.7 L170.1,1155.5 L170.7,1153.8 L171.6,1151.4 L172.6,1149.6 L174.5,1150.9 L176.3,1151.8 L178.3,1150.5 L180.0,1149.6 L181.8,1152.1 L183.7,1154.0 L185.4,1155.9 L186.8,1158.1 L188.2,1160.0 L189.6,1162.2 L191.0,1165.1 L192.6,1167.4 L195.6,1166.6 L196.9,1169.5 L198.5,1171.8 L200.7,1170.3 L202.1,1172.7 L203.2,1174.5 L204.4,1177.0 L206.0,1179.2 L207.4,1180.7 L209.4,1179.2 L211.8,1177.0 L214.1,1179.9 L217.0,1179.2 L218.4,1181.1 L220.0,1183.6 L222.2,1183.7 L223.5,1185.1 L225.0,1187.3 L227.4,1188.3 L228.4,1186.9 L229.6,1185.2 L231.8,1187.2 L233.1,1185.8 L234.8,1184.6 L236.4,1186.7 L237.7,1188.6 L239.4,1190.6 L240.7,1193.1 L242.1,1191.1 L243.7,1188.6 L245.9,1189.4 L247.0,1188.0 L248.1,1186.1 L249.3,1187.8 L250.2,1189.9 L251.1,1191.6 L252.7,1189.6 L254.0,1188.2 L256.2,1188.6 L257.2,1186.3 L258.5,1183.5 L261.1,1181.2 L261.9,1183.3 L262.5,1186.0 L263.0,1188.1 L263.6,1190.1 L265.4,1190.3 L267.3,1190.8 L270.3,1192.0 L272.5,1190.1 L274.2,1192.5 L276.2,1194.5 L277.4,1192.6 L278.1,1190.0 L279.2,1187.9 L280.8,1186.1 L282.1,1183.7 L285.1,1182.7 L288.0,1184.9 L289.6,1186.1 L291.1,1188.2 L292.5,1189.4 L294.8,1190.1 L296.9,1191.1 L298.9,1190.1 L300.6,1188.6 L304.3,1188.2 L306.5,1189.4 L307.8,1186.5 L308.7,1184.2 L310.4,1185.8 L312.4,1186.9 L313.5,1184.6 L314.5,1182.3 L315.4,1180.5 L318.3,1179.8 L319.1,1177.6 L319.8,1175.2 L320.6,1172.4 L322.5,1170.5 L324.3,1167.9 L325.8,1166.7 L327.2,1165.0 L328.3,1162.4 L329.3,1160.8 L330.2,1158.3 L331.9,1156.5 L333.9,1155.4 L336.8,1155.6 L339.5,1154.2 L340.8,1157.2 L342.0,1159.8 L343.1,1161.6 L343.8,1164.1 L345.0,1166.1 L346.8,1168.2 L348.5,1170.5 L350.8,1172.4 L352.9,1174.1 L355.0,1174.9 L357.3,1175.8 L359.0,1174.3 L360.9,1172.6 L362.0,1174.9 L363.5,1177.6 L364.2,1180.1 L365.0,1181.9 L365.4,1184.4 L366.2,1186.4 L368.1,1185.3 L369.7,1184.6 L371.0,1182.5 L372.3,1180.2 L374.0,1178.7 L375.9,1177.6 L378.5,1178.5 L381.1,1175.8 L383.9,1175.5 L386.4,1175.8 L388.3,1177.8 L390.0,1180.2 L390.9,1178.2 L391.9,1176.1 L392.8,1173.5 L393.5,1171.4 L395.3,1169.9 L397.0,1167.9 L398.8,1169.3 L400.5,1171.4 L401.6,1169.6 L402.9,1167.3 L404.0,1165.2 L405.0,1163.5 L406.5,1161.8 L407.5,1159.0 L408.8,1157.8 L410.2,1155.5 L412.5,1157.3 L414.7,1159.6 L416.3,1158.3 L417.6,1156.2 L419.1,1154.7 L420.2,1152.3 L421.0,1151.3 L422.2,1148.1 L423.2,1147.0 L424.3,1144.0 L425.2,1142.3 L427.8,1143.0 L430.5,1143.2 L431.4,1140.5 L432.3,1138.8 L433.1,1135.6 L434.1,1133.9 L434.9,1132.4 L435.9,1129.1 L436.7,1127.3 L438.0,1124.6 L439.2,1122.2 L440.5,1119.5 L442.0,1117.6 L444.2,1117.8 L446.4,1117.6 L447.9,1115.2 L449.1,1113.5 L450.2,1110.6 L451.7,1108.8 L453.7,1109.4 L456.1,1110.2 L458.2,1110.5 L460.0,1111.4 L461.9,1109.5 L463.6,1106.9 L465.9,1108.7 L467.0,1106.5 L467.9,1104.4 L469.1,1101.9 L470.1,1099.7 L471.1,1097.2 L471.8,1095.0 L473.1,1093.2 L474.4,1091.0 L475.9,1089.1 L476.6,1086.9 L477.7,1084.6 L478.1,1082.0 L478.4,1080.2 L478.7,1077.4 L479.1,1075.5 L479.5,1073.4 L480.4,1070.4 L480.9,1068.2 L482.1,1065.6 L483.2,1063.6 L485.5,1064.6 L487.3,1065.4 L489.1,1065.9 L491.0,1064.9 L492.8,1064.1 L495.0,1066.8 L495.9,1069.1 L496.9,1070.9 L497.6,1072.8 L498.2,1075.3 L498.7,1077.3 L500.0,1076.2 L501.2,1078.0 L502.4,1079.9 L503.4,1082.5 L504.8,1084.1 L505.3,1086.1 L506.0,1089.0 L506.9,1091.6 L507.5,1093.5 L508.1,1096.4 L508.8,1098.5 L509.8,1101.0 L510.9,1103.5 L511.9,1106.4 L513.9,1108.4 L515.7,1109.1 L517.5,1111.2 L518.9,1112.9 L520.5,1114.0 L522.3,1116.0 L523.5,1118.2 L524.6,1120.0 L525.5,1122.4 L527.5,1121.7 L529.5,1120.8 L530.7,1122.7 L532.3,1125.1 L533.4,1127.1 L534.5,1129.2 L535.7,1131.8 L537.2,1133.5 L538.2,1135.9 L540.7,1137.6 L543.0,1139.9 L545.2,1140.0 L547.0,1139.9 L548.1,1141.6 L549.4,1143.9 L552.6,1142.3 L554.0,1144.4 L555.7,1146.3 L558.0,1145.8 L560.5,1145.5 L563.1,1147.3 L565.3,1148.6 L568.0,1151.1 L570.7,1152.0 L573.5,1153.5 L575.2,1156.0 L576.7,1158.3 L579.9,1156.7 L581.3,1158.2 L582.5,1160.8 L583.9,1162.3 L585.3,1164.1 L586.9,1166.9 L588.7,1168.7 L590.7,1170.1 L592.6,1171.1 L594.4,1171.9 L596.6,1173.4 L598.8,1175.9 L600.6,1178.2 L602.4,1178.4 L604.6,1179.0 L606.1,1180.4 L607.8,1181.4 L609.0,1183.7 L610.3,1186.0 L611.8,1188.6 L613.8,1187.5 L615.7,1186.2 L618.1,1187.8 L619.0,1189.4 L620.3,1191.2 L621.3,1193.4 L622.4,1191.8 L624.0,1189.5 L625.3,1187.8 L627.0,1185.8 L628.5,1182.6 L630.1,1180.6 L630.9,1178.4 L632.1,1175.5 L632.8,1173.6 L633.8,1170.8 L634.9,1168.7 L636.3,1167.6 L638.0,1166.3 L640.4,1167.1 L641.0,1164.3 L641.9,1161.9 L642.8,1159.1 L644.7,1160.8 L646.8,1163.1 L649.0,1163.0 L650.8,1162.3 L652.2,1164.2 L653.5,1166.2 L654.8,1168.7 L656.4,1166.5 L657.9,1163.9 L659.5,1165.6 L661.1,1167.1 L663.4,1165.3 L665.9,1163.9 L669.1,1163.9 L671.0,1166.4 L673.1,1168.7 L676.3,1170.3 L677.6,1172.1 L678.8,1174.1 L680.2,1175.8 L683.2,1175.0 L685.8,1173.4 L687.8,1175.6 L689.8,1178.2 L691.6,1178.1 L693.8,1177.4 L695.0,1176.7 L696.8,1178.2 L698.5,1179.4 L700.6,1177.8 L702.9,1176.7 L704.9,1178.4 L706.5,1179.4 L709.1,1178.5 L710.8,1180.6 L712.6,1183.4 L715.3,1181.7 L717.9,1184.1 L719.7,1183.7 L721.5,1182.9 L723.4,1183.6 L725.0,1184.7 L726.8,1185.9 L728.5,1187.3 L729.6,1185.4 L730.6,1183.5 L732.0,1182.0 L735.6,1182.0 L736.6,1184.4 L737.3,1186.3 L738.2,1188.9 L739.1,1190.8 L740.8,1191.4 L742.6,1192.3 L745.3,1191.2 L746.7,1189.1 L747.9,1187.7 L749.6,1189.4 L751.4,1190.8 L752.9,1193.3 L754.2,1195.2 L755.8,1197.9 L758.3,1196.5 L761.1,1196.1 L762.4,1198.8 L763.6,1200.6 L764.7,1203.2 L766.5,1202.8 L768.2,1201.8 L769.3,1203.4 L770.5,1205.5 L771.7,1207.1 L773.2,1205.3 L774.8,1203.5 L776.1,1202.3 L777.3,1199.9 L778.4,1196.8 L779.6,1194.4 L780.5,1191.9 L781.4,1189.1 L783.4,1188.0 L785.8,1187.3 L787.1,1185.8 L788.3,1183.6 L789.3,1182.0 L790.3,1180.5 L791.9,1178.1 L792.9,1176.7 L794.5,1175.0 L795.7,1172.4 L797.3,1170.6 L798.9,1169.3 L800.8,1168.8 L803.0,1168.0 L805.2,1167.0 L807.3,1165.4 L809.6,1164.4 L812.4,1162.4 L814.9,1161.2 L816.9,1163.1 L819.3,1164.4 L821.1,1163.5 L822.3,1165.2 L823.2,1167.1 L824.4,1169.5 L825.5,1171.1 L826.9,1168.6 L828.0,1167.4 L829.6,1165.5 L830.8,1163.0 L833.4,1164.0 L836.1,1165.8 L838.7,1166.6 L841.4,1167.9 L844.3,1168.1 L846.8,1167.9" fill="none" stroke="#080808" stroke-width="1.9" stroke-linejoin="round"/>
<path d="M749.0,975.0 L752.0,975.3 L761.2,973.8 L773.5,976.9 L776.0,975.0" fill="none" stroke="#1010b0" stroke-width="2.1"/>
<path d="M193.8,917.1 L193.8,925.5 M190.2,919.2 L197.4,923.4 M197.4,919.2 L190.2,923.4 " stroke="#1010b0" stroke-width="2" fill="none"/>
<ellipse cx="208.0" cy="923.5" rx="3.85" ry="4.1" fill="none" stroke="#1010b0" stroke-width="1.75"/>
<path d="M339.5,914.3 L339.5,922.7 M335.9,916.4 L343.1,920.6 M343.1,916.4 L335.9,920.6 " stroke="#1010b0" stroke-width="2" fill="none"/>
<ellipse cx="356.2" cy="917.0" rx="3.85" ry="4.1" fill="none" stroke="#1010b0" stroke-width="1.75"/>
<path d="M639.0,946.3 L639.0,954.7 M635.4,948.4 L642.6,952.6 M642.6,948.4 L635.4,952.6 " stroke="#1010b0" stroke-width="2" fill="none"/>
<ellipse cx="652.3" cy="937.3" rx="3.85" ry="4.1" fill="none" stroke="#1010b0" stroke-width="1.75"/>
<text transform="translate(433.58,699.30) scale(1.0858,1)" font-size="18.70" fill="#111">CH</text>
<text transform="translate(461.19,704.60) scale(1.2806,1)" font-size="12.70" fill="#111">2</text>
<text transform="translate(468.49,699.40) scale(1.0762,1)" font-size="18.70" fill="#111">-3</text>
<text transform="translate(495.01,706.00) scale(1.0461,1)" font-size="18.90" fill="#111">CH</text>
<text transform="translate(521.71,711.20) scale(1.4129,1)" font-size="12.60" fill="#111">2</text>
<text transform="translate(529.73,706.10) scale(1.1381,1)" font-size="18.90" fill="#111">-2</text>
<text transform="translate(535.22,745.00) scale(0.9722,1)" font-size="20.10" fill="#111">CH</text>
<text transform="translate(563.17,749.70) scale(1.1073,1)" font-size="13.10" fill="#111">2</text>
<g transform="translate(569.45,745.10) scale(1.1591,1)" fill="#111"><text font-size="20.10">-&#8199;</text><path transform="scale(20.100)" d="M0.6180 -0.505H0.4610V-0.568Q0.5630 -0.581 0.5940 -0.604Q0.6250 -0.627 0.6480 -0.709H0.7060V0H0.6180Z"/></g>
<line x1="453.1" y1="704.6" x2="453.1" y2="721.7" stroke="#111" stroke-width="1.6"/><path d="M453.1,729.7 L450.1,719.7 L456.1,719.7 Z" fill="#111"/>
<line x1="497.5" y1="707.5" x2="497.5" y2="724.0" stroke="#111" stroke-width="1.6"/><path d="M497.5,732.0 L494.5,722.0 L500.5,722.0 Z" fill="#111"/>
<line x1="532.1" y1="735.9" x2="518.4" y2="749.6" stroke="#111" stroke-width="1.6"/><path d="M512.7,755.3 L517.6,746.1 L521.9,750.4 Z" fill="#111"/>
<rect x="707.3" y="824.6" width="137.9" height="150" fill="#fff" stroke="#1c1c1c" stroke-width="1.5"/>
<line x1="716.8" y1="846.0" x2="767.4" y2="846.0" stroke="#5a0c66" stroke-width="1.8"/>
<text transform="translate(766.61,852.30) scale(1.0000,1)" font-size="21.00" fill="#111">:</text>
<text transform="translate(778.34,852.30) scale(1.0286,1)" font-size="21.00" fill="#111">350 K</text>
<line x1="716.8" y1="873.0" x2="767.4" y2="873.0" stroke="#1010b0" stroke-width="1.8"/>
<text transform="translate(766.61,879.25) scale(1.0000,1)" font-size="21.00" fill="#111">:</text>
<text transform="translate(778.34,879.25) scale(1.0286,1)" font-size="21.00" fill="#111">300 K</text>
<line x1="716.8" y1="899.9" x2="767.4" y2="899.9" stroke="#1ed21e" stroke-width="1.8"/>
<text transform="translate(766.61,906.20) scale(1.0000,1)" font-size="21.00" fill="#111">:</text>
<text transform="translate(778.12,906.20) scale(1.0327,1)" font-size="21.00" fill="#111">290 K</text>
<line x1="716.8" y1="926.9" x2="767.4" y2="926.9" stroke="#c40c0c" stroke-width="1.8"/>
<text transform="translate(766.61,933.15) scale(1.0000,1)" font-size="21.00" fill="#111">:</text>
<text transform="translate(778.12,933.15) scale(1.0327,1)" font-size="21.00" fill="#111">280 K</text>
<line x1="716.8" y1="953.8" x2="767.4" y2="953.8" stroke="#080808" stroke-width="1.8"/>
<text transform="translate(766.61,960.10) scale(1.0000,1)" font-size="21.00" fill="#111">:</text>
<text transform="translate(778.12,960.10) scale(1.0327,1)" font-size="21.00" fill="#111">250 K</text>
<path d="M845.7,856.8 L847.0,857.0" fill="none" stroke="#5a0c66" stroke-width="2.1"/>
<path d="M845.5,950.0 L847.0,953.7" fill="none" stroke="#1010b0" stroke-width="2.1"/>
<line x1="98.1" y1="1236.4" x2="848" y2="1236.4" stroke="#1c1c1c" stroke-width="2"/>
<line x1="99.1" y1="1236" x2="99.1" y2="1248.4" stroke="#1c1c1c" stroke-width="2"/>
<text transform="translate(78.80,1274.40) scale(1.0400,1)" font-size="23.40" fill="#111">350</text>
<line x1="173.8" y1="1236" x2="173.8" y2="1248.4" stroke="#1c1c1c" stroke-width="2"/>
<text transform="translate(153.49,1274.40) scale(1.0400,1)" font-size="23.40" fill="#111">300</text>
<line x1="248.5" y1="1236" x2="248.5" y2="1248.4" stroke="#1c1c1c" stroke-width="2"/>
<text transform="translate(228.18,1274.40) scale(1.0400,1)" font-size="23.40" fill="#111">250</text>
<line x1="323.2" y1="1236" x2="323.2" y2="1248.4" stroke="#1c1c1c" stroke-width="2"/>
<text transform="translate(302.87,1274.40) scale(1.0400,1)" font-size="23.40" fill="#111">200</text>
<line x1="397.9" y1="1236" x2="397.9" y2="1248.4" stroke="#1c1c1c" stroke-width="2"/>
<g transform="translate(377.56,1274.40) scale(1.0400,1)" fill="#111"><text font-size="23.40">&#8199;50</text><path transform="scale(23.400)" d="M0.2850 -0.505H0.1280V-0.568Q0.2300 -0.581 0.2610 -0.604Q0.2920 -0.627 0.3150 -0.709H0.3730V0H0.2850Z"/></g>
<line x1="472.5" y1="1236" x2="472.5" y2="1248.4" stroke="#1c1c1c" stroke-width="2"/>
<g transform="translate(452.25,1274.40) scale(1.0400,1)" fill="#111"><text font-size="23.40">&#8199;00</text><path transform="scale(23.400)" d="M0.2850 -0.505H0.1280V-0.568Q0.2300 -0.581 0.2610 -0.604Q0.2920 -0.627 0.3150 -0.709H0.3730V0H0.2850Z"/></g>
<line x1="547.2" y1="1236" x2="547.2" y2="1248.4" stroke="#1c1c1c" stroke-width="2"/>
<text transform="translate(533.71,1274.40) scale(1.0400,1)" font-size="23.40" fill="#111">50</text>
<line x1="621.9" y1="1236" x2="621.9" y2="1248.4" stroke="#1c1c1c" stroke-width="2"/>
<text transform="translate(615.16,1274.40) scale(1.0400,1)" font-size="23.40" fill="#111">0</text>
<line x1="696.6" y1="1236" x2="696.6" y2="1248.4" stroke="#1c1c1c" stroke-width="2"/>
<text transform="translate(679.03,1274.40) scale(1.0400,1)" font-size="23.40" fill="#111">-50</text>
<line x1="771.3" y1="1236" x2="771.3" y2="1248.4" stroke="#1c1c1c" stroke-width="2"/>
<g transform="translate(746.96,1274.40) scale(1.0400,1)" fill="#111"><text font-size="23.40">-&#8199;00</text><path transform="scale(23.400)" d="M0.6180 -0.505H0.4610V-0.568Q0.5630 -0.581 0.5940 -0.604Q0.6250 -0.627 0.6480 -0.709H0.7060V0H0.6180Z"/></g>
<line x1="846.0" y1="1236" x2="846.0" y2="1248.4" stroke="#1c1c1c" stroke-width="2"/>
<g transform="translate(821.65,1274.40) scale(1.0400,1)" fill="#111"><text font-size="23.40">-&#8199;50</text><path transform="scale(23.400)" d="M0.6180 -0.505H0.4610V-0.568Q0.5630 -0.581 0.5940 -0.604Q0.6250 -0.627 0.6480 -0.709H0.7060V0H0.6180Z"/></g>
<line x1="136.4" y1="1236" x2="136.4" y2="1243.2" stroke="#1c1c1c" stroke-width="2"/>
<line x1="211.1" y1="1236" x2="211.1" y2="1243.2" stroke="#1c1c1c" stroke-width="2"/>
<line x1="285.8" y1="1236" x2="285.8" y2="1243.2" stroke="#1c1c1c" stroke-width="2"/>
<line x1="360.5" y1="1236" x2="360.5" y2="1243.2" stroke="#1c1c1c" stroke-width="2"/>
<line x1="435.2" y1="1236" x2="435.2" y2="1243.2" stroke="#1c1c1c" stroke-width="2"/>
<line x1="509.9" y1="1236" x2="509.9" y2="1243.2" stroke="#1c1c1c" stroke-width="2"/>
<line x1="584.6" y1="1236" x2="584.6" y2="1243.2" stroke="#1c1c1c" stroke-width="2"/>
<line x1="659.3" y1="1236" x2="659.3" y2="1243.2" stroke="#1c1c1c" stroke-width="2"/>
<line x1="734.0" y1="1236" x2="734.0" y2="1243.2" stroke="#1c1c1c" stroke-width="2"/>
<line x1="808.7" y1="1236" x2="808.7" y2="1243.2" stroke="#1c1c1c" stroke-width="2"/>
<g transform="translate(282.10,1313.30) scale(1.1868,1)" fill="#111"><text font-size="17.80">&#8199;3</text><path transform="scale(17.800)" d="M0.2850 -0.505H0.1280V-0.568Q0.2300 -0.581 0.2610 -0.604Q0.2920 -0.627 0.3150 -0.709H0.3730V0H0.2850Z"/></g>
<text transform="translate(305.88,1333.30) scale(1.0168,1)" font-size="33.80" fill="#111">C Chemical Shift (ppm)</text>
<rect x="58.5" y="685.7" width="338" height="125.8" fill="#fff" stroke="#9a4ea6" stroke-width="3"/>
<line x1="100.8" y1="743.5" x2="94.8" y2="730.2" stroke="#1a7a1a" stroke-width="2.6" stroke-linecap="round"/>
<line x1="94.8" y1="730.2" x2="88.9" y2="716.9" stroke="#c4d4ee" stroke-width="2.6" stroke-linecap="round"/>
<line x1="100.8" y1="743.5" x2="104.0" y2="731.2" stroke="#1a7a1a" stroke-width="2.6" stroke-linecap="round"/>
<line x1="104.0" y1="731.2" x2="107.3" y2="718.9" stroke="#c4d4ee" stroke-width="2.6" stroke-linecap="round"/>
<line x1="100.8" y1="743.5" x2="88.7" y2="758.9" stroke="#1a7a1a" stroke-width="2.6" stroke-linecap="round"/>
<line x1="88.7" y1="758.9" x2="76.6" y2="774.2" stroke="#c4d4ee" stroke-width="2.6" stroke-linecap="round"/>
<line x1="145.5" y1="770.5" x2="140.5" y2="783.2" stroke="#e01010" stroke-width="2.6" stroke-linecap="round"/>
<line x1="140.5" y1="783.2" x2="135.5" y2="796.0" stroke="#c4d4ee" stroke-width="2.6" stroke-linecap="round"/>
<line x1="145.5" y1="770.5" x2="149.6" y2="784.4" stroke="#e01010" stroke-width="2.6" stroke-linecap="round"/>
<line x1="149.6" y1="784.4" x2="153.7" y2="798.3" stroke="#c4d4ee" stroke-width="2.6" stroke-linecap="round"/>
<line x1="185.2" y1="735.3" x2="181.1" y2="722.5" stroke="#e01010" stroke-width="2.6" stroke-linecap="round"/>
<line x1="181.1" y1="722.5" x2="177.0" y2="709.7" stroke="#c4d4ee" stroke-width="2.6" stroke-linecap="round"/>
<line x1="185.2" y1="735.3" x2="190.8" y2="724.0" stroke="#e01010" stroke-width="2.6" stroke-linecap="round"/>
<line x1="190.8" y1="724.0" x2="196.4" y2="712.8" stroke="#c4d4ee" stroke-width="2.6" stroke-linecap="round"/>
<line x1="230.6" y1="765.0" x2="225.4" y2="774.8" stroke="#e01010" stroke-width="2.6" stroke-linecap="round"/>
<line x1="225.4" y1="774.8" x2="220.2" y2="784.6" stroke="#c4d4ee" stroke-width="2.6" stroke-linecap="round"/>
<line x1="230.6" y1="765.0" x2="235.1" y2="780.8" stroke="#e01010" stroke-width="2.6" stroke-linecap="round"/>
<line x1="235.1" y1="780.8" x2="239.7" y2="796.5" stroke="#c4d4ee" stroke-width="2.6" stroke-linecap="round"/>
<line x1="276.5" y1="733.6" x2="271.8" y2="716.5" stroke="#e01010" stroke-width="2.6" stroke-linecap="round"/>
<line x1="271.8" y1="716.5" x2="267.1" y2="699.5" stroke="#c4d4ee" stroke-width="2.6" stroke-linecap="round"/>
<line x1="276.5" y1="733.6" x2="281.1" y2="726.4" stroke="#e01010" stroke-width="2.6" stroke-linecap="round"/>
<line x1="281.1" y1="726.4" x2="285.8" y2="719.1" stroke="#c4d4ee" stroke-width="2.6" stroke-linecap="round"/>
<line x1="316.6" y1="761.8" x2="311.9" y2="769.0" stroke="#e01010" stroke-width="2.6" stroke-linecap="round"/>
<line x1="311.9" y1="769.0" x2="307.2" y2="776.3" stroke="#c4d4ee" stroke-width="2.6" stroke-linecap="round"/>
<line x1="316.6" y1="761.8" x2="320.4" y2="779.3" stroke="#e01010" stroke-width="2.6" stroke-linecap="round"/>
<line x1="320.4" y1="779.3" x2="324.2" y2="796.8" stroke="#c4d4ee" stroke-width="2.6" stroke-linecap="round"/>
<line x1="360.9" y1="731.1" x2="358.4" y2="714.0" stroke="#1a7a1a" stroke-width="2.6" stroke-linecap="round"/>
<line x1="358.4" y1="714.0" x2="355.8" y2="697.0" stroke="#c4d4ee" stroke-width="2.6" stroke-linecap="round"/>
<line x1="360.9" y1="731.1" x2="367.3" y2="724.2" stroke="#1a7a1a" stroke-width="2.6" stroke-linecap="round"/>
<line x1="367.3" y1="724.2" x2="373.7" y2="717.4" stroke="#c4d4ee" stroke-width="2.6" stroke-linecap="round"/>
<line x1="360.9" y1="731.1" x2="373.3" y2="744.8" stroke="#1a7a1a" stroke-width="2.6" stroke-linecap="round"/>
<line x1="373.3" y1="744.8" x2="385.7" y2="758.4" stroke="#c4d4ee" stroke-width="2.6" stroke-linecap="round"/>
<line x1="100.8" y1="743.5" x2="123.2" y2="757.0" stroke="#1a7a1a" stroke-width="3.8" stroke-linecap="round"/>
<line x1="123.2" y1="757.0" x2="145.5" y2="770.5" stroke="#e01010" stroke-width="3.8" stroke-linecap="round"/>
<line x1="145.5" y1="770.5" x2="165.3" y2="752.9" stroke="#e01010" stroke-width="3.8" stroke-linecap="round"/>
<line x1="165.3" y1="752.9" x2="185.2" y2="735.3" stroke="#e01010" stroke-width="3.8" stroke-linecap="round"/>
<line x1="185.2" y1="735.3" x2="207.9" y2="750.1" stroke="#e01010" stroke-width="3.8" stroke-linecap="round"/>
<line x1="207.9" y1="750.1" x2="230.6" y2="765.0" stroke="#e01010" stroke-width="3.8" stroke-linecap="round"/>
<line x1="230.6" y1="765.0" x2="253.6" y2="749.3" stroke="#e01010" stroke-width="3.8" stroke-linecap="round"/>
<line x1="253.6" y1="749.3" x2="276.5" y2="733.6" stroke="#e01010" stroke-width="3.8" stroke-linecap="round"/>
<line x1="276.5" y1="733.6" x2="296.6" y2="747.7" stroke="#e01010" stroke-width="3.8" stroke-linecap="round"/>
<line x1="296.6" y1="747.7" x2="316.6" y2="761.8" stroke="#e01010" stroke-width="3.8" stroke-linecap="round"/>
<line x1="316.6" y1="761.8" x2="338.8" y2="746.5" stroke="#e01010" stroke-width="3.8" stroke-linecap="round"/>
<line x1="338.8" y1="746.5" x2="360.9" y2="731.1" stroke="#1a7a1a" stroke-width="3.8" stroke-linecap="round"/>
<ellipse cx="88.9" cy="716.9" rx="6.4" ry="8" fill="url(#gH)"/>
<ellipse cx="107.3" cy="718.9" rx="6.4" ry="8" fill="url(#gH)"/>
<ellipse cx="76.6" cy="774.2" rx="6.4" ry="8" fill="url(#gH)"/>
<ellipse cx="135.5" cy="796.0" rx="6.4" ry="8" fill="url(#gH)"/>
<ellipse cx="153.7" cy="798.3" rx="6.4" ry="8" fill="url(#gH)"/>
<ellipse cx="177.0" cy="709.7" rx="6.4" ry="8" fill="url(#gH)"/>
<ellipse cx="196.4" cy="712.8" rx="6.4" ry="8" fill="url(#gH)"/>
<ellipse cx="220.2" cy="784.6" rx="6.4" ry="8" fill="url(#gH)"/>
<ellipse cx="239.7" cy="796.5" rx="6.4" ry="8" fill="url(#gH)"/>
<ellipse cx="267.1" cy="699.5" rx="6.4" ry="8" fill="url(#gH)"/>
<ellipse cx="285.8" cy="719.1" rx="6.4" ry="8" fill="url(#gH)"/>
<ellipse cx="307.2" cy="776.3" rx="6.4" ry="8" fill="url(#gH)"/>
<ellipse cx="324.2" cy="796.8" rx="6.4" ry="8" fill="url(#gH)"/>
<ellipse cx="355.8" cy="697.0" rx="6.4" ry="8" fill="url(#gH)"/>
<ellipse cx="373.7" cy="717.4" rx="6.4" ry="8" fill="url(#gH)"/>
<ellipse cx="385.7" cy="758.4" rx="6.4" ry="8" fill="url(#gH)"/>
<ellipse cx="145.5" cy="770.5" rx="6.8" ry="7.4" fill="url(#gC)"/>
<ellipse cx="185.2" cy="735.3" rx="6.8" ry="7.4" fill="url(#gC)"/>
<ellipse cx="230.6" cy="765.0" rx="6.8" ry="7.4" fill="url(#gC)"/>
<ellipse cx="276.5" cy="733.6" rx="6.8" ry="7.4" fill="url(#gC)"/>
<ellipse cx="316.6" cy="761.8" rx="6.8" ry="7.4" fill="url(#gC)"/>
<ellipse cx="100.8" cy="743.5" rx="7" ry="7.6" fill="url(#gN)"/>
<ellipse cx="360.9" cy="731.1" rx="7" ry="7.6" fill="url(#gN)"/>
<text transform="translate(97.03,767.30) scale(0.9670,1)" font-size="15.14" fill="#151515">N</text>
<text transform="translate(136.95,760.40) scale(0.9647,1)" font-size="15.57" fill="#151515">C3</text>
<text transform="translate(160.73,807.70) scale(0.9404,1)" font-size="15.57" fill="#151515">H</text>
<text transform="translate(178.10,760.40) scale(0.8280,1)" font-size="16.86" fill="#151515">C2</text>
<g transform="translate(223.11,754.90) scale(0.8909,1)" fill="#151515"><text font-size="15.57">C&#8199;</text><path transform="scale(15.571)" d="M1.0072 -0.505H0.8502V-0.568Q0.9522 -0.581 0.9832 -0.604Q1.0142 -0.627 1.0372 -0.709H1.0952V0H1.0072Z"/></g>
<text transform="translate(267.24,757.40) scale(0.8995,1)" font-size="14.57" fill="#151515">C2</text>
<text transform="translate(308.14,750.60) scale(1.0367,1)" font-size="14.57" fill="#151515">C3</text>
</svg>
</body></html>
